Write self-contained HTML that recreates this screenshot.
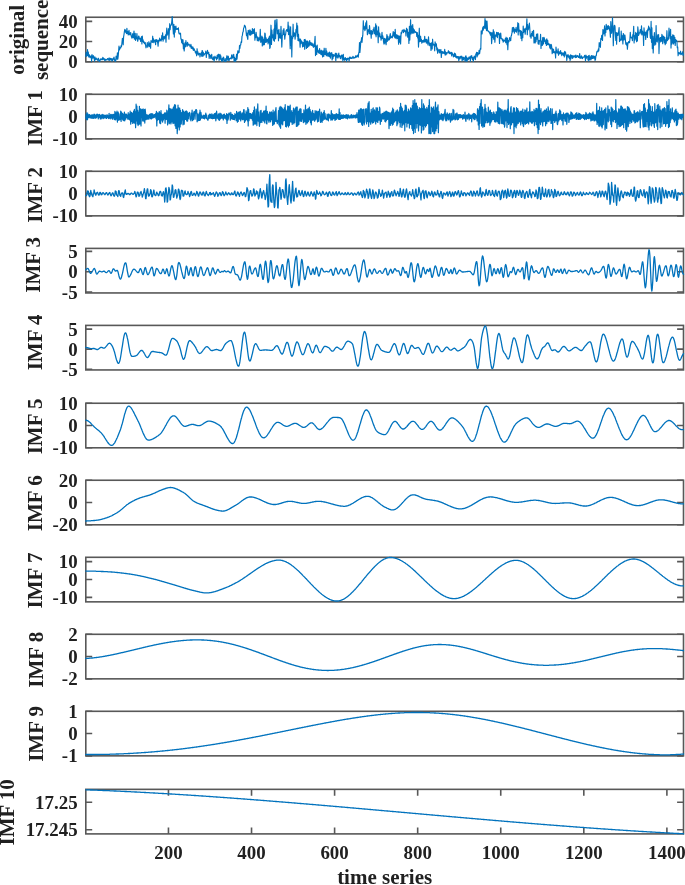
<!DOCTYPE html>
<html><head><meta charset="utf-8"><style>
html,body{margin:0;padding:0;background:#fff;width:685px;height:885px;overflow:hidden;position:relative}
text{font-family:"Liberation Serif",serif;}
</style></head><body>
<svg width="685" height="885" viewBox="0 0 685 885" style="position:absolute;left:0;top:0;will-change:transform;filter:blur(0.3px)">
<g fill="none" stroke="#585858" stroke-width="1.6">
<rect x="85.8" y="17.25" width="597.7" height="44.55"/>
<rect x="85.8" y="94.30" width="597.7" height="44.55"/>
<rect x="85.8" y="171.30" width="597.7" height="44.55"/>
<rect x="85.8" y="248.40" width="597.7" height="44.55"/>
<rect x="85.8" y="325.40" width="597.7" height="44.55"/>
<rect x="85.8" y="403.25" width="597.7" height="44.55"/>
<rect x="85.8" y="480.25" width="597.7" height="44.55"/>
<rect x="85.8" y="557.30" width="597.7" height="44.55"/>
<rect x="85.8" y="634.30" width="597.7" height="44.55"/>
<rect x="85.8" y="711.30" width="597.7" height="44.55"/>
<rect x="85.8" y="789.35" width="597.7" height="44.55"/>
</g>
<g fill="none" stroke="#585858" stroke-width="1.6">
<path d="M85.8,21.34h6.4M683.5,21.34h-6.4"/>
<path d="M85.8,41.48h6.4M683.5,41.48h-6.4"/>
<path d="M85.8,61.80h6.4M683.5,61.80h-6.4"/>
<path d="M85.8,94.30h6.4M683.5,94.30h-6.4"/>
<path d="M85.8,116.57h6.4M683.5,116.57h-6.4"/>
<path d="M85.8,138.85h6.4M683.5,138.85h-6.4"/>
<path d="M85.8,171.30h6.4M683.5,171.30h-6.4"/>
<path d="M85.8,193.58h6.4M683.5,193.58h-6.4"/>
<path d="M85.8,215.85h6.4M683.5,215.85h-6.4"/>
<path d="M85.8,251.35h6.4M683.5,251.35h-6.4"/>
<path d="M85.8,271.70h6.4M683.5,271.70h-6.4"/>
<path d="M85.8,292.00h6.4M683.5,292.00h-6.4"/>
<path d="M85.8,329.15h6.4M683.5,329.15h-6.4"/>
<path d="M85.8,349.15h6.4M683.5,349.15h-6.4"/>
<path d="M85.8,369.20h6.4M683.5,369.20h-6.4"/>
<path d="M85.8,403.25h6.4M683.5,403.25h-6.4"/>
<path d="M85.8,425.52h6.4M683.5,425.52h-6.4"/>
<path d="M85.8,447.80h6.4M683.5,447.80h-6.4"/>
<path d="M85.8,480.25h6.4M683.5,480.25h-6.4"/>
<path d="M85.8,502.52h6.4M683.5,502.52h-6.4"/>
<path d="M85.8,524.80h6.4M683.5,524.80h-6.4"/>
<path d="M85.8,561.60h6.4M683.5,561.60h-6.4"/>
<path d="M85.8,579.50h6.4M683.5,579.50h-6.4"/>
<path d="M85.8,597.40h6.4M683.5,597.40h-6.4"/>
<path d="M85.8,634.30h6.4M683.5,634.30h-6.4"/>
<path d="M85.8,656.57h6.4M683.5,656.57h-6.4"/>
<path d="M85.8,678.85h6.4M683.5,678.85h-6.4"/>
<path d="M85.8,711.30h6.4M683.5,711.30h-6.4"/>
<path d="M85.8,733.57h6.4M683.5,733.57h-6.4"/>
<path d="M85.8,755.85h6.4M683.5,755.85h-6.4"/>
<path d="M85.8,802.30h6.4M683.5,802.30h-6.4"/>
<path d="M85.8,829.80h6.4M683.5,829.80h-6.4"/>
<path d="M168.46,833.90v-6.4M168.46,789.35v6.4"/>
<path d="M251.53,833.90v-6.4M251.53,789.35v6.4"/>
<path d="M334.60,833.90v-6.4M334.60,789.35v6.4"/>
<path d="M417.67,833.90v-6.4M417.67,789.35v6.4"/>
<path d="M500.74,833.90v-6.4M500.74,789.35v6.4"/>
<path d="M583.81,833.90v-6.4M583.81,789.35v6.4"/>
<path d="M666.89,833.90v-6.4M666.89,789.35v6.4"/>
</g>
<g fill="none" stroke="#0072BD" stroke-width="1.3" stroke-linejoin="round" stroke-linecap="round">
<path stroke-width="1.15" d="M85.8,56.5 L86.2,52.3 L86.6,56.1 L87.0,55.9 L87.5,49.6 L87.9,55.3 L88.3,52.1 L88.7,56.9 L89.1,56.8 L89.5,54.8 L90.0,57.7 L90.4,56.9 L90.8,56.3 L91.2,55.8 L91.6,61.3 L92.0,54.6 L92.4,57.5 L92.9,58.2 L93.3,55.6 L93.7,57.7 L94.1,57.4 L94.5,61.2 L94.9,56.9 L95.4,58.8 L95.8,59.8 L96.2,58.0 L96.6,59.2 L97.0,59.1 L97.4,59.8 L97.8,60.3 L98.3,58.2 L98.7,59.0 L99.1,61.3 L99.5,61.3 L99.9,61.3 L100.3,59.3 L100.8,58.9 L101.2,59.3 L101.6,59.7 L102.0,58.7 L102.4,59.7 L102.8,57.4 L103.2,59.1 L103.7,58.2 L104.1,59.8 L104.5,59.1 L104.9,60.9 L105.3,59.2 L105.7,60.2 L106.2,59.7 L106.6,60.0 L107.0,60.0 L107.4,58.6 L107.8,58.6 L108.2,59.1 L108.6,60.1 L109.1,57.8 L109.5,60.4 L109.9,60.1 L110.3,58.3 L110.7,59.1 L111.1,60.0 L111.6,58.6 L112.0,61.1 L112.4,59.2 L112.8,60.4 L113.2,58.4 L113.6,59.2 L114.0,57.0 L114.5,59.8 L114.9,61.2 L115.3,59.9 L115.7,61.3 L116.1,56.1 L116.5,58.6 L117.0,59.2 L117.4,52.8 L117.8,59.1 L118.2,56.2 L118.6,51.2 L119.0,46.1 L119.4,50.0 L119.9,48.6 L120.3,47.5 L120.7,47.8 L121.1,45.5 L121.5,46.7 L121.9,43.2 L122.4,38.3 L122.8,40.4 L123.2,44.8 L123.6,36.9 L124.0,34.5 L124.4,31.6 L124.8,29.3 L125.3,30.0 L125.7,32.4 L126.1,31.3 L126.5,33.7 L126.9,28.3 L127.3,33.4 L127.8,31.6 L128.2,34.9 L128.6,34.2 L129.0,30.3 L129.4,33.7 L129.8,34.8 L130.2,33.6 L130.7,32.6 L131.1,35.6 L131.5,36.7 L131.9,38.2 L132.3,36.1 L132.7,33.7 L133.2,37.7 L133.6,34.9 L134.0,31.1 L134.4,39.1 L134.8,37.0 L135.2,33.4 L135.6,40.5 L136.1,37.0 L136.5,38.7 L136.9,33.6 L137.3,38.2 L137.7,41.3 L138.1,39.4 L138.6,36.0 L139.0,36.4 L139.4,39.1 L139.8,38.2 L140.2,38.4 L140.6,41.4 L141.0,38.4 L141.5,36.7 L141.9,43.9 L142.3,36.0 L142.7,41.5 L143.1,39.9 L143.5,42.5 L144.0,41.7 L144.4,43.7 L144.8,43.2 L145.2,42.5 L145.6,45.4 L146.0,47.8 L146.4,46.1 L146.9,45.5 L147.3,42.5 L147.7,47.1 L148.1,45.0 L148.5,45.1 L148.9,41.7 L149.3,46.7 L149.8,43.2 L150.2,43.2 L150.6,48.1 L151.0,40.5 L151.4,41.0 L151.8,41.6 L152.3,42.4 L152.7,36.2 L153.1,42.0 L153.5,38.9 L153.9,42.6 L154.3,40.6 L154.7,40.7 L155.2,39.8 L155.6,44.6 L156.0,39.9 L156.4,39.6 L156.8,41.4 L157.2,40.1 L157.7,42.9 L158.1,46.3 L158.5,40.3 L158.9,41.8 L159.3,39.9 L159.7,38.0 L160.1,40.4 L160.6,39.7 L161.0,41.1 L161.4,40.0 L161.8,35.6 L162.2,39.3 L162.6,32.8 L163.1,41.1 L163.5,38.2 L163.9,36.6 L164.3,38.9 L164.7,36.7 L165.1,37.8 L165.5,34.8 L166.0,42.2 L166.4,33.2 L166.8,28.0 L167.2,35.1 L167.6,32.7 L168.0,34.0 L168.5,28.7 L168.9,39.1 L169.3,32.2 L169.7,23.7 L170.1,29.8 L170.5,26.0 L170.9,25.4 L171.4,24.6 L171.8,21.4 L172.2,16.6 L172.6,22.9 L173.0,27.9 L173.4,34.0 L173.9,24.4 L174.3,37.1 L174.7,26.5 L175.1,32.2 L175.5,27.6 L175.9,26.1 L176.3,29.2 L176.8,29.5 L177.2,28.5 L177.6,28.8 L178.0,29.4 L178.4,27.8 L178.8,32.7 L179.3,34.1 L179.7,33.2 L180.1,33.3 L180.5,33.2 L180.9,39.0 L181.3,38.9 L181.7,42.8 L182.2,39.7 L182.6,43.8 L183.0,39.7 L183.4,48.8 L183.8,43.9 L184.2,51.0 L184.7,45.0 L185.1,42.6 L185.5,46.8 L185.9,40.5 L186.3,44.6 L186.7,43.3 L187.1,46.4 L187.6,42.3 L188.0,45.1 L188.4,45.1 L188.8,44.1 L189.2,45.0 L189.6,44.9 L190.1,46.9 L190.5,46.6 L190.9,44.3 L191.3,48.5 L191.7,46.3 L192.1,47.4 L192.5,48.9 L193.0,47.0 L193.4,50.5 L193.8,48.7 L194.2,48.8 L194.6,50.4 L195.0,50.8 L195.5,53.0 L195.9,51.6 L196.3,53.7 L196.7,55.8 L197.1,48.7 L197.5,53.9 L197.9,51.7 L198.4,55.0 L198.8,53.5 L199.2,53.9 L199.6,53.3 L200.0,56.9 L200.4,54.2 L200.9,53.7 L201.3,52.7 L201.7,56.2 L202.1,50.6 L202.5,50.7 L202.9,56.5 L203.3,52.3 L203.8,55.2 L204.2,54.9 L204.6,54.0 L205.0,53.3 L205.4,53.5 L205.8,51.1 L206.3,57.4 L206.7,52.3 L207.1,53.6 L207.5,50.3 L207.9,53.0 L208.3,54.0 L208.7,52.4 L209.2,58.5 L209.6,54.6 L210.0,55.5 L210.4,55.4 L210.8,58.3 L211.2,58.1 L211.7,54.4 L212.1,58.6 L212.5,59.0 L212.9,59.7 L213.3,57.5 L213.7,56.9 L214.1,61.3 L214.6,57.5 L215.0,56.2 L215.4,57.9 L215.8,57.5 L216.2,58.4 L216.6,59.9 L217.1,55.6 L217.5,58.5 L217.9,54.7 L218.3,55.9 L218.7,54.2 L219.1,60.4 L219.5,57.4 L220.0,54.4 L220.4,59.1 L220.8,55.9 L221.2,59.6 L221.6,61.1 L222.0,59.4 L222.5,58.3 L222.9,61.3 L223.3,57.0 L223.7,57.6 L224.1,58.6 L224.5,61.3 L224.9,60.3 L225.4,61.3 L225.8,58.5 L226.2,61.3 L226.6,57.1 L227.0,55.7 L227.4,58.8 L227.9,60.3 L228.3,56.2 L228.7,59.9 L229.1,60.6 L229.5,58.6 L229.9,58.6 L230.3,58.0 L230.8,58.1 L231.2,58.9 L231.6,55.4 L232.0,54.7 L232.4,58.1 L232.8,56.2 L233.3,57.4 L233.7,54.4 L234.1,61.3 L234.5,57.2 L234.9,61.1 L235.3,58.7 L235.7,61.3 L236.2,57.6 L236.6,54.2 L237.0,59.3 L237.4,55.0 L237.8,50.8 L238.2,53.2 L238.7,50.9 L239.1,52.5 L239.5,45.5 L239.9,48.5 L240.3,44.8 L240.7,45.0 L241.1,41.9 L241.6,42.3 L242.0,36.4 L242.4,35.4 L242.8,32.2 L243.2,31.8 L243.6,28.2 L244.1,27.5 L244.5,25.2 L244.9,25.9 L245.3,26.0 L245.7,28.4 L246.1,31.6 L246.5,35.7 L247.0,33.1 L247.4,37.7 L247.8,39.5 L248.2,30.4 L248.6,30.8 L249.0,30.8 L249.5,34.9 L249.9,29.9 L250.3,30.3 L250.7,35.3 L251.1,31.9 L251.5,31.5 L251.9,34.1 L252.4,28.6 L252.8,33.5 L253.2,29.6 L253.6,33.3 L254.0,33.1 L254.4,28.7 L254.9,40.2 L255.3,34.6 L255.7,37.7 L256.1,32.3 L256.5,35.7 L256.9,37.1 L257.3,40.6 L257.8,37.0 L258.2,40.8 L258.6,38.1 L259.0,41.0 L259.4,37.5 L259.8,39.5 L260.3,29.4 L260.7,42.3 L261.1,37.3 L261.5,41.9 L261.9,36.1 L262.3,45.9 L262.7,37.4 L263.2,45.0 L263.6,39.2 L264.0,39.9 L264.4,44.6 L264.8,33.0 L265.2,33.7 L265.6,42.4 L266.1,37.8 L266.5,42.2 L266.9,40.5 L267.3,39.4 L267.7,39.9 L268.1,43.9 L268.6,38.0 L269.0,42.5 L269.4,36.1 L269.8,48.4 L270.2,47.4 L270.6,37.0 L271.0,25.2 L271.5,44.5 L271.9,30.1 L272.3,38.0 L272.7,34.9 L273.1,35.5 L273.5,40.2 L274.0,29.0 L274.4,41.2 L274.8,21.0 L275.2,20.0 L275.6,38.8 L276.0,29.0 L276.4,26.6 L276.9,19.4 L277.3,33.8 L277.7,33.4 L278.1,30.7 L278.5,40.8 L278.9,29.3 L279.4,37.4 L279.8,33.5 L280.2,38.5 L280.6,35.1 L281.0,26.4 L281.4,36.4 L281.8,47.1 L282.3,35.4 L282.7,35.3 L283.1,30.0 L283.5,34.5 L283.9,28.5 L284.3,33.3 L284.8,39.2 L285.2,34.4 L285.6,34.8 L286.0,31.1 L286.4,30.4 L286.8,29.6 L287.2,30.6 L287.7,31.5 L288.1,22.0 L288.5,34.6 L288.9,26.0 L289.3,29.2 L289.7,35.2 L290.2,48.7 L290.6,26.8 L291.0,45.3 L291.4,36.1 L291.8,57.0 L292.2,37.4 L292.6,38.7 L293.1,24.2 L293.5,36.6 L293.9,33.9 L294.3,32.8 L294.7,34.1 L295.1,39.1 L295.6,34.0 L296.0,29.4 L296.4,32.1 L296.8,23.0 L297.2,36.3 L297.6,25.8 L298.0,40.5 L298.5,34.2 L298.9,40.9 L299.3,40.2 L299.7,39.1 L300.1,47.2 L300.5,39.1 L301.0,43.7 L301.4,40.8 L301.8,42.1 L302.2,41.9 L302.6,47.0 L303.0,43.6 L303.4,42.5 L303.9,46.5 L304.3,39.6 L304.7,49.3 L305.1,39.3 L305.5,44.8 L305.9,40.9 L306.4,48.4 L306.8,41.7 L307.2,40.9 L307.6,47.5 L308.0,41.5 L308.4,43.1 L308.8,46.3 L309.3,45.0 L309.7,40.6 L310.1,44.9 L310.5,42.5 L310.9,43.8 L311.3,45.4 L311.8,42.8 L312.2,44.3 L312.6,46.0 L313.0,43.8 L313.4,47.3 L313.8,45.2 L314.2,46.7 L314.7,41.9 L315.1,36.4 L315.5,55.6 L315.9,45.7 L316.3,49.0 L316.7,54.5 L317.2,45.0 L317.6,51.8 L318.0,50.0 L318.4,52.6 L318.8,51.0 L319.2,53.5 L319.6,48.5 L320.1,53.2 L320.5,51.0 L320.9,54.5 L321.3,50.2 L321.7,54.6 L322.1,51.1 L322.6,56.9 L323.0,50.8 L323.4,54.0 L323.8,56.5 L324.2,48.2 L324.6,54.1 L325.0,54.5 L325.5,54.5 L325.9,48.4 L326.3,55.8 L326.7,51.1 L327.1,55.2 L327.5,53.2 L328.0,56.3 L328.4,52.9 L328.8,55.8 L329.2,56.6 L329.6,52.1 L330.0,56.0 L330.4,58.2 L330.9,53.0 L331.3,55.0 L331.7,52.5 L332.1,60.0 L332.5,54.2 L332.9,58.6 L333.4,54.5 L333.8,56.4 L334.2,55.0 L334.6,55.4 L335.0,56.0 L335.4,53.2 L335.8,60.8 L336.3,54.3 L336.7,53.4 L337.1,57.2 L337.5,55.4 L337.9,58.1 L338.3,56.1 L338.8,53.1 L339.2,56.9 L339.6,55.7 L340.0,55.6 L340.4,58.6 L340.8,56.7 L341.2,56.5 L341.7,55.0 L342.1,59.0 L342.5,55.3 L342.9,61.3 L343.3,54.3 L343.7,59.5 L344.2,58.2 L344.6,60.3 L345.0,58.2 L345.4,57.7 L345.8,59.7 L346.2,58.5 L346.6,61.3 L347.1,58.7 L347.5,59.4 L347.9,58.0 L348.3,58.7 L348.7,58.4 L349.1,61.1 L349.6,57.1 L350.0,58.5 L350.4,57.7 L350.8,57.2 L351.2,58.5 L351.6,58.5 L352.0,57.9 L352.5,58.1 L352.9,56.3 L353.3,57.1 L353.7,58.2 L354.1,57.3 L354.5,58.0 L355.0,57.4 L355.4,57.6 L355.8,55.7 L356.2,57.2 L356.6,56.1 L357.0,56.8 L357.4,55.1 L357.9,56.0 L358.3,57.1 L358.7,53.1 L359.1,51.7 L359.5,42.6 L359.9,52.5 L360.4,46.9 L360.8,41.3 L361.2,41.2 L361.6,37.7 L362.0,42.5 L362.4,38.2 L362.8,35.2 L363.3,20.7 L363.7,29.1 L364.1,26.1 L364.5,27.3 L364.9,30.6 L365.3,29.1 L365.8,22.8 L366.2,28.7 L366.6,20.8 L367.0,27.5 L367.4,34.6 L367.8,30.1 L368.2,31.1 L368.7,29.5 L369.1,33.6 L369.5,25.5 L369.9,29.8 L370.3,34.0 L370.7,30.8 L371.2,38.1 L371.6,30.6 L372.0,34.1 L372.4,31.7 L372.8,34.0 L373.2,29.3 L373.6,30.8 L374.1,27.2 L374.5,33.5 L374.9,30.7 L375.3,34.8 L375.7,23.8 L376.1,36.8 L376.6,25.9 L377.0,34.7 L377.4,30.9 L377.8,32.3 L378.2,42.7 L378.6,26.8 L379.0,36.6 L379.5,33.0 L379.9,34.0 L380.3,37.5 L380.7,36.6 L381.1,40.1 L381.5,37.6 L382.0,32.3 L382.4,38.4 L382.8,35.9 L383.2,38.4 L383.6,42.1 L384.0,44.2 L384.4,38.4 L384.9,43.1 L385.3,40.4 L385.7,38.9 L386.1,44.6 L386.5,39.6 L386.9,34.6 L387.3,41.4 L387.8,36.2 L388.2,38.2 L388.6,40.2 L389.0,40.0 L389.4,39.4 L389.8,36.1 L390.3,33.5 L390.7,38.1 L391.1,37.1 L391.5,37.4 L391.9,36.2 L392.3,37.8 L392.7,35.5 L393.2,31.5 L393.6,34.9 L394.0,36.4 L394.4,32.7 L394.8,37.7 L395.2,29.4 L395.7,38.1 L396.1,36.9 L396.5,34.7 L396.9,38.8 L397.3,35.1 L397.7,38.5 L398.1,35.8 L398.6,44.2 L399.0,35.8 L399.4,42.3 L399.8,37.8 L400.2,36.2 L400.6,43.9 L401.1,32.6 L401.5,33.6 L401.9,32.0 L402.3,30.1 L402.7,30.6 L403.1,30.4 L403.5,32.6 L404.0,29.3 L404.4,31.3 L404.8,30.5 L405.2,31.7 L405.6,30.9 L406.0,36.0 L406.5,28.2 L406.9,31.5 L407.3,29.2 L407.7,37.1 L408.1,34.0 L408.5,32.4 L408.9,43.5 L409.4,26.3 L409.8,40.1 L410.2,29.8 L410.6,19.7 L411.0,33.9 L411.4,25.8 L411.9,29.4 L412.3,33.1 L412.7,24.5 L413.1,32.8 L413.5,28.9 L413.9,33.2 L414.3,29.9 L414.8,32.2 L415.2,31.5 L415.6,32.4 L416.0,32.4 L416.4,32.2 L416.8,36.5 L417.3,32.6 L417.7,37.9 L418.1,35.3 L418.5,47.1 L418.9,37.8 L419.3,28.2 L419.7,41.7 L420.2,40.6 L420.6,36.2 L421.0,41.4 L421.4,39.4 L421.8,43.2 L422.2,40.6 L422.7,40.7 L423.1,42.3 L423.5,40.0 L423.9,40.8 L424.3,42.0 L424.7,36.4 L425.1,42.0 L425.6,39.5 L426.0,39.4 L426.4,43.1 L426.8,39.4 L427.2,41.0 L427.6,43.2 L428.1,45.1 L428.5,36.8 L428.9,42.7 L429.3,42.6 L429.7,45.6 L430.1,44.3 L430.5,43.3 L431.0,50.4 L431.4,44.8 L431.8,42.5 L432.2,49.0 L432.6,39.2 L433.0,44.9 L433.5,44.0 L433.9,45.3 L434.3,44.9 L434.7,50.8 L435.1,41.9 L435.5,43.8 L435.9,46.2 L436.4,43.8 L436.8,50.0 L437.2,47.8 L437.6,53.3 L438.0,49.1 L438.4,50.7 L438.9,50.2 L439.3,52.8 L439.7,49.6 L440.1,52.8 L440.5,51.5 L440.9,49.5 L441.3,57.5 L441.8,51.5 L442.2,53.5 L442.6,51.6 L443.0,51.9 L443.4,53.3 L443.8,52.0 L444.3,53.4 L444.7,49.3 L445.1,54.9 L445.5,51.9 L445.9,54.9 L446.3,52.5 L446.7,54.0 L447.2,52.8 L447.6,52.7 L448.0,52.3 L448.4,50.7 L448.8,52.2 L449.2,53.6 L449.7,51.8 L450.1,53.6 L450.5,52.9 L450.9,53.6 L451.3,52.4 L451.7,56.0 L452.1,52.7 L452.6,54.3 L453.0,54.0 L453.4,56.9 L453.8,54.8 L454.2,56.4 L454.6,53.1 L455.1,56.5 L455.5,53.8 L455.9,57.5 L456.3,56.5 L456.7,56.3 L457.1,58.5 L457.5,56.6 L458.0,57.0 L458.4,56.6 L458.8,60.7 L459.2,57.7 L459.6,56.8 L460.0,59.0 L460.5,56.4 L460.9,56.4 L461.3,58.0 L461.7,56.1 L462.1,60.8 L462.5,58.9 L462.9,57.0 L463.4,59.9 L463.8,57.3 L464.2,58.4 L464.6,58.2 L465.0,61.3 L465.4,56.7 L465.9,55.8 L466.3,61.2 L466.7,57.3 L467.1,61.3 L467.5,58.2 L467.9,59.6 L468.3,59.6 L468.8,57.3 L469.2,56.9 L469.6,58.7 L470.0,57.1 L470.4,61.3 L470.8,56.1 L471.3,57.7 L471.7,55.6 L472.1,57.8 L472.5,59.6 L472.9,57.6 L473.3,61.3 L473.7,58.6 L474.2,56.1 L474.6,56.2 L475.0,58.1 L475.4,59.7 L475.8,54.1 L476.2,53.7 L476.7,52.3 L477.1,57.0 L477.5,52.6 L477.9,55.1 L478.3,53.8 L478.7,54.0 L479.1,50.3 L479.6,53.6 L480.0,50.5 L480.4,48.4 L480.8,49.2 L481.2,30.9 L481.6,31.1 L482.1,34.0 L482.5,29.1 L482.9,27.0 L483.3,30.1 L483.7,26.3 L484.1,27.4 L484.5,28.2 L485.0,18.6 L485.4,28.1 L485.8,20.9 L486.2,28.6 L486.6,30.7 L487.0,21.0 L487.5,29.9 L487.9,31.1 L488.3,30.9 L488.7,31.7 L489.1,31.7 L489.5,33.1 L489.9,32.0 L490.4,35.2 L490.8,32.8 L491.2,32.6 L491.6,43.6 L492.0,38.8 L492.4,32.8 L492.9,37.3 L493.3,29.7 L493.7,39.2 L494.1,31.7 L494.5,36.9 L494.9,42.3 L495.3,35.1 L495.8,35.1 L496.2,36.3 L496.6,32.4 L497.0,34.3 L497.4,37.6 L497.8,32.5 L498.3,32.6 L498.7,34.6 L499.1,34.1 L499.5,43.4 L499.9,33.7 L500.3,38.3 L500.7,33.1 L501.2,38.7 L501.6,38.4 L502.0,38.8 L502.4,40.4 L502.8,39.0 L503.2,42.2 L503.7,40.1 L504.1,41.3 L504.5,40.5 L504.9,40.7 L505.3,38.7 L505.7,42.7 L506.1,37.2 L506.6,41.0 L507.0,44.6 L507.4,38.0 L507.8,49.7 L508.2,41.9 L508.6,40.3 L509.0,41.8 L509.5,37.7 L509.9,38.2 L510.3,39.5 L510.7,40.7 L511.1,36.0 L511.5,35.4 L512.0,32.4 L512.4,27.5 L512.8,31.9 L513.2,30.8 L513.6,27.4 L514.0,28.4 L514.4,33.1 L514.9,29.4 L515.3,30.3 L515.7,31.3 L516.1,27.4 L516.5,32.2 L516.9,30.0 L517.4,29.7 L517.8,22.7 L518.2,35.0 L518.6,23.6 L519.0,31.2 L519.4,30.1 L519.8,30.8 L520.3,35.2 L520.7,30.6 L521.1,38.5 L521.5,31.3 L521.9,40.7 L522.3,32.9 L522.8,37.7 L523.2,26.0 L523.6,32.5 L524.0,30.9 L524.4,28.9 L524.8,30.0 L525.2,34.3 L525.7,28.3 L526.1,29.5 L526.5,26.7 L526.9,18.8 L527.3,34.7 L527.7,24.6 L528.2,29.8 L528.6,27.8 L529.0,27.5 L529.4,23.1 L529.8,28.9 L530.2,36.7 L530.6,35.4 L531.1,38.3 L531.5,33.6 L531.9,35.5 L532.3,31.4 L532.7,35.8 L533.1,36.5 L533.6,30.4 L534.0,43.0 L534.4,37.2 L534.8,38.1 L535.2,43.0 L535.6,37.4 L536.0,41.6 L536.5,34.2 L536.9,39.1 L537.3,34.2 L537.7,33.9 L538.1,43.8 L538.5,40.3 L539.0,44.4 L539.4,40.6 L539.8,40.6 L540.2,40.9 L540.6,34.4 L541.0,48.4 L541.4,41.4 L541.9,41.1 L542.3,45.4 L542.7,37.6 L543.1,44.2 L543.5,43.8 L543.9,37.3 L544.4,38.5 L544.8,41.3 L545.2,40.9 L545.6,43.6 L546.0,39.9 L546.4,45.5 L546.8,38.9 L547.3,44.8 L547.7,40.4 L548.1,44.5 L548.5,43.5 L548.9,45.0 L549.3,44.0 L549.8,47.9 L550.2,44.8 L550.6,49.0 L551.0,44.4 L551.4,44.9 L551.8,47.5 L552.2,53.6 L552.7,48.9 L553.1,52.4 L553.5,49.3 L553.9,52.6 L554.3,51.6 L554.7,52.9 L555.2,51.9 L555.6,57.9 L556.0,47.1 L556.4,51.0 L556.8,52.4 L557.2,53.1 L557.6,52.4 L558.1,48.9 L558.5,55.3 L558.9,51.5 L559.3,54.0 L559.7,52.0 L560.1,53.6 L560.6,50.6 L561.0,53.7 L561.4,52.6 L561.8,55.7 L562.2,54.4 L562.6,52.9 L563.0,53.1 L563.5,55.4 L563.9,52.9 L564.3,56.9 L564.7,51.3 L565.1,54.0 L565.5,52.0 L566.0,55.7 L566.4,55.1 L566.8,60.5 L567.2,56.4 L567.6,55.2 L568.0,54.6 L568.4,57.1 L568.9,55.9 L569.3,58.4 L569.7,56.1 L570.1,60.4 L570.5,54.9 L570.9,58.9 L571.4,55.4 L571.8,55.5 L572.2,56.8 L572.6,58.4 L573.0,55.5 L573.4,57.2 L573.8,56.9 L574.3,56.2 L574.7,57.0 L575.1,55.4 L575.5,57.7 L575.9,55.1 L576.3,57.5 L576.8,56.0 L577.2,56.5 L577.6,55.5 L578.0,56.9 L578.4,57.3 L578.8,56.2 L579.2,57.6 L579.7,53.5 L580.1,58.3 L580.5,58.0 L580.9,58.1 L581.3,55.9 L581.7,56.6 L582.2,58.6 L582.6,58.4 L583.0,57.0 L583.4,57.2 L583.8,57.1 L584.2,57.2 L584.6,55.4 L585.1,56.5 L585.5,60.9 L585.9,55.0 L586.3,58.5 L586.7,56.2 L587.1,57.0 L587.6,56.7 L588.0,59.9 L588.4,55.8 L588.8,60.9 L589.2,55.3 L589.6,59.7 L590.0,57.9 L590.5,56.8 L590.9,60.0 L591.3,55.6 L591.7,58.7 L592.1,55.6 L592.5,58.5 L593.0,56.7 L593.4,55.9 L593.8,58.3 L594.2,57.0 L594.6,56.3 L595.0,60.3 L595.4,60.1 L595.9,55.6 L596.3,55.7 L596.7,52.4 L597.1,51.2 L597.5,51.0 L597.9,51.8 L598.4,48.9 L598.8,50.9 L599.2,42.6 L599.6,46.4 L600.0,43.4 L600.4,47.3 L600.8,38.5 L601.3,39.4 L601.7,35.2 L602.1,35.2 L602.5,40.5 L602.9,29.6 L603.3,30.5 L603.8,34.0 L604.2,31.0 L604.6,25.8 L605.0,35.9 L605.4,29.1 L605.8,32.5 L606.2,24.3 L606.7,27.9 L607.1,29.6 L607.5,26.1 L607.9,29.2 L608.3,25.5 L608.7,28.7 L609.2,26.6 L609.6,30.3 L610.0,31.5 L610.4,37.3 L610.8,21.5 L611.2,31.1 L611.6,33.3 L612.1,27.5 L612.5,17.8 L612.9,29.6 L613.3,45.7 L613.7,35.1 L614.1,25.9 L614.6,25.3 L615.0,26.5 L615.4,35.1 L615.8,40.4 L616.2,32.6 L616.6,44.2 L617.0,32.9 L617.5,34.8 L617.9,35.4 L618.3,32.9 L618.7,31.3 L619.1,27.5 L619.5,41.6 L620.0,40.3 L620.4,39.2 L620.8,40.1 L621.2,31.0 L621.6,39.9 L622.0,35.5 L622.4,36.8 L622.9,44.0 L623.3,33.5 L623.7,34.4 L624.1,40.0 L624.5,37.1 L624.9,35.0 L625.3,38.9 L625.8,44.2 L626.2,43.0 L626.6,45.2 L627.0,42.5 L627.4,49.1 L627.8,44.4 L628.3,42.6 L628.7,41.5 L629.1,42.2 L629.5,42.7 L629.9,39.6 L630.3,32.3 L630.7,37.8 L631.2,37.1 L631.6,38.1 L632.0,37.2 L632.4,40.7 L632.8,34.6 L633.2,36.1 L633.7,26.3 L634.1,43.0 L634.5,35.5 L634.9,40.2 L635.3,37.6 L635.7,32.4 L636.1,34.8 L636.6,41.7 L637.0,33.4 L637.4,41.0 L637.8,26.9 L638.2,30.7 L638.6,35.4 L639.1,33.8 L639.5,32.8 L639.9,32.1 L640.3,29.6 L640.7,31.7 L641.1,34.0 L641.5,25.8 L642.0,35.0 L642.4,31.0 L642.8,33.0 L643.2,32.3 L643.6,45.5 L644.0,27.8 L644.5,34.2 L644.9,35.2 L645.3,32.0 L645.7,39.5 L646.1,32.7 L646.5,33.1 L646.9,30.5 L647.4,37.5 L647.8,29.0 L648.2,30.8 L648.6,26.1 L649.0,29.5 L649.4,27.8 L649.9,30.3 L650.3,37.5 L650.7,38.4 L651.1,21.4 L651.5,42.3 L651.9,27.9 L652.3,48.6 L652.8,36.2 L653.2,52.9 L653.6,42.7 L654.0,38.7 L654.4,32.6 L654.8,45.2 L655.3,38.8 L655.7,44.2 L656.1,25.5 L656.5,41.3 L656.9,36.9 L657.3,42.0 L657.7,34.9 L658.2,39.9 L658.6,34.5 L659.0,53.6 L659.4,40.7 L659.8,38.4 L660.2,37.5 L660.7,42.0 L661.1,37.3 L661.5,41.2 L661.9,34.3 L662.3,35.9 L662.7,43.7 L663.1,36.2 L663.6,36.3 L664.0,39.6 L664.4,42.8 L664.8,37.2 L665.2,44.6 L665.6,39.9 L666.1,43.5 L666.5,40.2 L666.9,30.7 L667.3,40.6 L667.7,39.9 L668.1,37.9 L668.5,39.2 L669.0,28.0 L669.4,32.5 L669.8,35.1 L670.2,38.6 L670.6,29.4 L671.0,48.1 L671.5,36.6 L671.9,44.1 L672.3,42.4 L672.7,34.9 L673.1,37.8 L673.5,44.0 L673.9,35.2 L674.4,42.6 L674.8,37.4 L675.2,45.5 L675.6,39.5 L676.0,41.4 L676.4,40.3 L676.9,41.4 L677.3,47.6 L677.7,46.9 L678.1,55.8 L678.5,52.7 L678.9,52.6 L679.3,53.9 L679.8,52.9 L680.2,53.8 L680.6,51.2 L681.0,54.7 L681.4,53.2 L681.8,54.1 L682.3,54.0 L682.7,51.7 L683.1,55.4 L683.5,53.8"/>
<path stroke-width="1.2" d="M85.8,118.5 L86.2,114.0 L86.6,119.7 L87.0,112.5 L87.5,119.6 L87.9,113.9 L88.3,114.7 L88.7,117.6 L89.1,115.4 L89.5,114.5 L90.0,118.0 L90.4,115.3 L90.8,118.0 L91.2,115.2 L91.6,118.1 L92.0,114.9 L92.4,118.2 L92.9,114.8 L93.3,118.5 L93.7,118.0 L94.1,114.1 L94.5,114.5 L94.9,118.1 L95.4,115.1 L95.8,118.2 L96.2,114.8 L96.6,117.6 L97.0,114.0 L97.4,114.4 L97.8,115.3 L98.3,119.0 L98.7,114.6 L99.1,117.5 L99.5,114.3 L99.9,114.9 L100.3,119.0 L100.8,115.6 L101.2,118.9 L101.6,114.9 L102.0,115.1 L102.4,118.0 L102.8,114.4 L103.2,118.7 L103.7,115.1 L104.1,117.8 L104.5,117.8 L104.9,115.1 L105.3,117.7 L105.7,115.3 L106.2,118.5 L106.6,118.5 L107.0,114.7 L107.4,117.5 L107.8,115.5 L108.2,117.7 L108.6,118.5 L109.1,113.3 L109.5,118.2 L109.9,115.5 L110.3,118.8 L110.7,114.4 L111.1,117.5 L111.6,118.2 L112.0,114.4 L112.4,119.2 L112.8,114.9 L113.2,117.7 L113.6,114.3 L114.0,119.2 L114.5,119.7 L114.9,111.4 L115.3,112.7 L115.7,119.9 L116.1,112.8 L116.5,118.8 L117.0,111.0 L117.4,122.1 L117.8,114.2 L118.2,112.1 L118.6,120.2 L119.0,113.8 L119.4,119.9 L119.9,118.6 L120.3,119.6 L120.7,111.1 L121.1,121.5 L121.5,112.0 L121.9,118.9 L122.4,113.4 L122.8,119.9 L123.2,114.1 L123.6,120.4 L124.0,120.7 L124.4,112.1 L124.8,120.8 L125.3,114.0 L125.7,119.2 L126.1,114.1 L126.5,114.4 L126.9,117.7 L127.3,115.4 L127.8,119.1 L128.2,112.7 L128.6,118.5 L129.0,119.3 L129.4,114.0 L129.8,119.9 L130.2,111.2 L130.7,124.2 L131.1,121.1 L131.5,112.4 L131.9,121.4 L132.3,113.2 L132.7,123.4 L133.2,120.0 L133.6,111.0 L134.0,122.9 L134.4,109.4 L134.8,123.2 L135.2,111.9 L135.6,127.7 L136.1,104.2 L136.5,120.9 L136.9,106.1 L137.3,123.9 L137.7,110.3 L138.1,125.6 L138.6,112.4 L139.0,124.4 L139.4,106.3 L139.8,120.4 L140.2,124.0 L140.6,108.8 L141.0,125.9 L141.5,111.7 L141.9,109.3 L142.3,113.3 L142.7,120.9 L143.1,108.9 L143.5,112.9 L144.0,121.3 L144.4,109.5 L144.8,123.1 L145.2,109.2 L145.6,113.3 L146.0,119.7 L146.4,118.7 L146.9,114.5 L147.3,119.2 L147.7,115.3 L148.1,118.8 L148.5,115.3 L148.9,119.1 L149.3,114.7 L149.8,117.8 L150.2,113.9 L150.6,118.7 L151.0,113.8 L151.4,118.9 L151.8,113.6 L152.3,118.1 L152.7,113.9 L153.1,117.6 L153.5,115.0 L153.9,117.7 L154.3,114.7 L154.7,117.2 L155.2,114.8 L155.6,113.6 L156.0,118.8 L156.4,111.4 L156.8,125.9 L157.2,112.7 L157.7,120.2 L158.1,113.7 L158.5,119.4 L158.9,112.7 L159.3,111.5 L159.7,123.1 L160.1,112.9 L160.6,123.7 L161.0,110.6 L161.4,119.9 L161.8,114.0 L162.2,120.8 L162.6,122.1 L163.1,114.3 L163.5,119.9 L163.9,114.0 L164.3,118.3 L164.7,112.9 L165.1,123.2 L165.5,112.8 L166.0,119.4 L166.4,119.3 L166.8,110.2 L167.2,111.3 L167.6,124.9 L168.0,121.7 L168.5,112.0 L168.9,104.8 L169.3,123.7 L169.7,108.7 L170.1,122.7 L170.5,108.8 L170.9,124.0 L171.4,120.4 L171.8,109.2 L172.2,121.9 L172.6,109.1 L173.0,123.6 L173.4,107.2 L173.9,123.2 L174.3,106.2 L174.7,104.6 L175.1,125.8 L175.5,105.2 L175.9,128.5 L176.3,110.5 L176.8,108.8 L177.2,133.6 L177.6,126.8 L178.0,105.0 L178.4,127.0 L178.8,107.8 L179.3,129.9 L179.7,108.0 L180.1,127.0 L180.5,110.3 L180.9,124.1 L181.3,124.0 L181.7,112.5 L182.2,119.9 L182.6,109.6 L183.0,124.8 L183.4,120.7 L183.8,111.0 L184.2,124.2 L184.7,112.6 L185.1,119.3 L185.5,111.3 L185.9,119.4 L186.3,110.9 L186.7,121.0 L187.1,111.7 L187.6,121.1 L188.0,113.2 L188.4,118.8 L188.8,113.3 L189.2,113.8 L189.6,112.4 L190.1,119.2 L190.5,118.9 L190.9,121.0 L191.3,113.3 L191.7,118.9 L192.1,110.0 L192.5,120.6 L193.0,113.8 L193.4,119.6 L193.8,112.0 L194.2,111.7 L194.6,111.8 L195.0,119.1 L195.5,109.9 L195.9,113.2 L196.3,109.7 L196.7,110.3 L197.1,121.8 L197.5,113.9 L197.9,120.8 L198.4,114.8 L198.8,120.5 L199.2,113.2 L199.6,120.4 L200.0,110.2 L200.4,120.0 L200.9,112.4 L201.3,115.1 L201.7,118.1 L202.1,116.0 L202.5,117.6 L202.9,118.2 L203.3,115.0 L203.8,118.4 L204.2,115.5 L204.6,118.9 L205.0,115.2 L205.4,117.8 L205.8,113.1 L206.3,118.3 L206.7,115.1 L207.1,119.0 L207.5,119.5 L207.9,120.3 L208.3,118.6 L208.7,115.2 L209.2,118.4 L209.6,114.2 L210.0,118.0 L210.4,114.5 L210.8,118.1 L211.2,113.8 L211.7,118.4 L212.1,115.4 L212.5,118.7 L212.9,114.1 L213.3,118.5 L213.7,115.0 L214.1,118.4 L214.6,113.6 L215.0,118.3 L215.4,113.0 L215.8,120.8 L216.2,118.2 L216.6,111.1 L217.1,118.0 L217.5,115.5 L217.9,118.7 L218.3,113.8 L218.7,119.8 L219.1,114.1 L219.5,120.3 L220.0,113.0 L220.4,118.9 L220.8,113.9 L221.2,113.9 L221.6,118.2 L222.0,115.0 L222.5,118.2 L222.9,115.1 L223.3,120.0 L223.7,114.3 L224.1,118.2 L224.5,114.2 L224.9,118.2 L225.4,115.5 L225.8,118.4 L226.2,119.6 L226.6,113.7 L227.0,123.4 L227.4,114.3 L227.9,120.1 L228.3,118.9 L228.7,113.8 L229.1,112.9 L229.5,113.8 L229.9,114.7 L230.3,120.1 L230.8,112.4 L231.2,119.0 L231.6,114.3 L232.0,118.3 L232.4,114.4 L232.8,119.5 L233.3,115.3 L233.7,119.4 L234.1,115.5 L234.5,119.6 L234.9,113.7 L235.3,117.8 L235.7,114.5 L236.2,120.6 L236.6,111.3 L237.0,112.9 L237.4,122.2 L237.8,113.0 L238.2,121.5 L238.7,112.2 L239.1,112.0 L239.5,119.2 L239.9,118.7 L240.3,111.4 L240.7,121.0 L241.1,114.1 L241.6,118.9 L242.0,112.8 L242.4,119.7 L242.8,113.2 L243.2,119.6 L243.6,109.8 L244.1,109.6 L244.5,122.5 L244.9,114.1 L245.3,121.2 L245.7,119.8 L246.1,110.9 L246.5,119.4 L247.0,112.7 L247.4,120.8 L247.8,107.6 L248.2,125.9 L248.6,109.3 L249.0,120.6 L249.5,115.2 L249.9,113.4 L250.3,118.1 L250.7,113.7 L251.1,118.6 L251.5,118.3 L251.9,114.1 L252.4,120.1 L252.8,112.5 L253.2,125.2 L253.6,110.6 L254.0,124.3 L254.4,106.9 L254.9,122.7 L255.3,124.1 L255.7,122.8 L256.1,109.1 L256.5,121.9 L256.9,125.6 L257.3,113.1 L257.8,103.9 L258.2,121.1 L258.6,112.0 L259.0,120.9 L259.4,126.3 L259.8,123.1 L260.3,110.8 L260.7,122.4 L261.1,110.4 L261.5,120.4 L261.9,122.4 L262.3,113.7 L262.7,112.9 L263.2,120.5 L263.6,111.1 L264.0,121.6 L264.4,111.2 L264.8,122.9 L265.2,110.7 L265.6,120.0 L266.1,106.0 L266.5,123.3 L266.9,123.9 L267.3,111.3 L267.7,119.9 L268.1,114.0 L268.6,120.7 L269.0,122.3 L269.4,113.0 L269.8,111.9 L270.2,120.3 L270.6,121.9 L271.0,112.6 L271.5,112.0 L271.9,119.8 L272.3,113.0 L272.7,125.4 L273.1,110.0 L273.5,124.3 L274.0,112.9 L274.4,123.9 L274.8,111.4 L275.2,121.5 L275.6,110.6 L276.0,107.5 L276.4,121.6 L276.9,120.6 L277.3,123.6 L277.7,121.3 L278.1,119.2 L278.5,110.5 L278.9,125.0 L279.4,107.8 L279.8,126.8 L280.2,106.4 L280.6,128.3 L281.0,111.8 L281.4,107.2 L281.8,124.0 L282.3,108.0 L282.7,124.8 L283.1,110.0 L283.5,109.6 L283.9,120.8 L284.3,107.8 L284.8,120.5 L285.2,104.7 L285.6,126.5 L286.0,110.1 L286.4,127.0 L286.8,111.4 L287.2,125.7 L287.7,106.1 L288.1,107.0 L288.5,127.0 L288.9,106.4 L289.3,125.5 L289.7,121.0 L290.2,105.1 L290.6,121.0 L291.0,122.1 L291.4,112.8 L291.8,110.5 L292.2,124.4 L292.6,112.7 L293.1,123.0 L293.5,108.2 L293.9,123.8 L294.3,110.0 L294.7,122.5 L295.1,108.7 L295.6,109.5 L296.0,107.2 L296.4,126.5 L296.8,107.1 L297.2,107.0 L297.6,126.1 L298.0,125.3 L298.5,111.3 L298.9,124.5 L299.3,109.9 L299.7,120.9 L300.1,108.7 L300.5,121.1 L301.0,109.1 L301.4,121.4 L301.8,118.7 L302.2,113.8 L302.6,113.6 L303.0,119.2 L303.4,122.6 L303.9,109.8 L304.3,113.8 L304.7,121.9 L305.1,120.6 L305.5,105.0 L305.9,124.3 L306.4,122.5 L306.8,109.6 L307.2,121.8 L307.6,123.0 L308.0,108.6 L308.4,121.5 L308.8,113.2 L309.3,107.1 L309.7,119.9 L310.1,109.7 L310.5,122.7 L310.9,111.5 L311.3,124.8 L311.8,113.2 L312.2,120.4 L312.6,110.3 L313.0,114.4 L313.4,119.8 L313.8,113.7 L314.2,120.3 L314.7,121.3 L315.1,110.7 L315.5,119.8 L315.9,118.7 L316.3,111.8 L316.7,111.1 L317.2,118.8 L317.6,121.8 L318.0,111.5 L318.4,121.3 L318.8,111.4 L319.2,112.6 L319.6,109.2 L320.1,120.1 L320.5,122.3 L320.9,121.5 L321.3,112.1 L321.7,119.9 L322.1,122.3 L322.6,113.8 L323.0,120.4 L323.4,112.7 L323.8,119.2 L324.2,110.5 L324.6,119.1 L325.0,113.4 L325.5,118.4 L325.9,118.6 L326.3,119.7 L326.7,119.6 L327.1,114.2 L327.5,119.8 L328.0,114.9 L328.4,120.8 L328.8,113.8 L329.2,117.7 L329.6,114.9 L330.0,118.1 L330.4,115.3 L330.9,120.2 L331.3,110.6 L331.7,119.7 L332.1,113.5 L332.5,119.9 L332.9,114.4 L333.4,118.6 L333.8,114.9 L334.2,118.6 L334.6,114.5 L335.0,120.5 L335.4,119.0 L335.8,114.2 L336.3,119.5 L336.7,113.7 L337.1,117.6 L337.5,114.7 L337.9,118.6 L338.3,114.7 L338.8,119.5 L339.2,108.9 L339.6,119.5 L340.0,112.7 L340.4,119.3 L340.8,115.8 L341.2,118.5 L341.7,114.9 L342.1,118.4 L342.5,118.0 L342.9,115.2 L343.3,118.3 L343.7,114.8 L344.2,117.7 L344.6,115.7 L345.0,117.7 L345.4,115.3 L345.8,118.1 L346.2,114.6 L346.6,118.1 L347.1,114.8 L347.5,118.9 L347.9,117.9 L348.3,114.8 L348.7,117.6 L349.1,115.5 L349.6,118.2 L350.0,117.6 L350.4,117.7 L350.8,115.1 L351.2,118.2 L351.6,114.6 L352.0,117.5 L352.5,115.9 L352.9,118.1 L353.3,115.0 L353.7,117.3 L354.1,115.7 L354.5,115.3 L355.0,117.8 L355.4,115.2 L355.8,117.9 L356.2,114.9 L356.6,117.6 L357.0,112.7 L357.4,115.1 L357.9,118.6 L358.3,122.3 L358.7,110.0 L359.1,122.4 L359.5,110.0 L359.9,121.4 L360.4,108.9 L360.8,122.3 L361.2,108.7 L361.6,124.2 L362.0,109.9 L362.4,125.5 L362.8,109.5 L363.3,122.9 L363.7,109.1 L364.1,124.9 L364.5,122.5 L364.9,122.3 L365.3,109.2 L365.8,112.4 L366.2,108.5 L366.6,124.0 L367.0,110.1 L367.4,121.6 L367.8,106.8 L368.2,103.0 L368.7,126.5 L369.1,101.5 L369.5,122.0 L369.9,113.0 L370.3,113.2 L370.7,124.2 L371.2,109.3 L371.6,121.6 L372.0,111.9 L372.4,123.1 L372.8,108.8 L373.2,107.9 L373.6,122.6 L374.1,120.7 L374.5,109.9 L374.9,120.9 L375.3,111.3 L375.7,124.0 L376.1,107.7 L376.6,120.8 L377.0,121.5 L377.4,107.9 L377.8,122.4 L378.2,111.5 L378.6,111.9 L379.0,120.2 L379.5,107.2 L379.9,108.6 L380.3,124.3 L380.7,114.4 L381.1,120.9 L381.5,121.3 L382.0,113.7 L382.4,118.7 L382.8,113.3 L383.2,119.2 L383.6,118.6 L384.0,112.2 L384.4,112.5 L384.9,121.3 L385.3,111.9 L385.7,121.9 L386.1,111.2 L386.5,120.3 L386.9,111.3 L387.3,119.4 L387.8,112.3 L388.2,119.1 L388.6,112.3 L389.0,128.6 L389.4,120.5 L389.8,112.9 L390.3,125.3 L390.7,122.5 L391.1,112.7 L391.5,123.4 L391.9,111.1 L392.3,125.2 L392.7,108.1 L393.2,124.3 L393.6,109.7 L394.0,122.3 L394.4,114.0 L394.8,121.6 L395.2,112.6 L395.7,120.5 L396.1,110.8 L396.5,112.3 L396.9,125.7 L397.3,109.8 L397.7,123.9 L398.1,112.3 L398.6,120.9 L399.0,111.1 L399.4,122.5 L399.8,107.3 L400.2,127.0 L400.6,103.3 L401.1,122.6 L401.5,106.8 L401.9,127.4 L402.3,108.4 L402.7,125.2 L403.1,111.4 L403.5,121.1 L404.0,124.1 L404.4,110.3 L404.8,130.8 L405.2,105.2 L405.6,122.6 L406.0,105.4 L406.5,107.8 L406.9,127.0 L407.3,111.8 L407.7,122.2 L408.1,123.3 L408.5,109.0 L408.9,111.3 L409.4,128.1 L409.8,111.0 L410.2,124.5 L410.6,107.9 L411.0,124.6 L411.4,108.9 L411.9,128.6 L412.3,105.7 L412.7,130.4 L413.1,100.6 L413.5,133.6 L413.9,103.5 L414.3,128.6 L414.8,99.6 L415.2,132.5 L415.6,103.4 L416.0,123.2 L416.4,103.0 L416.8,128.1 L417.3,106.1 L417.7,123.3 L418.1,109.5 L418.5,130.9 L418.9,124.3 L419.3,107.6 L419.7,124.8 L420.2,108.8 L420.6,125.3 L421.0,108.4 L421.4,132.9 L421.8,99.6 L422.2,126.1 L422.7,108.6 L423.1,130.2 L423.5,103.8 L423.9,129.3 L424.3,105.9 L424.7,125.4 L425.1,108.5 L425.6,127.0 L426.0,109.6 L426.4,125.4 L426.8,107.4 L427.2,123.3 L427.6,109.2 L428.1,124.0 L428.5,105.5 L428.9,133.6 L429.3,99.7 L429.7,110.7 L430.1,133.6 L430.5,113.4 L431.0,133.6 L431.4,107.1 L431.8,126.8 L432.2,108.3 L432.6,131.6 L433.0,111.9 L433.5,106.9 L433.9,133.6 L434.3,110.3 L434.7,133.6 L435.1,109.2 L435.5,102.1 L435.9,130.9 L436.4,108.1 L436.8,128.5 L437.2,107.2 L437.6,123.8 L438.0,104.8 L438.4,132.7 L438.9,111.6 L439.3,119.9 L439.7,115.2 L440.1,119.4 L440.5,115.0 L440.9,118.6 L441.3,113.5 L441.8,119.7 L442.2,114.4 L442.6,119.5 L443.0,120.7 L443.4,114.2 L443.8,119.1 L444.3,114.6 L444.7,112.5 L445.1,109.3 L445.5,118.8 L445.9,120.8 L446.3,114.3 L446.7,120.7 L447.2,112.8 L447.6,118.8 L448.0,114.2 L448.4,119.0 L448.8,120.0 L449.2,114.7 L449.7,113.4 L450.1,118.6 L450.5,122.1 L450.9,120.1 L451.3,113.3 L451.7,120.0 L452.1,120.1 L452.6,119.6 L453.0,109.4 L453.4,119.1 L453.8,110.1 L454.2,118.0 L454.6,118.8 L455.1,119.9 L455.5,113.9 L455.9,119.5 L456.3,117.9 L456.7,113.1 L457.1,113.2 L457.5,119.8 L458.0,114.8 L458.4,119.3 L458.8,114.6 L459.2,117.8 L459.6,114.6 L460.0,117.8 L460.5,114.5 L460.9,117.7 L461.3,115.4 L461.7,117.4 L462.1,115.0 L462.5,118.9 L462.9,119.1 L463.4,114.6 L463.8,118.1 L464.2,115.5 L464.6,118.2 L465.0,112.1 L465.4,118.9 L465.9,121.5 L466.3,115.6 L466.7,117.9 L467.1,114.7 L467.5,119.0 L467.9,115.3 L468.3,118.0 L468.8,113.4 L469.2,119.9 L469.6,114.9 L470.0,118.4 L470.4,115.1 L470.8,118.4 L471.3,115.0 L471.7,121.8 L472.1,115.4 L472.5,115.0 L472.9,114.1 L473.3,118.3 L473.7,113.4 L474.2,119.7 L474.6,113.7 L475.0,119.5 L475.4,114.4 L475.8,117.8 L476.2,118.0 L476.7,115.7 L477.1,121.0 L477.5,109.1 L477.9,108.8 L478.3,124.9 L478.7,110.6 L479.1,129.5 L479.6,106.5 L480.0,123.3 L480.4,103.7 L480.8,106.7 L481.2,99.6 L481.6,125.9 L482.1,112.2 L482.5,107.2 L482.9,127.3 L483.3,126.0 L483.7,121.9 L484.1,109.3 L484.5,126.6 L485.0,104.3 L485.4,122.8 L485.8,108.4 L486.2,120.4 L486.6,112.2 L487.0,122.7 L487.5,112.9 L487.9,122.6 L488.3,107.1 L488.7,110.7 L489.1,122.0 L489.5,111.3 L489.9,125.3 L490.4,110.2 L490.8,122.8 L491.2,112.7 L491.6,121.1 L492.0,112.7 L492.4,119.7 L492.9,114.7 L493.3,119.5 L493.7,111.8 L494.1,113.2 L494.5,121.7 L494.9,114.3 L495.3,121.7 L495.8,122.2 L496.2,111.5 L496.6,120.9 L497.0,112.7 L497.4,121.6 L497.8,102.2 L498.3,123.3 L498.7,120.0 L499.1,107.7 L499.5,123.8 L499.9,108.7 L500.3,109.0 L500.7,108.9 L501.2,123.6 L501.6,120.9 L502.0,109.5 L502.4,123.3 L502.8,111.4 L503.2,124.1 L503.7,119.3 L504.1,110.1 L504.5,127.1 L504.9,124.6 L505.3,110.0 L505.7,121.0 L506.1,111.5 L506.6,110.8 L507.0,127.6 L507.4,109.1 L507.8,122.5 L508.2,99.6 L508.6,124.4 L509.0,111.8 L509.5,123.1 L509.9,113.3 L510.3,128.7 L510.7,108.1 L511.1,106.7 L511.5,124.8 L512.0,113.5 L512.4,113.1 L512.8,122.6 L513.2,111.5 L513.6,107.9 L514.0,133.6 L514.4,108.0 L514.9,126.3 L515.3,112.2 L515.7,120.7 L516.1,127.8 L516.5,107.7 L516.9,125.1 L517.4,109.2 L517.8,108.7 L518.2,123.4 L518.6,110.9 L519.0,121.6 L519.4,121.9 L519.8,113.2 L520.3,111.4 L520.7,125.0 L521.1,111.2 L521.5,121.1 L521.9,111.0 L522.3,123.6 L522.8,109.0 L523.2,125.8 L523.6,126.6 L524.0,112.3 L524.4,123.0 L524.8,109.9 L525.2,124.3 L525.7,120.8 L526.1,110.1 L526.5,123.5 L526.9,108.0 L527.3,122.8 L527.7,122.1 L528.2,112.1 L528.6,123.9 L529.0,111.5 L529.4,121.2 L529.8,101.9 L530.2,121.9 L530.6,112.0 L531.1,113.0 L531.5,123.1 L531.9,111.3 L532.3,123.2 L532.7,111.9 L533.1,121.9 L533.6,120.1 L534.0,109.4 L534.4,125.7 L534.8,124.4 L535.2,110.7 L535.6,121.4 L536.0,108.3 L536.5,124.6 L536.9,108.3 L537.3,127.7 L537.7,110.2 L538.1,133.6 L538.5,100.1 L539.0,129.4 L539.4,104.5 L539.8,123.0 L540.2,110.6 L540.6,124.6 L541.0,108.7 L541.4,119.9 L541.9,122.2 L542.3,112.9 L542.7,126.0 L543.1,111.3 L543.5,121.6 L543.9,121.0 L544.4,110.2 L544.8,121.4 L545.2,110.6 L545.6,125.7 L546.0,110.8 L546.4,108.9 L546.8,123.7 L547.3,111.5 L547.7,121.2 L548.1,106.8 L548.5,109.7 L548.9,121.7 L549.3,113.3 L549.8,110.8 L550.2,120.1 L550.6,108.5 L551.0,123.5 L551.4,123.1 L551.8,122.9 L552.2,108.9 L552.7,129.6 L553.1,114.4 L553.5,120.5 L553.9,114.6 L554.3,114.7 L554.7,122.4 L555.2,113.2 L555.6,120.9 L556.0,111.1 L556.4,120.7 L556.8,113.9 L557.2,124.1 L557.6,124.5 L558.1,120.4 L558.5,113.6 L558.9,120.8 L559.3,113.7 L559.7,109.8 L560.1,119.5 L560.6,111.0 L561.0,118.9 L561.4,114.7 L561.8,120.7 L562.2,118.3 L562.6,114.5 L563.0,125.0 L563.5,112.8 L563.9,118.4 L564.3,114.7 L564.7,119.0 L565.1,121.2 L565.5,113.9 L566.0,121.1 L566.4,113.0 L566.8,124.3 L567.2,118.6 L567.6,113.0 L568.0,113.2 L568.4,114.7 L568.9,122.4 L569.3,119.1 L569.7,114.9 L570.1,119.3 L570.5,119.0 L570.9,111.9 L571.4,119.0 L571.8,112.5 L572.2,118.6 L572.6,113.9 L573.0,118.3 L573.4,115.1 L573.8,117.6 L574.3,118.3 L574.7,114.9 L575.1,118.0 L575.5,113.9 L575.9,113.5 L576.3,119.5 L576.8,112.7 L577.2,119.0 L577.6,118.5 L578.0,114.3 L578.4,119.4 L578.8,113.2 L579.2,119.5 L579.7,113.5 L580.1,114.3 L580.5,119.1 L580.9,114.6 L581.3,118.3 L581.7,115.2 L582.2,115.7 L582.6,117.7 L583.0,114.9 L583.4,118.4 L583.8,114.6 L584.2,118.6 L584.6,119.6 L585.1,114.8 L585.5,118.7 L585.9,112.4 L586.3,119.5 L586.7,113.9 L587.1,114.4 L587.6,118.5 L588.0,114.9 L588.4,118.6 L588.8,113.9 L589.2,117.8 L589.6,112.9 L590.0,118.6 L590.5,113.5 L590.9,121.0 L591.3,114.6 L591.7,120.2 L592.1,113.0 L592.5,120.2 L593.0,111.9 L593.4,119.9 L593.8,114.2 L594.2,121.0 L594.6,120.8 L595.0,114.9 L595.4,119.9 L595.9,114.8 L596.3,121.0 L596.7,103.4 L597.1,124.5 L597.5,111.2 L597.9,122.6 L598.4,110.3 L598.8,125.9 L599.2,126.5 L599.6,106.9 L600.0,125.3 L600.4,121.4 L600.8,111.4 L601.3,126.5 L601.7,107.8 L602.1,128.0 L602.5,124.6 L602.9,111.0 L603.3,124.6 L603.8,110.6 L604.2,111.8 L604.6,109.3 L605.0,129.8 L605.4,126.8 L605.8,107.9 L606.2,125.5 L606.7,128.5 L607.1,113.7 L607.5,120.7 L607.9,105.9 L608.3,121.8 L608.7,112.3 L609.2,109.3 L609.6,112.0 L610.0,120.6 L610.4,112.8 L610.8,124.3 L611.2,107.1 L611.6,126.7 L612.1,108.2 L612.5,120.6 L612.9,109.4 L613.3,121.7 L613.7,111.5 L614.1,119.5 L614.6,110.5 L615.0,112.7 L615.4,122.6 L615.8,99.6 L616.2,121.6 L616.6,111.0 L617.0,128.4 L617.5,112.8 L617.9,124.1 L618.3,124.3 L618.7,108.8 L619.1,126.7 L619.5,123.9 L620.0,109.0 L620.4,126.3 L620.8,106.0 L621.2,125.6 L621.6,106.1 L622.0,124.8 L622.4,107.6 L622.9,124.5 L623.3,109.3 L623.7,127.7 L624.1,109.0 L624.5,122.6 L624.9,109.6 L625.3,108.9 L625.8,129.4 L626.2,110.9 L626.6,131.1 L627.0,126.9 L627.4,106.5 L627.8,110.2 L628.3,126.6 L628.7,107.1 L629.1,120.8 L629.5,108.8 L629.9,123.6 L630.3,111.1 L630.7,121.1 L631.2,112.9 L631.6,122.6 L632.0,121.0 L632.4,114.2 L632.8,119.5 L633.2,114.6 L633.7,121.1 L634.1,110.9 L634.5,110.7 L634.9,122.9 L635.3,113.6 L635.7,122.3 L636.1,112.9 L636.6,121.1 L637.0,112.3 L637.4,121.8 L637.8,111.7 L638.2,121.0 L638.6,112.8 L639.1,119.5 L639.5,119.8 L639.9,110.0 L640.3,127.7 L640.7,113.4 L641.1,118.9 L641.5,111.6 L642.0,114.6 L642.4,111.4 L642.8,122.8 L643.2,127.0 L643.6,104.5 L644.0,126.8 L644.5,103.7 L644.9,126.5 L645.3,108.1 L645.7,121.1 L646.1,126.7 L646.5,112.5 L646.9,121.4 L647.4,109.8 L647.8,124.2 L648.2,127.1 L648.6,99.6 L649.0,130.0 L649.4,103.8 L649.9,125.1 L650.3,106.0 L650.7,121.4 L651.1,111.4 L651.5,125.9 L651.9,124.2 L652.3,106.6 L652.8,121.1 L653.2,123.5 L653.6,112.2 L654.0,125.3 L654.4,127.4 L654.8,103.7 L655.3,122.8 L655.7,122.3 L656.1,112.4 L656.5,109.6 L656.9,126.2 L657.3,105.3 L657.7,129.6 L658.2,104.4 L658.6,112.0 L659.0,110.4 L659.4,122.1 L659.8,106.0 L660.2,127.8 L660.7,110.0 L661.1,122.0 L661.5,111.3 L661.9,126.6 L662.3,109.2 L662.7,110.0 L663.1,108.6 L663.6,123.8 L664.0,123.3 L664.4,107.6 L664.8,123.5 L665.2,108.7 L665.6,126.3 L666.1,112.4 L666.5,123.7 L666.9,101.5 L667.3,123.3 L667.7,107.6 L668.1,105.7 L668.5,127.6 L669.0,99.6 L669.4,126.6 L669.8,112.1 L670.2,122.6 L670.6,108.8 L671.0,119.8 L671.5,112.5 L671.9,118.2 L672.3,107.8 L672.7,118.7 L673.1,113.1 L673.5,119.6 L673.9,112.8 L674.4,122.0 L674.8,111.5 L675.2,110.1 L675.6,120.2 L676.0,109.2 L676.4,125.6 L676.9,111.6 L677.3,124.9 L677.7,122.1 L678.1,113.0 L678.5,114.5 L678.9,119.2 L679.3,114.6 L679.8,117.7 L680.2,114.3 L680.6,118.8 L681.0,118.1 L681.4,114.4 L681.8,119.7 L682.3,114.2 L682.7,117.6 L683.1,114.7 L683.5,115.1"/>
<path d="M85.8,195.7 L86.2,195.7 L86.6,195.4 L87.0,192.9 L87.5,191.0 L87.9,191.3 L88.3,191.2 L88.7,195.0 L89.1,195.8 L89.5,196.7 L90.0,196.0 L90.4,192.8 L90.8,190.5 L91.2,193.1 L91.6,192.9 L92.0,195.3 L92.4,196.0 L92.9,196.7 L93.3,194.3 L93.7,193.7 L94.1,190.0 L94.5,191.7 L94.9,192.7 L95.4,194.6 L95.8,195.2 L96.2,194.2 L96.6,193.0 L97.0,192.9 L97.4,192.3 L97.8,192.9 L98.3,194.7 L98.7,195.0 L99.1,195.1 L99.5,193.7 L99.9,192.3 L100.3,192.3 L100.8,193.5 L101.2,194.8 L101.6,194.7 L102.0,194.6 L102.4,192.8 L102.8,192.8 L103.2,192.7 L103.7,193.2 L104.1,194.0 L104.5,194.1 L104.9,194.8 L105.3,194.1 L105.7,193.3 L106.2,192.6 L106.6,192.6 L107.0,193.6 L107.4,194.2 L107.8,195.0 L108.2,194.9 L108.6,193.8 L109.1,193.3 L109.5,192.5 L109.9,192.7 L110.3,194.3 L110.7,195.2 L111.1,195.8 L111.6,195.0 L112.0,193.8 L112.4,192.9 L112.8,192.8 L113.2,193.6 L113.6,195.2 L114.0,196.1 L114.5,196.2 L114.9,194.4 L115.3,190.9 L115.7,191.8 L116.1,191.5 L116.5,194.9 L117.0,195.2 L117.4,195.5 L117.8,196.6 L118.2,193.9 L118.6,190.8 L119.0,190.6 L119.4,191.9 L119.9,195.5 L120.3,195.7 L120.7,196.3 L121.1,194.2 L121.5,193.7 L121.9,192.9 L122.4,193.6 L122.8,193.0 L123.2,196.9 L123.6,197.5 L124.0,195.7 L124.4,193.8 L124.8,191.8 L125.3,189.9 L125.7,193.3 L126.1,194.3 L126.5,194.4 L126.9,193.8 L127.3,194.1 L127.8,193.4 L128.2,193.5 L128.6,193.8 L129.0,193.7 L129.4,194.7 L129.8,194.7 L130.2,194.4 L130.7,193.6 L131.1,193.1 L131.5,193.2 L131.9,193.2 L132.3,193.9 L132.7,194.1 L133.2,194.3 L133.6,193.8 L134.0,193.5 L134.4,192.7 L134.8,191.4 L135.2,192.8 L135.6,194.8 L136.1,196.9 L136.5,196.1 L136.9,194.3 L137.3,192.1 L137.7,192.2 L138.1,192.4 L138.6,194.4 L139.0,196.3 L139.4,195.9 L139.8,195.4 L140.2,192.7 L140.6,192.6 L141.0,191.4 L141.5,193.7 L141.9,194.6 L142.3,197.1 L142.7,195.7 L143.1,194.4 L143.5,193.1 L144.0,191.1 L144.4,188.7 L144.8,191.7 L145.2,193.7 L145.6,198.4 L146.0,198.7 L146.4,195.1 L146.9,190.8 L147.3,189.0 L147.7,188.9 L148.1,193.3 L148.5,196.2 L148.9,194.2 L149.3,195.9 L149.8,194.4 L150.2,193.6 L150.6,189.6 L151.0,190.1 L151.4,192.0 L151.8,196.7 L152.3,196.8 L152.7,195.5 L153.1,194.1 L153.5,191.4 L153.9,190.0 L154.3,193.2 L154.7,194.9 L155.2,195.4 L155.6,195.6 L156.0,195.2 L156.4,192.9 L156.8,192.1 L157.2,193.0 L157.7,193.9 L158.1,195.1 L158.5,195.8 L158.9,195.5 L159.3,194.0 L159.7,191.9 L160.1,191.5 L160.6,191.4 L161.0,192.7 L161.4,195.3 L161.8,195.8 L162.2,196.1 L162.6,194.5 L163.1,192.3 L163.5,191.7 L163.9,193.3 L164.3,196.7 L164.7,202.0 L165.1,197.6 L165.5,188.8 L166.0,187.9 L166.4,190.7 L166.8,194.3 L167.2,202.2 L167.6,201.7 L168.0,196.0 L168.5,192.1 L168.9,187.3 L169.3,188.8 L169.7,190.6 L170.1,200.0 L170.5,199.4 L170.9,195.5 L171.4,194.3 L171.8,191.0 L172.2,185.0 L172.6,185.9 L173.0,192.5 L173.4,197.3 L173.9,197.2 L174.3,194.2 L174.7,194.0 L175.1,190.1 L175.5,189.7 L175.9,190.0 L176.3,194.4 L176.8,198.2 L177.2,196.4 L177.6,195.6 L178.0,193.0 L178.4,189.1 L178.8,189.3 L179.3,191.4 L179.7,197.4 L180.1,199.5 L180.5,198.6 L180.9,194.4 L181.3,190.9 L181.7,190.3 L182.2,190.6 L182.6,190.8 L183.0,195.9 L183.4,196.0 L183.8,196.0 L184.2,193.9 L184.7,192.0 L185.1,190.9 L185.5,193.3 L185.9,194.4 L186.3,194.5 L186.7,194.7 L187.1,194.5 L187.6,193.0 L188.0,191.5 L188.4,193.0 L188.8,193.5 L189.2,194.7 L189.6,196.6 L190.1,195.3 L190.5,193.2 L190.9,191.9 L191.3,191.4 L191.7,192.8 L192.1,195.2 L192.5,195.4 L193.0,195.1 L193.4,194.5 L193.8,193.4 L194.2,193.2 L194.6,193.7 L195.0,194.9 L195.5,195.7 L195.9,194.3 L196.3,193.9 L196.7,191.5 L197.1,192.0 L197.5,192.7 L197.9,194.6 L198.4,196.1 L198.8,196.0 L199.2,193.9 L199.6,192.7 L200.0,191.9 L200.4,192.4 L200.9,193.4 L201.3,194.8 L201.7,194.5 L202.1,195.1 L202.5,194.0 L202.9,192.3 L203.3,192.0 L203.8,192.4 L204.2,195.1 L204.6,195.0 L205.0,196.0 L205.4,194.7 L205.8,193.1 L206.3,191.4 L206.7,192.7 L207.1,194.2 L207.5,194.3 L207.9,195.1 L208.3,195.5 L208.7,194.7 L209.2,194.4 L209.6,192.7 L210.0,192.8 L210.4,192.5 L210.8,194.9 L211.2,194.2 L211.7,193.7 L212.1,194.3 L212.5,193.6 L212.9,193.6 L213.3,192.6 L213.7,193.6 L214.1,195.0 L214.6,196.4 L215.0,195.5 L215.4,194.6 L215.8,193.1 L216.2,191.9 L216.6,192.3 L217.1,193.1 L217.5,194.4 L217.9,196.4 L218.3,195.0 L218.7,195.0 L219.1,193.6 L219.5,192.8 L220.0,192.6 L220.4,193.3 L220.8,194.9 L221.2,195.6 L221.6,195.0 L222.0,193.7 L222.5,191.7 L222.9,192.1 L223.3,192.6 L223.7,194.8 L224.1,195.7 L224.5,195.3 L224.9,194.5 L225.4,193.5 L225.8,192.0 L226.2,193.5 L226.6,193.9 L227.0,194.8 L227.4,194.9 L227.9,193.8 L228.3,193.2 L228.7,192.8 L229.1,193.2 L229.5,193.9 L229.9,194.6 L230.3,194.6 L230.8,194.8 L231.2,193.4 L231.6,192.8 L232.0,193.0 L232.4,194.2 L232.8,194.6 L233.3,194.7 L233.7,194.1 L234.1,192.7 L234.5,191.8 L234.9,191.0 L235.3,193.9 L235.7,195.4 L236.2,196.0 L236.6,195.2 L237.0,194.3 L237.4,192.3 L237.8,192.0 L238.2,192.6 L238.7,194.6 L239.1,194.6 L239.5,196.3 L239.9,193.9 L240.3,193.1 L240.7,192.2 L241.1,191.9 L241.6,193.2 L242.0,194.3 L242.4,195.6 L242.8,194.3 L243.2,194.9 L243.6,193.1 L244.1,192.5 L244.5,192.8 L244.9,194.4 L245.3,196.6 L245.7,196.5 L246.1,194.9 L246.5,191.5 L247.0,187.6 L247.4,189.1 L247.8,190.1 L248.2,194.6 L248.6,200.7 L249.0,199.8 L249.5,195.4 L249.9,192.0 L250.3,190.8 L250.7,190.6 L251.1,193.3 L251.5,194.1 L251.9,196.1 L252.4,195.7 L252.8,194.5 L253.2,193.0 L253.6,188.9 L254.0,189.3 L254.4,192.3 L254.9,196.0 L255.3,195.0 L255.7,194.5 L256.1,192.9 L256.5,190.9 L256.9,191.7 L257.3,193.9 L257.8,192.0 L258.2,197.1 L258.6,198.9 L259.0,197.4 L259.4,195.5 L259.8,191.0 L260.3,188.7 L260.7,191.9 L261.1,191.9 L261.5,197.0 L261.9,198.1 L262.3,195.7 L262.7,193.3 L263.2,191.6 L263.6,190.5 L264.0,192.3 L264.4,195.2 L264.8,195.9 L265.2,199.5 L265.6,197.8 L266.1,193.9 L266.5,191.4 L266.9,184.2 L267.3,192.0 L267.7,200.2 L268.1,207.0 L268.6,205.9 L269.0,187.2 L269.4,179.3 L269.8,174.6 L270.2,190.2 L270.6,200.1 L271.0,201.8 L271.5,200.9 L271.9,202.4 L272.3,187.9 L272.7,184.8 L273.1,185.6 L273.5,194.3 L274.0,203.6 L274.4,207.5 L274.8,206.4 L275.2,199.9 L275.6,193.3 L276.0,182.3 L276.4,188.6 L276.9,194.2 L277.3,198.3 L277.7,207.8 L278.1,208.0 L278.5,199.9 L278.9,189.9 L279.4,189.7 L279.8,187.4 L280.2,190.0 L280.6,195.3 L281.0,199.3 L281.4,197.4 L281.8,193.5 L282.3,189.7 L282.7,189.6 L283.1,190.6 L283.5,192.3 L283.9,197.1 L284.3,197.8 L284.8,197.9 L285.2,194.1 L285.6,180.7 L286.0,178.8 L286.4,185.6 L286.8,194.7 L287.2,199.7 L287.7,204.4 L288.1,197.9 L288.5,195.1 L288.9,187.7 L289.3,184.7 L289.7,190.0 L290.2,194.9 L290.6,200.5 L291.0,203.0 L291.4,199.4 L291.8,192.8 L292.2,188.5 L292.6,181.4 L293.1,191.6 L293.5,200.8 L293.9,201.1 L294.3,197.9 L294.7,194.5 L295.1,192.2 L295.6,188.8 L296.0,188.1 L296.4,194.2 L296.8,197.0 L297.2,196.2 L297.6,196.6 L298.0,193.1 L298.5,192.2 L298.9,190.5 L299.3,191.0 L299.7,194.0 L300.1,195.1 L300.5,195.5 L301.0,194.2 L301.4,192.8 L301.8,191.6 L302.2,190.5 L302.6,193.8 L303.0,194.7 L303.4,196.5 L303.9,196.2 L304.3,193.5 L304.7,191.7 L305.1,191.2 L305.5,192.6 L305.9,194.7 L306.4,196.1 L306.8,195.1 L307.2,194.5 L307.6,192.4 L308.0,192.0 L308.4,192.7 L308.8,194.8 L309.3,195.8 L309.7,196.1 L310.1,195.3 L310.5,193.6 L310.9,192.1 L311.3,191.8 L311.8,193.5 L312.2,193.9 L312.6,195.2 L313.0,196.2 L313.4,195.0 L313.8,193.5 L314.2,191.9 L314.7,194.6 L315.1,194.7 L315.5,199.2 L315.9,198.2 L316.3,192.8 L316.7,190.5 L317.2,191.8 L317.6,193.3 L318.0,194.2 L318.4,194.3 L318.8,193.9 L319.2,193.4 L319.6,191.9 L320.1,193.0 L320.5,193.8 L320.9,195.8 L321.3,195.5 L321.7,194.6 L322.1,193.5 L322.6,191.3 L323.0,191.7 L323.4,192.3 L323.8,193.9 L324.2,194.5 L324.6,194.8 L325.0,194.4 L325.5,194.0 L325.9,193.5 L326.3,192.1 L326.7,192.7 L327.1,193.1 L327.5,196.1 L328.0,196.3 L328.4,194.5 L328.8,192.4 L329.2,192.0 L329.6,191.7 L330.0,192.7 L330.4,194.0 L330.9,195.4 L331.3,195.4 L331.7,195.5 L332.1,194.1 L332.5,192.5 L332.9,192.0 L333.4,192.9 L333.8,194.5 L334.2,194.8 L334.6,195.1 L335.0,194.3 L335.4,193.0 L335.8,192.4 L336.3,191.6 L336.7,194.0 L337.1,195.6 L337.5,195.0 L337.9,194.2 L338.3,193.2 L338.8,192.0 L339.2,191.7 L339.6,193.2 L340.0,193.8 L340.4,194.8 L340.8,194.4 L341.2,194.2 L341.7,193.1 L342.1,193.0 L342.5,193.3 L342.9,193.7 L343.3,194.4 L343.7,194.5 L344.2,194.5 L344.6,193.7 L345.0,192.9 L345.4,192.7 L345.8,193.5 L346.2,194.8 L346.6,194.4 L347.1,194.3 L347.5,193.7 L347.9,192.4 L348.3,192.9 L348.7,193.3 L349.1,194.6 L349.6,194.7 L350.0,194.5 L350.4,194.1 L350.8,193.4 L351.2,192.8 L351.6,193.0 L352.0,193.1 L352.5,194.1 L352.9,194.9 L353.3,195.2 L353.7,194.4 L354.1,193.6 L354.5,193.2 L355.0,193.4 L355.4,194.0 L355.8,194.6 L356.2,194.8 L356.6,194.7 L357.0,193.9 L357.4,193.0 L357.9,192.4 L358.3,191.9 L358.7,193.0 L359.1,195.2 L359.5,194.5 L359.9,194.0 L360.4,192.7 L360.8,191.6 L361.2,193.8 L361.6,195.6 L362.0,196.2 L362.4,197.5 L362.8,196.1 L363.3,190.4 L363.7,191.1 L364.1,191.6 L364.5,195.1 L364.9,197.9 L365.3,196.3 L365.8,194.5 L366.2,191.7 L366.6,189.2 L367.0,190.4 L367.4,191.5 L367.8,194.5 L368.2,198.4 L368.7,196.7 L369.1,193.8 L369.5,189.2 L369.9,189.0 L370.3,191.8 L370.7,195.2 L371.2,197.2 L371.6,198.5 L372.0,195.9 L372.4,192.3 L372.8,189.9 L373.2,191.6 L373.6,194.3 L374.1,198.6 L374.5,197.7 L374.9,195.6 L375.3,193.0 L375.7,192.0 L376.1,192.4 L376.6,193.7 L377.0,195.5 L377.4,198.1 L377.8,197.8 L378.2,196.9 L378.6,192.6 L379.0,189.4 L379.5,192.4 L379.9,193.6 L380.3,194.5 L380.7,196.4 L381.1,195.0 L381.5,195.5 L382.0,192.7 L382.4,190.2 L382.8,192.9 L383.2,194.3 L383.6,198.2 L384.0,196.1 L384.4,193.7 L384.9,193.1 L385.3,192.4 L385.7,192.3 L386.1,192.2 L386.5,195.7 L386.9,197.4 L387.3,194.6 L387.8,194.9 L388.2,191.2 L388.6,192.4 L389.0,193.2 L389.4,195.1 L389.8,197.1 L390.3,196.3 L390.7,193.3 L391.1,192.9 L391.5,191.9 L391.9,191.7 L392.3,195.4 L392.7,196.0 L393.2,195.8 L393.6,195.2 L394.0,192.1 L394.4,190.2 L394.8,190.8 L395.2,192.8 L395.7,194.4 L396.1,195.8 L396.5,194.6 L396.9,193.9 L397.3,192.7 L397.7,191.4 L398.1,192.9 L398.6,193.9 L399.0,196.3 L399.4,195.7 L399.8,192.8 L400.2,188.4 L400.6,190.7 L401.1,192.8 L401.5,196.9 L401.9,196.8 L402.3,194.7 L402.7,192.6 L403.1,190.1 L403.5,189.3 L404.0,194.7 L404.4,196.2 L404.8,197.3 L405.2,196.7 L405.6,193.5 L406.0,190.9 L406.5,188.8 L406.9,191.3 L407.3,195.1 L407.7,197.2 L408.1,199.6 L408.5,195.2 L408.9,193.8 L409.4,192.1 L409.8,191.6 L410.2,193.9 L410.6,194.8 L411.0,194.8 L411.4,196.1 L411.9,193.9 L412.3,192.6 L412.7,189.7 L413.1,193.0 L413.5,195.0 L413.9,196.4 L414.3,198.6 L414.8,197.6 L415.2,192.0 L415.6,189.8 L416.0,189.0 L416.4,192.9 L416.8,196.6 L417.3,196.8 L417.7,194.6 L418.1,195.2 L418.5,190.2 L418.9,187.4 L419.3,189.6 L419.7,191.8 L420.2,193.9 L420.6,196.6 L421.0,199.9 L421.4,193.8 L421.8,193.0 L422.2,191.6 L422.7,191.0 L423.1,190.3 L423.5,194.2 L423.9,197.6 L424.3,198.7 L424.7,195.3 L425.1,191.4 L425.6,190.8 L426.0,190.9 L426.4,193.6 L426.8,196.8 L427.2,197.9 L427.6,195.3 L428.1,194.2 L428.5,192.0 L428.9,192.1 L429.3,192.9 L429.7,194.0 L430.1,195.6 L430.5,195.4 L431.0,194.0 L431.4,192.8 L431.8,191.1 L432.2,192.5 L432.6,194.9 L433.0,196.3 L433.5,196.9 L433.9,194.3 L434.3,192.4 L434.7,191.9 L435.1,192.5 L435.5,194.7 L435.9,195.0 L436.4,194.5 L436.8,194.9 L437.2,193.1 L437.6,190.3 L438.0,192.8 L438.4,193.5 L438.9,195.4 L439.3,196.7 L439.7,196.9 L440.1,193.7 L440.5,193.5 L440.9,191.4 L441.3,191.7 L441.8,195.0 L442.2,197.6 L442.6,198.5 L443.0,196.3 L443.4,193.6 L443.8,192.9 L444.3,193.3 L444.7,193.6 L445.1,194.7 L445.5,195.0 L445.9,194.6 L446.3,193.2 L446.7,192.2 L447.2,191.9 L447.6,194.5 L448.0,196.2 L448.4,194.6 L448.8,194.0 L449.2,192.3 L449.7,191.5 L450.1,192.8 L450.5,194.2 L450.9,196.6 L451.3,196.0 L451.7,195.0 L452.1,193.4 L452.6,192.1 L453.0,193.2 L453.4,196.0 L453.8,196.2 L454.2,195.5 L454.6,193.2 L455.1,191.7 L455.5,191.6 L455.9,192.8 L456.3,194.0 L456.7,195.0 L457.1,194.6 L457.5,193.1 L458.0,191.3 L458.4,190.6 L458.8,192.3 L459.2,194.5 L459.6,196.8 L460.0,196.8 L460.5,195.0 L460.9,193.8 L461.3,191.0 L461.7,192.4 L462.1,193.6 L462.5,194.5 L462.9,195.6 L463.4,195.5 L463.8,192.8 L464.2,192.6 L464.6,193.1 L465.0,193.0 L465.4,193.8 L465.9,195.9 L466.3,194.9 L466.7,194.7 L467.1,193.4 L467.5,192.9 L467.9,193.1 L468.3,193.3 L468.8,194.6 L469.2,194.7 L469.6,195.5 L470.0,192.6 L470.4,192.3 L470.8,191.0 L471.3,191.7 L471.7,193.9 L472.1,196.0 L472.5,195.3 L472.9,195.9 L473.3,192.9 L473.7,191.1 L474.2,191.8 L474.6,193.5 L475.0,193.4 L475.4,196.0 L475.8,194.9 L476.2,193.3 L476.7,191.6 L477.1,190.9 L477.5,191.5 L477.9,194.4 L478.3,195.8 L478.7,195.8 L479.1,194.7 L479.6,193.6 L480.0,188.7 L480.4,187.8 L480.8,193.2 L481.2,195.3 L481.6,197.0 L482.1,195.8 L482.5,192.2 L482.9,192.0 L483.3,192.7 L483.7,193.0 L484.1,194.3 L484.5,195.4 L485.0,195.8 L485.4,194.5 L485.8,191.2 L486.2,189.5 L486.6,192.0 L487.0,193.9 L487.5,195.1 L487.9,195.3 L488.3,193.6 L488.7,190.9 L489.1,190.4 L489.5,190.8 L489.9,192.2 L490.4,195.1 L490.8,195.5 L491.2,194.9 L491.6,194.6 L492.0,193.4 L492.4,190.4 L492.9,192.0 L493.3,194.1 L493.7,195.6 L494.1,195.2 L494.5,196.7 L494.9,194.1 L495.3,191.3 L495.8,190.2 L496.2,192.8 L496.6,194.9 L497.0,195.6 L497.4,196.1 L497.8,193.5 L498.3,191.4 L498.7,191.4 L499.1,191.2 L499.5,192.5 L499.9,194.8 L500.3,199.6 L500.7,199.2 L501.2,198.0 L501.6,191.7 L502.0,191.1 L502.4,190.1 L502.8,190.8 L503.2,194.2 L503.7,197.7 L504.1,195.2 L504.5,191.8 L504.9,190.9 L505.3,190.2 L505.7,192.6 L506.1,195.5 L506.6,198.1 L507.0,197.2 L507.4,191.3 L507.8,189.0 L508.2,190.9 L508.6,194.4 L509.0,196.1 L509.5,196.3 L509.9,195.8 L510.3,192.2 L510.7,190.2 L511.1,190.2 L511.5,191.3 L512.0,193.7 L512.4,197.8 L512.8,197.1 L513.2,196.1 L513.6,192.1 L514.0,193.2 L514.4,190.3 L514.9,191.1 L515.3,195.1 L515.7,197.3 L516.1,195.1 L516.5,192.6 L516.9,190.3 L517.4,190.9 L517.8,192.3 L518.2,195.0 L518.6,195.4 L519.0,194.1 L519.4,192.9 L519.8,190.2 L520.3,192.0 L520.7,192.2 L521.1,196.4 L521.5,197.4 L521.9,196.6 L522.3,192.1 L522.8,190.4 L523.2,191.1 L523.6,192.4 L524.0,193.6 L524.4,197.9 L524.8,198.5 L525.2,196.5 L525.7,192.9 L526.1,192.8 L526.5,191.3 L526.9,191.5 L527.3,193.3 L527.7,196.7 L528.2,197.4 L528.6,195.3 L529.0,194.7 L529.4,190.5 L529.8,189.4 L530.2,192.6 L530.6,194.8 L531.1,196.4 L531.5,197.8 L531.9,194.2 L532.3,193.4 L532.7,191.8 L533.1,193.0 L533.6,192.4 L534.0,194.2 L534.4,194.5 L534.8,196.5 L535.2,196.3 L535.6,193.7 L536.0,190.0 L536.5,191.4 L536.9,193.9 L537.3,198.5 L537.7,198.6 L538.1,197.5 L538.5,191.7 L539.0,187.4 L539.4,187.4 L539.8,189.7 L540.2,195.4 L540.6,199.4 L541.0,198.4 L541.4,193.7 L541.9,192.4 L542.3,187.1 L542.7,189.4 L543.1,194.8 L543.5,193.8 L543.9,196.4 L544.4,196.6 L544.8,192.9 L545.2,193.3 L545.6,189.0 L546.0,193.6 L546.4,196.0 L546.8,197.1 L547.3,195.7 L547.7,194.1 L548.1,190.1 L548.5,190.2 L548.9,189.4 L549.3,193.8 L549.8,196.9 L550.2,195.3 L550.6,195.3 L551.0,194.2 L551.4,189.7 L551.8,191.7 L552.2,191.9 L552.7,192.0 L553.1,196.6 L553.5,197.7 L553.9,196.5 L554.3,194.1 L554.7,189.3 L555.2,190.4 L555.6,191.4 L556.0,196.3 L556.4,196.5 L556.8,195.5 L557.2,193.9 L557.6,192.1 L558.1,191.2 L558.5,192.5 L558.9,194.2 L559.3,195.7 L559.7,195.8 L560.1,195.1 L560.6,193.7 L561.0,192.4 L561.4,192.1 L561.8,193.5 L562.2,194.4 L562.6,194.5 L563.0,194.4 L563.5,194.5 L563.9,192.7 L564.3,191.7 L564.7,192.4 L565.1,193.3 L565.5,194.4 L566.0,194.7 L566.4,193.9 L566.8,194.5 L567.2,192.6 L567.6,192.2 L568.0,192.1 L568.4,193.4 L568.9,194.7 L569.3,195.9 L569.7,194.9 L570.1,193.9 L570.5,192.0 L570.9,191.8 L571.4,192.2 L571.8,194.0 L572.2,196.1 L572.6,196.0 L573.0,195.3 L573.4,193.8 L573.8,192.1 L574.3,192.3 L574.7,193.3 L575.1,193.7 L575.5,195.5 L575.9,195.1 L576.3,194.2 L576.8,193.3 L577.2,192.4 L577.6,192.6 L578.0,194.3 L578.4,195.0 L578.8,194.8 L579.2,195.0 L579.7,193.8 L580.1,192.3 L580.5,192.0 L580.9,192.6 L581.3,194.3 L581.7,195.7 L582.2,195.7 L582.6,194.6 L583.0,193.8 L583.4,192.2 L583.8,193.1 L584.2,193.9 L584.6,194.5 L585.1,194.8 L585.5,194.4 L585.9,193.6 L586.3,192.7 L586.7,192.7 L587.1,194.1 L587.6,193.8 L588.0,193.9 L588.4,194.5 L588.8,194.1 L589.2,193.2 L589.6,192.2 L590.0,192.9 L590.5,192.9 L590.9,193.5 L591.3,194.2 L591.7,194.6 L592.1,194.3 L592.5,193.5 L593.0,192.2 L593.4,192.8 L593.8,193.1 L594.2,195.6 L594.6,195.6 L595.0,195.5 L595.4,195.0 L595.9,192.3 L596.3,191.8 L596.7,191.7 L597.1,192.7 L597.5,195.4 L597.9,197.5 L598.4,194.5 L598.8,193.4 L599.2,192.7 L599.6,190.9 L600.0,192.0 L600.4,194.3 L600.8,196.8 L601.3,194.8 L601.7,194.1 L602.1,191.2 L602.5,191.2 L602.9,192.1 L603.3,194.5 L603.8,195.9 L604.2,196.7 L604.6,194.1 L605.0,192.3 L605.4,191.1 L605.8,191.7 L606.2,193.6 L606.7,196.9 L607.1,199.5 L607.5,194.0 L607.9,192.2 L608.3,183.1 L608.7,184.5 L609.2,187.1 L609.6,196.4 L610.0,204.3 L610.4,202.4 L610.8,199.1 L611.2,193.6 L611.6,182.4 L612.1,188.6 L612.5,194.7 L612.9,195.4 L613.3,196.2 L613.7,202.2 L614.1,194.1 L614.6,191.7 L615.0,184.8 L615.4,185.6 L615.8,193.8 L616.2,201.6 L616.6,205.3 L617.0,199.9 L617.5,191.9 L617.9,187.9 L618.3,191.3 L618.7,195.3 L619.1,197.1 L619.5,200.9 L620.0,199.5 L620.4,193.8 L620.8,192.4 L621.2,190.9 L621.6,191.7 L622.0,193.8 L622.4,196.5 L622.9,197.1 L623.3,197.8 L623.7,194.5 L624.1,194.7 L624.5,192.2 L624.9,191.9 L625.3,192.3 L625.8,192.7 L626.2,195.5 L626.6,195.7 L627.0,195.6 L627.4,192.2 L627.8,193.5 L628.3,192.7 L628.7,194.4 L629.1,193.8 L629.5,196.3 L629.9,195.2 L630.3,194.2 L630.7,190.7 L631.2,189.5 L631.6,192.5 L632.0,194.7 L632.4,196.0 L632.8,196.4 L633.2,196.3 L633.7,191.7 L634.1,187.2 L634.5,187.2 L634.9,195.2 L635.3,199.5 L635.7,201.1 L636.1,199.4 L636.6,196.4 L637.0,192.0 L637.4,190.7 L637.8,191.0 L638.2,196.5 L638.6,197.5 L639.1,197.5 L639.5,194.6 L639.9,191.5 L640.3,189.7 L640.7,190.2 L641.1,191.0 L641.5,194.2 L642.0,195.2 L642.4,195.0 L642.8,196.0 L643.2,193.1 L643.6,192.2 L644.0,189.6 L644.5,192.9 L644.9,197.3 L645.3,197.6 L645.7,194.4 L646.1,192.3 L646.5,192.0 L646.9,191.9 L647.4,193.2 L647.8,198.1 L648.2,203.8 L648.6,200.9 L649.0,192.8 L649.4,186.6 L649.9,187.1 L650.3,193.3 L650.7,199.0 L651.1,203.3 L651.5,199.8 L651.9,193.2 L652.3,188.0 L652.8,188.9 L653.2,190.1 L653.6,196.8 L654.0,199.1 L654.4,202.2 L654.8,200.7 L655.3,195.5 L655.7,187.4 L656.1,187.9 L656.5,191.2 L656.9,192.9 L657.3,199.7 L657.7,202.1 L658.2,198.0 L658.6,198.8 L659.0,190.5 L659.4,187.9 L659.8,189.5 L660.2,192.4 L660.7,200.4 L661.1,203.6 L661.5,203.3 L661.9,191.2 L662.3,187.6 L662.7,189.1 L663.1,190.2 L663.6,195.3 L664.0,196.2 L664.4,197.8 L664.8,195.0 L665.2,192.8 L665.6,190.1 L666.1,191.0 L666.5,194.2 L666.9,197.4 L667.3,198.0 L667.7,195.6 L668.1,191.8 L668.5,191.4 L669.0,193.1 L669.4,191.7 L669.8,193.7 L670.2,196.1 L670.6,195.8 L671.0,197.1 L671.5,193.8 L671.9,190.7 L672.3,190.5 L672.7,192.3 L673.1,192.5 L673.5,197.5 L673.9,198.3 L674.4,196.4 L674.8,192.5 L675.2,189.4 L675.6,191.5 L676.0,193.5 L676.4,196.8 L676.9,200.4 L677.3,200.1 L677.7,197.3 L678.1,192.7 L678.5,193.0 L678.9,193.2 L679.3,193.8 L679.8,194.4 L680.2,195.0 L680.6,194.4 L681.0,193.9 L681.4,193.4 L681.8,192.5 L682.3,193.3 L682.7,194.0 L683.1,194.8 L683.5,194.8"/>
<path d="M85.8,269.9 L86.2,269.5 L86.6,269.0 L87.0,268.6 L87.5,268.5 L87.9,268.4 L88.3,268.8 L88.7,269.5 L89.1,270.6 L89.5,271.7 L90.0,272.7 L90.4,273.3 L90.8,273.3 L91.2,273.0 L91.6,272.5 L92.0,271.8 L92.4,271.1 L92.9,270.3 L93.3,269.5 L93.7,268.9 L94.1,268.6 L94.5,268.5 L94.9,269.2 L95.4,270.4 L95.8,272.0 L96.2,273.3 L96.6,274.0 L97.0,274.0 L97.4,273.6 L97.8,273.0 L98.3,272.4 L98.7,271.8 L99.1,271.3 L99.5,271.1 L99.9,271.1 L100.3,271.3 L100.8,271.5 L101.2,271.8 L101.6,271.9 L102.0,271.9 L102.4,271.8 L102.8,271.5 L103.2,271.3 L103.7,271.1 L104.1,271.1 L104.5,271.3 L104.9,271.7 L105.3,272.1 L105.7,272.5 L106.2,272.7 L106.6,272.6 L107.0,272.3 L107.4,271.9 L107.8,271.4 L108.2,271.0 L108.6,270.7 L109.1,270.7 L109.5,271.0 L109.9,271.7 L110.3,272.6 L110.7,273.2 L111.1,273.3 L111.6,272.7 L112.0,271.8 L112.4,270.6 L112.8,269.6 L113.2,268.9 L113.6,268.8 L114.0,269.2 L114.5,269.8 L114.9,270.5 L115.3,271.0 L115.7,271.2 L116.1,270.9 L116.5,270.5 L117.0,270.3 L117.4,270.4 L117.8,271.3 L118.2,272.6 L118.6,274.3 L119.0,276.0 L119.4,277.5 L119.9,278.6 L120.3,279.1 L120.7,278.9 L121.1,278.2 L121.5,277.0 L121.9,275.5 L122.4,273.7 L122.8,271.8 L123.2,269.8 L123.6,267.9 L124.0,266.2 L124.4,264.7 L124.8,263.5 L125.3,262.8 L125.7,262.8 L126.1,263.7 L126.5,265.6 L126.9,268.1 L127.3,270.8 L127.8,273.4 L128.2,275.4 L128.6,276.7 L129.0,277.0 L129.4,276.7 L129.8,276.2 L130.2,275.5 L130.7,274.7 L131.1,273.7 L131.5,272.8 L131.9,271.8 L132.3,271.0 L132.7,270.2 L133.2,269.6 L133.6,269.3 L134.0,269.1 L134.4,269.3 L134.8,269.5 L135.2,269.9 L135.6,270.4 L136.1,270.9 L136.5,271.4 L136.9,271.8 L137.3,272.2 L137.7,272.5 L138.1,272.6 L138.6,272.4 L139.0,271.6 L139.4,270.5 L139.8,269.4 L140.2,268.7 L140.6,268.6 L141.0,269.3 L141.5,270.5 L141.9,271.9 L142.3,273.3 L142.7,274.3 L143.1,274.6 L143.5,273.8 L144.0,272.0 L144.4,269.8 L144.8,268.1 L145.2,267.5 L145.6,268.0 L146.0,269.3 L146.4,271.0 L146.9,272.7 L147.3,274.0 L147.7,274.7 L148.1,274.7 L148.5,274.2 L148.9,273.5 L149.3,272.5 L149.8,271.4 L150.2,270.3 L150.6,269.3 L151.0,268.3 L151.4,267.6 L151.8,267.1 L152.3,267.4 L152.7,268.9 L153.1,271.5 L153.5,274.2 L153.9,275.8 L154.3,275.8 L154.7,274.7 L155.2,273.0 L155.6,271.1 L156.0,269.5 L156.4,268.6 L156.8,268.5 L157.2,268.8 L157.7,269.3 L158.1,270.0 L158.5,270.7 L158.9,271.5 L159.3,272.2 L159.7,272.9 L160.1,273.4 L160.6,273.7 L161.0,273.7 L161.4,273.1 L161.8,272.0 L162.2,270.6 L162.6,269.5 L163.1,269.1 L163.5,269.6 L163.9,270.9 L164.3,272.4 L164.7,273.6 L165.1,273.7 L165.5,272.7 L166.0,270.9 L166.4,269.3 L166.8,268.7 L167.2,269.5 L167.6,271.3 L168.0,273.4 L168.5,275.1 L168.9,276.0 L169.3,275.7 L169.7,274.4 L170.1,272.4 L170.5,270.2 L170.9,268.1 L171.4,266.5 L171.8,265.7 L172.2,265.9 L172.6,267.0 L173.0,268.6 L173.4,270.6 L173.9,272.9 L174.3,275.1 L174.7,277.1 L175.1,278.7 L175.5,279.6 L175.9,279.5 L176.3,278.1 L176.8,275.3 L177.2,271.9 L177.6,268.3 L178.0,265.2 L178.4,263.1 L178.8,262.5 L179.3,262.8 L179.7,263.6 L180.1,264.8 L180.5,266.3 L180.9,268.0 L181.3,269.8 L181.7,271.7 L182.2,273.5 L182.6,275.1 L183.0,276.6 L183.4,277.7 L183.8,278.4 L184.2,278.5 L184.7,277.3 L185.1,274.6 L185.5,271.1 L185.9,268.0 L186.3,266.1 L186.7,266.3 L187.1,268.0 L187.6,270.6 L188.0,273.2 L188.4,274.9 L188.8,275.2 L189.2,274.0 L189.6,272.0 L190.1,269.8 L190.5,268.1 L190.9,267.6 L191.3,268.5 L191.7,270.5 L192.1,272.9 L192.5,275.0 L193.0,275.9 L193.4,275.3 L193.8,273.4 L194.2,270.7 L194.6,268.3 L195.0,266.8 L195.5,266.7 L195.9,268.0 L196.3,270.1 L196.7,272.5 L197.1,274.6 L197.5,276.1 L197.9,276.5 L198.4,275.8 L198.8,274.3 L199.2,272.3 L199.6,270.2 L200.0,268.4 L200.4,267.2 L200.9,266.9 L201.3,267.5 L201.7,268.8 L202.1,270.6 L202.5,272.4 L202.9,274.0 L203.3,275.1 L203.8,275.5 L204.2,275.2 L204.6,274.5 L205.0,273.5 L205.4,272.3 L205.8,271.1 L206.3,269.9 L206.7,268.9 L207.1,268.1 L207.5,267.8 L207.9,268.2 L208.3,269.4 L208.7,271.2 L209.2,273.2 L209.6,274.8 L210.0,275.6 L210.4,275.4 L210.8,274.3 L211.2,272.6 L211.7,270.8 L212.1,269.1 L212.5,268.1 L212.9,267.9 L213.3,268.6 L213.7,269.8 L214.1,271.2 L214.6,272.6 L215.0,273.6 L215.4,274.0 L215.8,273.6 L216.2,272.7 L216.6,271.5 L217.1,270.4 L217.5,269.6 L217.9,269.3 L218.3,269.6 L218.7,270.3 L219.1,271.2 L219.5,271.9 L220.0,272.3 L220.4,272.3 L220.8,272.1 L221.2,271.8 L221.6,271.5 L222.0,271.4 L222.5,271.4 L222.9,271.7 L223.3,271.8 L223.7,271.5 L224.1,270.9 L224.5,270.7 L224.9,270.9 L225.4,271.4 L225.8,271.8 L226.2,271.9 L226.6,271.8 L227.0,271.6 L227.4,271.3 L227.9,271.1 L228.3,271.1 L228.7,271.3 L229.1,271.8 L229.5,272.2 L229.9,272.7 L230.3,272.9 L230.8,272.7 L231.2,271.9 L231.6,270.6 L232.0,269.1 L232.4,267.6 L232.8,266.7 L233.3,266.5 L233.7,267.4 L234.1,269.1 L234.5,271.2 L234.9,272.9 L235.3,274.0 L235.7,274.4 L236.2,274.5 L236.6,274.6 L237.0,274.7 L237.4,274.9 L237.8,275.3 L238.2,276.1 L238.7,277.2 L239.1,278.4 L239.5,279.4 L239.9,280.0 L240.3,280.1 L240.7,279.4 L241.1,278.1 L241.6,276.3 L242.0,274.0 L242.4,271.6 L242.8,269.1 L243.2,266.8 L243.6,264.7 L244.1,263.0 L244.5,261.9 L244.9,261.8 L245.3,263.2 L245.7,266.3 L246.1,270.3 L246.5,274.4 L247.0,277.7 L247.4,279.3 L247.8,278.5 L248.2,275.6 L248.6,271.6 L249.0,268.0 L249.5,266.1 L249.9,266.2 L250.3,267.7 L250.7,269.8 L251.1,271.9 L251.5,273.4 L251.9,274.0 L252.4,273.8 L252.8,273.1 L253.2,272.2 L253.6,271.1 L254.0,270.0 L254.4,269.1 L254.9,268.3 L255.3,267.8 L255.7,268.0 L256.1,269.2 L256.5,271.1 L256.9,273.3 L257.3,275.3 L257.8,276.5 L258.2,276.3 L258.6,274.4 L259.0,271.1 L259.4,267.7 L259.8,265.1 L260.3,264.2 L260.7,265.2 L261.1,267.6 L261.5,270.7 L261.9,274.0 L262.3,277.0 L262.7,279.0 L263.2,279.4 L263.6,277.7 L264.0,274.1 L264.4,269.5 L264.8,265.1 L265.2,262.0 L265.6,261.1 L266.1,262.9 L266.5,266.8 L266.9,271.8 L267.3,276.8 L267.7,280.7 L268.1,282.5 L268.6,281.5 L269.0,278.1 L269.4,273.2 L269.8,267.9 L270.2,263.4 L270.6,260.7 L271.0,260.7 L271.5,263.1 L271.9,267.2 L272.3,271.9 L272.7,275.9 L273.1,278.4 L273.5,278.9 L274.0,278.0 L274.4,276.4 L274.8,274.3 L275.2,272.1 L275.6,269.8 L276.0,267.8 L276.4,266.4 L276.9,265.7 L277.3,266.2 L277.7,267.7 L278.1,269.9 L278.5,272.3 L278.9,274.5 L279.4,275.8 L279.8,275.9 L280.2,274.9 L280.6,272.9 L281.0,270.4 L281.4,267.9 L281.8,265.8 L282.3,264.6 L282.7,264.7 L283.1,266.5 L283.5,269.8 L283.9,273.5 L284.3,276.9 L284.8,279.1 L285.2,279.4 L285.6,277.8 L286.0,274.8 L286.4,271.1 L286.8,267.0 L287.2,263.3 L287.7,260.5 L288.1,259.0 L288.5,259.6 L288.9,262.1 L289.3,266.3 L289.7,271.3 L290.2,276.6 L290.6,281.5 L291.0,285.3 L291.4,287.3 L291.8,287.5 L292.2,286.1 L292.6,283.7 L293.1,280.5 L293.5,276.7 L293.9,272.6 L294.3,268.5 L294.7,264.6 L295.1,261.1 L295.6,258.3 L296.0,256.5 L296.4,256.2 L296.8,258.7 L297.2,264.0 L297.6,271.1 L298.0,278.2 L298.5,283.5 L298.9,285.7 L299.3,284.4 L299.7,280.7 L300.1,275.5 L300.5,269.9 L301.0,264.7 L301.4,261.0 L301.8,259.5 L302.2,260.5 L302.6,263.3 L303.0,267.2 L303.4,271.5 L303.9,275.5 L304.3,278.4 L304.7,279.6 L305.1,279.2 L305.5,277.8 L305.9,275.7 L306.4,273.3 L306.8,270.8 L307.2,268.7 L307.6,267.1 L308.0,266.4 L308.4,266.7 L308.8,267.8 L309.3,269.4 L309.7,271.2 L310.1,272.9 L310.5,274.1 L310.9,274.6 L311.3,274.2 L311.8,272.7 L312.2,270.9 L312.6,269.4 L313.0,268.8 L313.4,269.8 L313.8,272.1 L314.2,274.0 L314.7,274.3 L315.1,272.8 L315.5,270.4 L315.9,268.2 L316.3,267.1 L316.7,267.4 L317.2,269.0 L317.6,271.2 L318.0,273.4 L318.4,275.2 L318.8,276.1 L319.2,275.7 L319.6,274.5 L320.1,272.8 L320.5,270.9 L320.9,269.3 L321.3,268.4 L321.7,268.3 L322.1,268.7 L322.6,269.5 L323.0,270.4 L323.4,271.2 L323.8,271.7 L324.2,271.9 L324.6,271.9 L325.0,271.8 L325.5,271.6 L325.9,271.4 L326.3,271.3 L326.7,271.3 L327.1,271.4 L327.5,271.6 L328.0,271.8 L328.4,271.9 L328.8,271.9 L329.2,271.7 L329.6,271.0 L330.0,270.3 L330.4,269.6 L330.9,269.3 L331.3,269.6 L331.7,270.8 L332.1,272.5 L332.5,274.1 L332.9,275.2 L333.4,275.3 L333.8,274.5 L334.2,272.9 L334.6,271.2 L335.0,269.5 L335.4,268.3 L335.8,267.9 L336.3,268.4 L336.7,269.6 L337.1,271.1 L337.5,272.6 L337.9,273.6 L338.3,274.0 L338.8,273.7 L339.2,273.0 L339.6,272.0 L340.0,271.0 L340.4,270.1 L340.8,269.4 L341.2,269.2 L341.7,269.5 L342.1,270.2 L342.5,271.2 L342.9,272.2 L343.3,273.2 L343.7,273.8 L344.2,274.0 L344.6,273.7 L345.0,272.9 L345.4,271.8 L345.8,270.6 L346.2,269.5 L346.6,268.8 L347.1,268.6 L347.5,269.4 L347.9,271.0 L348.3,273.0 L348.7,274.7 L349.1,275.7 L349.6,275.7 L350.0,275.3 L350.4,274.6 L350.8,273.7 L351.2,272.6 L351.6,271.5 L352.0,270.2 L352.5,269.0 L352.9,267.8 L353.3,266.7 L353.7,265.9 L354.1,265.2 L354.5,264.9 L355.0,265.0 L355.4,266.0 L355.8,267.7 L356.2,270.0 L356.6,272.6 L357.0,275.3 L357.4,277.8 L357.9,279.9 L358.3,281.4 L358.7,282.0 L359.1,281.7 L359.5,280.6 L359.9,278.9 L360.4,276.7 L360.8,274.2 L361.2,271.5 L361.6,268.8 L362.0,266.2 L362.4,263.9 L362.8,261.9 L363.3,260.6 L363.7,259.9 L364.1,260.3 L364.5,261.9 L364.9,264.5 L365.3,267.7 L365.8,271.0 L366.2,274.0 L366.6,276.1 L367.0,277.1 L367.4,276.7 L367.8,275.5 L368.2,273.8 L368.7,271.9 L369.1,270.3 L369.5,269.4 L369.9,269.5 L370.3,270.3 L370.7,271.5 L371.2,272.8 L371.6,273.8 L372.0,274.0 L372.4,273.4 L372.8,272.3 L373.2,271.0 L373.6,269.8 L374.1,269.0 L374.5,268.8 L374.9,269.3 L375.3,270.2 L375.7,271.2 L376.1,272.3 L376.6,273.0 L377.0,273.4 L377.4,273.2 L377.8,272.9 L378.2,272.3 L378.6,271.7 L379.0,271.2 L379.5,270.8 L379.9,270.7 L380.3,270.9 L380.7,271.5 L381.1,272.3 L381.5,272.9 L382.0,273.3 L382.4,273.3 L382.8,272.9 L383.2,272.2 L383.6,271.4 L384.0,270.5 L384.4,269.6 L384.9,268.9 L385.3,268.4 L385.7,268.3 L386.1,269.1 L386.5,270.9 L386.9,273.0 L387.3,274.6 L387.8,275.1 L388.2,274.8 L388.6,273.9 L389.0,272.9 L389.4,271.7 L389.8,270.6 L390.3,269.7 L390.7,269.3 L391.1,269.7 L391.5,271.0 L391.9,272.5 L392.3,273.2 L392.7,272.9 L393.2,272.1 L393.6,271.0 L394.0,269.9 L394.4,269.0 L394.8,268.6 L395.2,268.8 L395.7,269.5 L396.1,270.4 L396.5,271.0 L396.9,271.2 L397.3,271.0 L397.7,270.8 L398.1,270.7 L398.6,270.8 L399.0,271.4 L399.4,272.6 L399.8,273.9 L400.2,275.1 L400.6,275.6 L401.1,275.1 L401.5,273.3 L401.9,270.8 L402.3,268.6 L402.7,267.3 L403.1,267.5 L403.5,268.6 L404.0,270.1 L404.4,271.7 L404.8,272.8 L405.2,273.1 L405.6,272.3 L406.0,271.5 L406.5,271.7 L406.9,273.2 L407.3,275.2 L407.7,276.9 L408.1,277.5 L408.5,276.7 L408.9,274.8 L409.4,272.2 L409.8,269.3 L410.2,266.5 L410.6,264.2 L411.0,262.8 L411.4,262.9 L411.9,264.6 L412.3,267.8 L412.7,271.7 L413.1,275.7 L413.5,279.2 L413.9,281.3 L414.3,281.8 L414.8,280.7 L415.2,278.7 L415.6,275.9 L416.0,272.8 L416.4,269.7 L416.8,266.9 L417.3,264.8 L417.7,263.7 L418.1,263.9 L418.5,265.4 L418.9,267.8 L419.3,270.7 L419.7,273.6 L420.2,276.0 L420.6,277.3 L421.0,277.2 L421.4,275.8 L421.8,273.5 L422.2,270.9 L422.7,268.7 L423.1,267.4 L423.5,267.4 L423.9,268.4 L424.3,270.1 L424.7,271.9 L425.1,273.3 L425.6,273.9 L426.0,273.3 L426.4,271.9 L426.8,270.4 L427.2,269.5 L427.6,269.6 L428.1,270.5 L428.5,271.4 L428.9,271.5 L429.3,270.2 L429.7,268.6 L430.1,268.3 L430.5,269.9 L431.0,272.6 L431.4,275.3 L431.8,277.1 L432.2,277.4 L432.6,276.6 L433.0,275.0 L433.5,273.0 L433.9,270.8 L434.3,268.8 L434.7,267.1 L435.1,266.1 L435.5,266.0 L435.9,266.7 L436.4,268.1 L436.8,269.8 L437.2,271.7 L437.6,273.6 L438.0,275.1 L438.4,276.0 L438.9,276.1 L439.3,275.3 L439.7,273.9 L440.1,272.0 L440.5,270.1 L440.9,268.5 L441.3,267.4 L441.8,267.4 L442.2,268.6 L442.6,270.9 L443.0,273.2 L443.4,274.9 L443.8,275.3 L444.3,274.6 L444.7,273.3 L445.1,271.7 L445.5,270.1 L445.9,269.0 L446.3,268.5 L446.7,268.8 L447.2,269.5 L447.6,270.4 L448.0,271.5 L448.4,272.4 L448.8,273.1 L449.2,273.3 L449.7,272.7 L450.1,271.4 L450.5,270.1 L450.9,269.5 L451.3,270.5 L451.7,272.4 L452.1,273.7 L452.6,273.4 L453.0,272.0 L453.4,270.3 L453.8,268.8 L454.2,268.0 L454.6,268.2 L455.1,269.4 L455.5,271.0 L455.9,272.7 L456.3,273.7 L456.7,274.0 L457.1,273.7 L457.5,273.0 L458.0,272.2 L458.4,271.4 L458.8,270.7 L459.2,270.3 L459.6,270.2 L460.0,270.3 L460.5,270.6 L460.9,271.0 L461.3,271.4 L461.7,271.7 L462.1,271.9 L462.5,272.0 L462.9,272.0 L463.4,272.0 L463.8,271.9 L464.2,271.9 L464.6,271.9 L465.0,271.8 L465.4,271.8 L465.9,271.7 L466.3,271.7 L466.7,271.6 L467.1,271.6 L467.5,271.5 L467.9,271.4 L468.3,271.4 L468.8,271.3 L469.2,271.3 L469.6,271.3 L470.0,271.4 L470.4,271.7 L470.8,272.2 L471.3,272.7 L471.7,273.4 L472.1,273.9 L472.5,274.4 L472.9,274.7 L473.3,274.8 L473.7,274.1 L474.2,272.6 L474.6,270.5 L475.0,268.1 L475.4,265.6 L475.8,263.5 L476.2,262.0 L476.7,261.6 L477.1,263.4 L477.5,267.7 L477.9,273.5 L478.3,279.4 L478.7,283.9 L479.1,285.8 L479.6,284.9 L480.0,281.6 L480.4,277.0 L480.8,271.5 L481.2,266.0 L481.6,261.2 L482.1,257.6 L482.5,256.0 L482.9,256.4 L483.3,258.1 L483.7,260.9 L484.1,264.3 L484.5,268.0 L485.0,271.9 L485.4,275.4 L485.8,278.5 L486.2,280.7 L486.6,281.8 L487.0,281.5 L487.5,279.9 L487.9,277.3 L488.3,274.1 L488.7,270.8 L489.1,267.8 L489.5,265.4 L489.9,264.3 L490.4,264.9 L490.8,267.5 L491.2,271.2 L491.6,274.4 L492.0,275.8 L492.4,275.1 L492.9,273.2 L493.3,270.9 L493.7,269.1 L494.1,268.5 L494.5,269.2 L494.9,270.8 L495.3,272.6 L495.8,273.7 L496.2,273.7 L496.6,272.5 L497.0,270.8 L497.4,269.3 L497.8,268.7 L498.3,269.4 L498.7,271.0 L499.1,272.8 L499.5,273.7 L499.9,273.2 L500.3,271.4 L500.7,269.1 L501.2,267.6 L501.6,267.9 L502.0,270.0 L502.4,273.2 L502.8,276.0 L503.2,277.3 L503.7,276.5 L504.1,274.1 L504.5,271.0 L504.9,267.8 L505.3,265.4 L505.7,264.5 L506.1,265.5 L506.6,267.9 L507.0,271.1 L507.4,274.2 L507.8,276.2 L508.2,276.8 L508.6,276.2 L509.0,275.0 L509.5,273.7 L509.9,272.4 L510.3,271.6 L510.7,271.6 L511.1,272.1 L511.5,272.5 L512.0,271.9 L512.4,270.4 L512.8,268.7 L513.2,267.5 L513.6,267.3 L514.0,268.4 L514.4,270.3 L514.9,272.4 L515.3,274.0 L515.7,274.6 L516.1,274.1 L516.5,272.8 L516.9,271.3 L517.4,270.0 L517.8,269.3 L518.2,269.4 L518.6,269.9 L519.0,270.7 L519.4,271.4 L519.8,271.8 L520.3,271.8 L520.7,271.2 L521.1,270.3 L521.5,269.2 L521.9,268.2 L522.3,267.6 L522.8,268.1 L523.2,271.2 L523.6,275.7 L524.0,278.8 L524.4,278.7 L524.8,275.9 L525.2,271.8 L525.7,267.4 L526.1,263.7 L526.5,261.9 L526.9,262.8 L527.3,266.4 L527.7,271.4 L528.2,276.3 L528.6,279.4 L529.0,280.0 L529.4,278.4 L529.8,275.5 L530.2,272.1 L530.6,268.9 L531.1,266.6 L531.5,265.8 L531.9,266.3 L532.3,267.7 L532.7,269.3 L533.1,271.0 L533.6,272.1 L534.0,272.6 L534.4,272.4 L534.8,271.9 L535.2,271.3 L535.6,270.9 L536.0,270.6 L536.5,270.8 L536.9,271.2 L537.3,271.8 L537.7,272.5 L538.1,273.0 L538.5,273.3 L539.0,273.3 L539.4,273.0 L539.8,272.4 L540.2,271.6 L540.6,270.7 L541.0,269.8 L541.4,269.0 L541.9,268.3 L542.3,267.9 L542.7,267.9 L543.1,269.0 L543.5,271.2 L543.9,273.9 L544.4,276.2 L544.8,277.4 L545.2,277.2 L545.6,275.8 L546.0,273.7 L546.4,271.3 L546.8,269.1 L547.3,267.3 L547.7,266.5 L548.1,266.5 L548.5,267.1 L548.9,268.1 L549.3,269.3 L549.8,270.7 L550.2,272.1 L550.6,273.4 L551.0,274.5 L551.4,275.2 L551.8,275.4 L552.2,274.4 L552.7,272.4 L553.1,270.2 L553.5,268.8 L553.9,268.8 L554.3,269.5 L554.7,270.6 L555.2,271.7 L555.6,272.4 L556.0,272.4 L556.4,271.8 L556.8,270.8 L557.2,270.0 L557.6,269.8 L558.1,270.4 L558.5,271.4 L558.9,272.3 L559.3,272.4 L559.7,271.6 L560.1,270.4 L560.6,269.3 L561.0,269.1 L561.4,270.2 L561.8,272.0 L562.2,273.3 L562.6,273.5 L563.0,272.6 L563.5,271.3 L563.9,270.0 L564.3,269.1 L564.7,269.0 L565.1,269.9 L565.5,271.4 L566.0,272.8 L566.4,273.6 L566.8,273.6 L567.2,273.0 L567.6,272.2 L568.0,271.3 L568.4,270.6 L568.9,270.2 L569.3,270.3 L569.7,270.5 L570.1,270.9 L570.5,271.3 L570.9,271.5 L571.4,271.6 L571.8,271.5 L572.2,271.5 L572.6,271.5 L573.0,271.4 L573.4,271.4 L573.8,271.3 L574.3,271.2 L574.7,271.1 L575.1,271.0 L575.5,270.9 L575.9,270.7 L576.3,270.6 L576.8,270.6 L577.2,270.8 L577.6,271.3 L578.0,272.0 L578.4,272.3 L578.8,272.1 L579.2,271.6 L579.7,270.9 L580.1,270.3 L580.5,270.0 L580.9,270.1 L581.3,270.7 L581.7,271.5 L582.2,272.3 L582.6,272.8 L583.0,272.9 L583.4,272.4 L583.8,271.7 L584.2,271.0 L584.6,270.4 L585.1,270.2 L585.5,270.4 L585.9,270.9 L586.3,271.5 L586.7,272.3 L587.1,273.1 L587.6,273.8 L588.0,274.4 L588.4,274.8 L588.8,274.7 L589.2,274.1 L589.6,272.9 L590.0,271.5 L590.5,270.0 L590.9,268.8 L591.3,268.0 L591.7,267.9 L592.1,268.6 L592.5,269.9 L593.0,271.4 L593.4,272.9 L593.8,273.8 L594.2,274.0 L594.6,273.5 L595.0,272.7 L595.4,271.9 L595.9,271.4 L596.3,271.5 L596.7,271.8 L597.1,272.2 L597.5,272.6 L597.9,272.7 L598.4,272.6 L598.8,272.4 L599.2,272.2 L599.6,271.9 L600.0,271.5 L600.4,271.1 L600.8,270.6 L601.3,269.9 L601.7,269.1 L602.1,268.2 L602.5,267.4 L602.9,266.8 L603.3,266.4 L603.8,266.5 L604.2,267.7 L604.6,270.0 L605.0,272.9 L605.4,275.6 L605.8,277.6 L606.2,278.0 L606.7,276.3 L607.1,273.0 L607.5,269.2 L607.9,266.0 L608.3,264.5 L608.7,265.0 L609.2,267.0 L609.6,269.7 L610.0,272.5 L610.4,274.9 L610.8,276.3 L611.2,276.3 L611.6,275.1 L612.1,273.1 L612.5,270.9 L612.9,269.1 L613.3,268.0 L613.7,268.0 L614.1,268.9 L614.6,270.3 L615.0,271.9 L615.4,273.2 L615.8,273.9 L616.2,274.0 L616.6,273.7 L617.0,273.1 L617.5,272.4 L617.9,271.6 L618.3,270.8 L618.7,270.1 L619.1,269.5 L619.5,269.3 L620.0,269.6 L620.4,271.0 L620.8,273.2 L621.2,275.3 L621.6,276.5 L622.0,276.3 L622.4,274.3 L622.9,271.2 L623.3,267.9 L623.7,265.3 L624.1,264.2 L624.5,265.2 L624.9,267.8 L625.3,271.4 L625.8,274.9 L626.2,277.7 L626.6,278.9 L627.0,278.4 L627.4,276.8 L627.8,274.5 L628.3,271.9 L628.7,269.6 L629.1,267.9 L629.5,267.2 L629.9,267.5 L630.3,268.5 L630.7,269.9 L631.2,271.1 L631.6,271.8 L632.0,271.9 L632.4,271.7 L632.8,271.5 L633.2,271.2 L633.7,271.1 L634.1,271.0 L634.5,271.2 L634.9,271.4 L635.3,271.7 L635.7,271.9 L636.1,271.9 L636.6,271.8 L637.0,271.5 L637.4,271.1 L637.8,270.8 L638.2,270.7 L638.6,271.1 L639.1,272.2 L639.5,273.5 L639.9,274.4 L640.3,274.4 L640.7,272.9 L641.1,270.2 L641.5,267.0 L642.0,264.0 L642.4,262.0 L642.8,262.0 L643.2,264.7 L643.6,269.7 L644.0,275.7 L644.5,281.6 L644.9,285.9 L645.3,287.8 L645.7,286.8 L646.1,283.6 L646.5,278.9 L646.9,273.2 L647.4,267.1 L647.8,261.1 L648.2,255.8 L648.6,251.8 L649.0,249.7 L649.4,250.6 L649.9,255.7 L650.3,264.1 L650.7,273.8 L651.1,282.9 L651.5,289.2 L651.9,291.0 L652.3,287.8 L652.8,280.8 L653.2,272.2 L653.6,263.9 L654.0,258.2 L654.4,256.6 L654.8,259.5 L655.3,265.6 L655.7,272.7 L656.1,278.5 L656.5,281.3 L656.9,281.0 L657.3,278.8 L657.7,275.6 L658.2,272.0 L658.6,268.7 L659.0,266.2 L659.4,265.2 L659.8,266.0 L660.2,268.3 L660.7,271.3 L661.1,274.1 L661.5,275.8 L661.9,276.1 L662.3,275.6 L662.7,274.6 L663.1,273.4 L663.6,271.9 L664.0,270.4 L664.4,268.9 L664.8,267.6 L665.2,266.5 L665.6,265.8 L666.1,265.8 L666.5,267.0 L666.9,269.3 L667.3,272.2 L667.7,274.6 L668.1,275.9 L668.5,275.7 L669.0,274.3 L669.4,272.2 L669.8,269.8 L670.2,267.6 L670.6,265.9 L671.0,265.1 L671.5,265.6 L671.9,267.3 L672.3,269.8 L672.7,272.6 L673.1,275.0 L673.5,276.5 L673.9,276.5 L674.4,274.9 L674.8,272.2 L675.2,269.1 L675.6,266.4 L676.0,264.7 L676.4,264.8 L676.9,267.0 L677.3,270.3 L677.7,273.9 L678.1,276.5 L678.5,277.2 L678.9,275.8 L679.3,273.0 L679.8,269.8 L680.2,267.1 L680.6,265.9 L681.0,266.3 L681.4,267.7 L681.8,269.7 L682.3,271.7 L682.7,273.3 L683.1,274.0 L683.5,274.2"/>
<path d="M85.8,347.5 L86.2,347.5 L86.6,347.6 L87.0,347.6 L87.5,347.7 L87.9,347.8 L88.3,347.9 L88.7,348.0 L89.1,348.2 L89.5,348.4 L90.0,348.5 L90.4,348.6 L90.8,348.7 L91.2,348.7 L91.6,348.7 L92.0,348.6 L92.4,348.6 L92.9,348.5 L93.3,348.5 L93.7,348.5 L94.1,348.5 L94.5,348.6 L94.9,348.8 L95.4,348.9 L95.8,349.1 L96.2,349.3 L96.6,349.5 L97.0,349.5 L97.4,349.5 L97.8,349.5 L98.3,349.2 L98.7,348.9 L99.1,348.6 L99.5,348.2 L99.9,347.9 L100.3,347.6 L100.8,347.4 L101.2,347.4 L101.6,347.4 L102.0,347.5 L102.4,347.7 L102.8,347.9 L103.2,348.0 L103.7,348.1 L104.1,348.1 L104.5,348.0 L104.9,347.7 L105.3,347.4 L105.7,346.9 L106.2,346.4 L106.6,345.9 L107.0,345.3 L107.4,344.8 L107.8,344.3 L108.2,343.8 L108.6,343.5 L109.1,343.3 L109.5,343.2 L109.9,343.3 L110.3,343.5 L110.7,343.9 L111.1,344.4 L111.6,345.1 L112.0,345.7 L112.4,346.4 L112.8,347.2 L113.2,348.2 L113.6,349.3 L114.0,350.6 L114.5,352.0 L114.9,353.6 L115.3,355.2 L115.7,356.8 L116.1,358.3 L116.5,359.7 L117.0,361.0 L117.4,362.1 L117.8,362.9 L118.2,363.4 L118.6,363.4 L119.0,363.0 L119.4,362.0 L119.9,360.6 L120.3,358.7 L120.7,356.5 L121.1,354.0 L121.5,351.3 L121.9,348.6 L122.4,345.8 L122.8,343.1 L123.2,340.5 L123.6,338.2 L124.0,336.2 L124.4,334.6 L124.8,333.5 L125.3,332.9 L125.7,332.9 L126.1,333.5 L126.5,334.6 L126.9,336.0 L127.3,337.9 L127.8,339.9 L128.2,342.2 L128.6,344.5 L129.0,346.8 L129.4,349.0 L129.8,351.1 L130.2,352.9 L130.7,354.4 L131.1,355.4 L131.5,356.1 L131.9,356.4 L132.3,356.4 L132.7,356.4 L133.2,356.4 L133.6,356.3 L134.0,356.3 L134.4,356.2 L134.8,356.1 L135.2,356.0 L135.6,355.9 L136.1,355.7 L136.5,355.5 L136.9,355.2 L137.3,354.8 L137.7,354.3 L138.1,353.8 L138.6,353.2 L139.0,352.7 L139.4,352.1 L139.8,351.6 L140.2,351.1 L140.6,350.7 L141.0,350.5 L141.5,350.4 L141.9,350.4 L142.3,350.6 L142.7,351.0 L143.1,351.5 L143.5,352.1 L144.0,352.8 L144.4,353.6 L144.8,354.3 L145.2,355.1 L145.6,355.8 L146.0,356.4 L146.4,356.9 L146.9,357.3 L147.3,357.5 L147.7,357.5 L148.1,357.2 L148.5,356.8 L148.9,356.1 L149.3,355.4 L149.8,354.6 L150.2,353.8 L150.6,353.1 L151.0,352.4 L151.4,351.9 L151.8,351.6 L152.3,351.5 L152.7,351.4 L153.1,351.5 L153.5,351.5 L153.9,351.6 L154.3,351.7 L154.7,351.8 L155.2,351.8 L155.6,351.9 L156.0,352.0 L156.4,352.1 L156.8,352.2 L157.2,352.2 L157.7,352.3 L158.1,352.3 L158.5,352.4 L158.9,352.4 L159.3,352.5 L159.7,352.5 L160.1,352.6 L160.6,352.6 L161.0,352.7 L161.4,352.8 L161.8,352.9 L162.2,353.1 L162.6,353.3 L163.1,353.6 L163.5,353.9 L163.9,354.2 L164.3,354.6 L164.7,354.8 L165.1,355.0 L165.5,355.2 L166.0,355.2 L166.4,354.9 L166.8,354.4 L167.2,353.5 L167.6,352.4 L168.0,351.0 L168.5,349.5 L168.9,347.9 L169.3,346.3 L169.7,344.7 L170.1,343.1 L170.5,341.7 L170.9,340.5 L171.4,339.5 L171.8,338.8 L172.2,338.5 L172.6,338.3 L173.0,338.4 L173.4,338.5 L173.9,338.7 L174.3,338.9 L174.7,339.2 L175.1,339.5 L175.5,339.8 L175.9,340.2 L176.3,340.6 L176.8,341.0 L177.2,341.5 L177.6,342.2 L178.0,343.0 L178.4,343.9 L178.8,344.9 L179.3,346.0 L179.7,347.2 L180.1,348.5 L180.5,349.9 L180.9,351.5 L181.3,353.3 L181.7,355.0 L182.2,356.6 L182.6,357.9 L183.0,358.8 L183.4,359.3 L183.8,359.2 L184.2,358.6 L184.7,357.6 L185.1,356.2 L185.5,354.6 L185.9,352.7 L186.3,350.8 L186.7,348.8 L187.1,346.8 L187.6,345.0 L188.0,343.5 L188.4,342.2 L188.8,341.3 L189.2,340.8 L189.6,340.6 L190.1,340.7 L190.5,340.9 L190.9,341.2 L191.3,341.6 L191.7,342.0 L192.1,342.5 L192.5,343.0 L193.0,343.5 L193.4,344.1 L193.8,344.6 L194.2,345.2 L194.6,345.8 L195.0,346.4 L195.5,347.1 L195.9,347.9 L196.3,348.8 L196.7,349.6 L197.1,350.5 L197.5,351.2 L197.9,352.0 L198.4,352.6 L198.8,353.0 L199.2,353.3 L199.6,353.5 L200.0,353.4 L200.4,353.2 L200.9,353.0 L201.3,352.6 L201.7,352.1 L202.1,351.6 L202.5,351.1 L202.9,350.5 L203.3,349.9 L203.8,349.4 L204.2,348.8 L204.6,348.3 L205.0,347.8 L205.4,347.4 L205.8,347.0 L206.3,346.8 L206.7,346.7 L207.1,346.7 L207.5,346.8 L207.9,347.1 L208.3,347.5 L208.7,347.9 L209.2,348.4 L209.6,348.9 L210.0,349.4 L210.4,349.9 L210.8,350.2 L211.2,350.4 L211.7,350.6 L212.1,350.6 L212.5,350.5 L212.9,350.5 L213.3,350.3 L213.7,350.2 L214.1,350.0 L214.6,349.9 L215.0,349.8 L215.4,349.6 L215.8,349.6 L216.2,349.5 L216.6,349.5 L217.1,349.6 L217.5,349.7 L217.9,349.8 L218.3,350.0 L218.7,350.1 L219.1,350.3 L219.5,350.4 L220.0,350.5 L220.4,350.6 L220.8,350.6 L221.2,350.4 L221.6,350.1 L222.0,349.6 L222.5,349.0 L222.9,348.3 L223.3,347.6 L223.7,346.8 L224.1,346.0 L224.5,345.3 L224.9,344.6 L225.4,344.0 L225.8,343.5 L226.2,343.1 L226.6,342.8 L227.0,342.4 L227.4,342.1 L227.9,341.8 L228.3,341.5 L228.7,341.2 L229.1,341.0 L229.5,340.8 L229.9,340.7 L230.3,340.6 L230.8,340.6 L231.2,340.7 L231.6,341.2 L232.0,342.0 L232.4,343.1 L232.8,344.5 L233.3,346.2 L233.7,348.1 L234.1,350.1 L234.5,352.1 L234.9,354.3 L235.3,356.4 L235.7,358.4 L236.2,360.3 L236.6,362.0 L237.0,363.6 L237.4,364.8 L237.8,365.7 L238.2,366.2 L238.7,366.2 L239.1,365.4 L239.5,363.9 L239.9,361.7 L240.3,358.9 L240.7,355.7 L241.1,352.1 L241.6,348.5 L242.0,344.9 L242.4,341.4 L242.8,338.3 L243.2,335.7 L243.6,333.7 L244.1,332.4 L244.5,332.1 L244.9,332.7 L245.3,334.2 L245.7,336.4 L246.1,339.2 L246.5,342.4 L247.0,345.8 L247.4,349.2 L247.8,352.5 L248.2,355.5 L248.6,358.0 L249.0,359.8 L249.5,360.8 L249.9,361.1 L250.3,360.7 L250.7,359.9 L251.1,358.6 L251.5,357.1 L251.9,355.4 L252.4,353.5 L252.8,351.7 L253.2,349.8 L253.6,348.1 L254.0,346.5 L254.4,345.2 L254.9,344.3 L255.3,343.8 L255.7,343.6 L256.1,343.8 L256.5,344.3 L256.9,345.0 L257.3,345.8 L257.8,346.7 L258.2,347.6 L258.6,348.4 L259.0,349.1 L259.4,349.7 L259.8,350.1 L260.3,350.3 L260.7,350.3 L261.1,350.3 L261.5,350.3 L261.9,350.2 L262.3,350.2 L262.7,350.1 L263.2,350.1 L263.6,350.0 L264.0,350.0 L264.4,350.0 L264.8,349.9 L265.2,349.9 L265.6,349.9 L266.1,349.9 L266.5,350.0 L266.9,350.0 L267.3,350.0 L267.7,350.1 L268.1,350.1 L268.6,350.1 L269.0,350.2 L269.4,350.2 L269.8,350.3 L270.2,350.3 L270.6,350.3 L271.0,350.3 L271.5,350.3 L271.9,350.3 L272.3,350.2 L272.7,349.9 L273.1,349.6 L273.5,349.1 L274.0,348.6 L274.4,348.0 L274.8,347.5 L275.2,346.9 L275.6,346.4 L276.0,346.1 L276.4,345.8 L276.9,345.7 L277.3,345.8 L277.7,346.2 L278.1,346.8 L278.5,347.6 L278.9,348.5 L279.4,349.5 L279.8,350.5 L280.2,351.5 L280.6,352.4 L281.0,353.2 L281.4,353.7 L281.8,354.0 L282.3,354.0 L282.7,353.6 L283.1,352.8 L283.5,351.8 L283.9,350.5 L284.3,349.1 L284.8,347.7 L285.2,346.3 L285.6,344.9 L286.0,343.8 L286.4,342.9 L286.8,342.4 L287.2,342.3 L287.7,342.7 L288.1,343.5 L288.5,344.7 L288.9,346.3 L289.3,348.0 L289.7,349.8 L290.2,351.6 L290.6,353.2 L291.0,354.5 L291.4,355.5 L291.8,356.0 L292.2,356.0 L292.6,355.5 L293.1,354.5 L293.5,353.2 L293.9,351.6 L294.3,349.8 L294.7,348.0 L295.1,346.3 L295.6,344.7 L296.0,343.4 L296.4,342.5 L296.8,342.0 L297.2,342.0 L297.6,342.3 L298.0,343.0 L298.5,343.9 L298.9,345.1 L299.3,346.4 L299.7,347.7 L300.1,349.1 L300.5,350.5 L301.0,351.7 L301.4,352.8 L301.8,353.8 L302.2,354.4 L302.6,354.7 L303.0,354.7 L303.4,354.3 L303.9,353.6 L304.3,352.7 L304.7,351.5 L305.1,350.2 L305.5,348.9 L305.9,347.6 L306.4,346.4 L306.8,345.3 L307.2,344.4 L307.6,343.9 L308.0,343.7 L308.4,343.8 L308.8,344.3 L309.3,345.1 L309.7,346.2 L310.1,347.4 L310.5,348.6 L310.9,349.9 L311.3,351.0 L311.8,352.0 L312.2,352.6 L312.6,352.9 L313.0,352.7 L313.4,352.1 L313.8,351.0 L314.2,349.6 L314.7,348.2 L315.1,346.9 L315.5,345.9 L315.9,345.3 L316.3,345.2 L316.7,345.7 L317.2,346.4 L317.6,347.4 L318.0,348.6 L318.4,349.8 L318.8,350.9 L319.2,351.8 L319.6,352.3 L320.1,352.6 L320.5,352.5 L320.9,352.1 L321.3,351.5 L321.7,350.8 L322.1,350.0 L322.6,349.2 L323.0,348.4 L323.4,347.7 L323.8,347.1 L324.2,346.6 L324.6,346.4 L325.0,346.3 L325.5,346.4 L325.9,346.5 L326.3,346.6 L326.7,346.7 L327.1,346.9 L327.5,347.1 L328.0,347.3 L328.4,347.5 L328.8,347.8 L329.2,348.1 L329.6,348.5 L330.0,349.0 L330.4,349.6 L330.9,350.1 L331.3,350.6 L331.7,350.9 L332.1,351.2 L332.5,351.2 L332.9,351.1 L333.4,350.8 L333.8,350.4 L334.2,349.8 L334.6,349.2 L335.0,348.7 L335.4,348.1 L335.8,347.7 L336.3,347.3 L336.7,347.2 L337.1,347.1 L337.5,347.3 L337.9,347.5 L338.3,347.8 L338.8,348.1 L339.2,348.5 L339.6,348.8 L340.0,349.1 L340.4,349.3 L340.8,349.5 L341.2,349.5 L341.7,349.4 L342.1,349.1 L342.5,348.7 L342.9,348.2 L343.3,347.5 L343.7,346.8 L344.2,346.0 L344.6,345.3 L345.0,344.5 L345.4,343.7 L345.8,343.0 L346.2,342.4 L346.6,341.9 L347.1,341.6 L347.5,341.3 L347.9,341.2 L348.3,341.2 L348.7,341.3 L349.1,341.5 L349.6,341.6 L350.0,341.8 L350.4,342.1 L350.8,342.3 L351.2,342.6 L351.6,343.0 L352.0,343.4 L352.5,344.1 L352.9,345.1 L353.3,346.6 L353.7,348.3 L354.1,350.4 L354.5,352.6 L355.0,355.0 L355.4,357.3 L355.8,359.5 L356.2,361.6 L356.6,363.4 L357.0,364.8 L357.4,365.8 L357.9,366.2 L358.3,366.0 L358.7,365.1 L359.1,363.6 L359.5,361.5 L359.9,358.9 L360.4,356.0 L360.8,352.9 L361.2,349.6 L361.6,346.3 L362.0,343.1 L362.4,340.0 L362.8,337.3 L363.3,335.0 L363.7,333.2 L364.1,332.0 L364.5,331.5 L364.9,331.7 L365.3,332.5 L365.8,333.8 L366.2,335.6 L366.6,337.7 L367.0,340.1 L367.4,342.7 L367.8,345.4 L368.2,348.1 L368.7,350.7 L369.1,353.2 L369.5,355.3 L369.9,357.2 L370.3,358.5 L370.7,359.4 L371.2,359.8 L371.6,359.6 L372.0,359.0 L372.4,358.0 L372.8,356.8 L373.2,355.3 L373.6,353.7 L374.1,352.1 L374.5,350.4 L374.9,348.9 L375.3,347.4 L375.7,346.2 L376.1,345.2 L376.6,344.6 L377.0,344.3 L377.4,344.4 L377.8,344.7 L378.2,345.2 L378.6,345.8 L379.0,346.5 L379.5,347.2 L379.9,348.0 L380.3,348.7 L380.7,349.3 L381.1,349.8 L381.5,350.2 L382.0,350.5 L382.4,350.7 L382.8,350.9 L383.2,351.1 L383.6,351.2 L384.0,351.4 L384.4,351.5 L384.9,351.7 L385.3,351.8 L385.7,351.9 L386.1,352.0 L386.5,352.1 L386.9,352.2 L387.3,352.3 L387.8,352.3 L388.2,352.4 L388.6,352.4 L389.0,352.3 L389.4,352.1 L389.8,351.8 L390.3,351.2 L390.7,350.4 L391.1,349.5 L391.5,348.6 L391.9,347.6 L392.3,346.6 L392.7,345.7 L393.2,344.8 L393.6,344.2 L394.0,343.8 L394.4,343.6 L394.8,343.8 L395.2,344.4 L395.7,345.3 L396.1,346.5 L396.5,347.9 L396.9,349.4 L397.3,350.8 L397.7,352.2 L398.1,353.4 L398.6,354.3 L399.0,354.8 L399.4,354.9 L399.8,354.5 L400.2,353.7 L400.6,352.4 L401.1,350.9 L401.5,349.3 L401.9,347.7 L402.3,346.1 L402.7,344.9 L403.1,344.0 L403.5,343.5 L404.0,343.6 L404.4,344.3 L404.8,345.4 L405.2,346.8 L405.6,348.4 L406.0,350.0 L406.5,351.5 L406.9,352.6 L407.3,353.4 L407.7,353.6 L408.1,353.3 L408.5,352.6 L408.9,351.5 L409.4,350.3 L409.8,349.0 L410.2,347.7 L410.6,346.7 L411.0,345.9 L411.4,345.4 L411.9,345.4 L412.3,345.6 L412.7,346.1 L413.1,346.6 L413.5,347.2 L413.9,347.7 L414.3,348.1 L414.8,348.3 L415.2,348.4 L415.6,348.3 L416.0,348.2 L416.4,348.0 L416.8,347.9 L417.3,347.7 L417.7,347.6 L418.1,347.5 L418.5,347.6 L418.9,347.9 L419.3,348.4 L419.7,349.0 L420.2,349.8 L420.6,350.6 L421.0,351.5 L421.4,352.3 L421.8,353.1 L422.2,353.7 L422.7,354.1 L423.1,354.4 L423.5,354.3 L423.9,353.8 L424.3,353.1 L424.7,352.1 L425.1,350.9 L425.6,349.5 L426.0,348.2 L426.4,346.8 L426.8,345.6 L427.2,344.6 L427.6,343.8 L428.1,343.3 L428.5,343.3 L428.9,343.7 L429.3,344.6 L429.7,345.7 L430.1,347.1 L430.5,348.6 L431.0,350.1 L431.4,351.3 L431.8,352.3 L432.2,352.8 L432.6,353.0 L433.0,352.7 L433.5,352.1 L433.9,351.3 L434.3,350.4 L434.7,349.4 L435.1,348.4 L435.5,347.5 L435.9,346.8 L436.4,346.3 L436.8,346.1 L437.2,346.1 L437.6,346.3 L438.0,346.8 L438.4,347.3 L438.9,348.0 L439.3,348.6 L439.7,349.3 L440.1,350.0 L440.5,350.6 L440.9,351.1 L441.3,351.5 L441.8,351.7 L442.2,351.7 L442.6,351.5 L443.0,351.1 L443.4,350.7 L443.8,350.1 L444.3,349.5 L444.7,349.0 L445.1,348.4 L445.5,347.9 L445.9,347.5 L446.3,347.2 L446.7,347.1 L447.2,347.2 L447.6,347.5 L448.0,347.9 L448.4,348.3 L448.8,348.8 L449.2,349.3 L449.7,349.7 L450.1,350.0 L450.5,350.2 L450.9,350.2 L451.3,350.1 L451.7,349.9 L452.1,349.5 L452.6,349.2 L453.0,348.8 L453.4,348.5 L453.8,348.3 L454.2,348.2 L454.6,348.2 L455.1,348.5 L455.5,348.9 L455.9,349.3 L456.3,349.8 L456.7,350.3 L457.1,350.6 L457.5,350.8 L458.0,350.9 L458.4,350.8 L458.8,350.7 L459.2,350.5 L459.6,350.3 L460.0,350.0 L460.5,349.8 L460.9,349.5 L461.3,349.2 L461.7,348.9 L462.1,348.6 L462.5,348.4 L462.9,348.1 L463.4,347.9 L463.8,347.6 L464.2,347.3 L464.6,346.9 L465.0,346.5 L465.4,345.9 L465.9,345.3 L466.3,344.7 L466.7,343.9 L467.1,343.2 L467.5,342.5 L467.9,341.8 L468.3,341.1 L468.8,340.5 L469.2,340.1 L469.6,339.7 L470.0,339.5 L470.4,339.4 L470.8,339.5 L471.3,339.9 L471.7,340.3 L472.1,341.0 L472.5,341.7 L472.9,342.6 L473.3,343.7 L473.7,345.3 L474.2,347.5 L474.6,350.2 L475.0,353.3 L475.4,356.6 L475.8,359.9 L476.2,362.9 L476.7,365.5 L477.1,367.4 L477.5,368.4 L477.9,368.2 L478.3,367.0 L478.7,364.6 L479.1,361.3 L479.6,357.4 L480.0,353.1 L480.4,348.8 L480.8,344.6 L481.2,340.8 L481.6,337.6 L482.1,335.1 L482.5,333.2 L482.9,331.5 L483.3,330.0 L483.7,328.7 L484.1,327.6 L484.5,326.7 L485.0,326.1 L485.4,326.0 L485.8,326.4 L486.2,327.6 L486.6,329.5 L487.0,331.9 L487.5,334.9 L487.9,338.3 L488.3,342.0 L488.7,345.8 L489.1,349.7 L489.5,353.5 L489.9,357.2 L490.4,360.5 L490.8,363.4 L491.2,365.8 L491.6,367.5 L492.0,368.5 L492.4,368.7 L492.9,368.1 L493.3,366.8 L493.7,364.8 L494.1,362.4 L494.5,359.5 L494.9,356.4 L495.3,353.1 L495.8,349.7 L496.2,346.3 L496.6,343.2 L497.0,340.3 L497.4,337.7 L497.8,335.7 L498.3,334.3 L498.7,333.5 L499.1,333.5 L499.5,334.2 L499.9,335.5 L500.3,337.3 L500.7,339.4 L501.2,341.7 L501.6,344.0 L502.0,346.3 L502.4,348.2 L502.8,349.9 L503.2,351.1 L503.7,351.9 L504.1,352.6 L504.5,353.1 L504.9,353.6 L505.3,354.2 L505.7,354.9 L506.1,355.7 L506.6,356.6 L507.0,357.5 L507.4,358.3 L507.8,358.8 L508.2,359.1 L508.6,358.8 L509.0,358.1 L509.5,356.8 L509.9,355.1 L510.3,353.1 L510.7,350.9 L511.1,348.5 L511.5,346.1 L512.0,343.9 L512.4,341.8 L512.8,340.1 L513.2,338.9 L513.6,338.1 L514.0,337.9 L514.4,338.1 L514.9,338.7 L515.3,339.6 L515.7,340.7 L516.1,342.1 L516.5,343.6 L516.9,345.3 L517.4,347.1 L517.8,349.0 L518.2,350.8 L518.6,352.7 L519.0,354.5 L519.4,356.3 L519.8,357.9 L520.3,359.3 L520.7,360.6 L521.1,361.6 L521.5,362.3 L521.9,362.6 L522.3,362.5 L522.8,361.6 L523.2,360.0 L523.6,357.6 L524.0,354.8 L524.4,351.6 L524.8,348.3 L525.2,344.9 L525.7,341.8 L526.1,339.1 L526.5,336.9 L526.9,335.5 L527.3,334.9 L527.7,334.9 L528.2,335.6 L528.6,336.7 L529.0,338.0 L529.4,339.6 L529.8,341.3 L530.2,343.1 L530.6,344.8 L531.1,346.3 L531.5,347.7 L531.9,348.9 L532.3,350.0 L532.7,351.0 L533.1,352.1 L533.6,353.2 L534.0,354.2 L534.4,355.2 L534.8,356.1 L535.2,356.9 L535.6,357.6 L536.0,358.2 L536.5,358.6 L536.9,358.9 L537.3,358.9 L537.7,358.7 L538.1,358.3 L538.5,357.6 L539.0,356.7 L539.4,355.7 L539.8,354.5 L540.2,353.4 L540.6,352.2 L541.0,351.0 L541.4,350.0 L541.9,349.1 L542.3,348.4 L542.7,347.8 L543.1,347.4 L543.5,347.1 L543.9,346.9 L544.4,346.6 L544.8,346.3 L545.2,345.8 L545.6,345.3 L546.0,344.6 L546.4,344.0 L546.8,343.4 L547.3,343.0 L547.7,342.9 L548.1,343.0 L548.5,343.4 L548.9,344.1 L549.3,345.1 L549.8,346.1 L550.2,347.2 L550.6,348.2 L551.0,349.1 L551.4,349.8 L551.8,350.3 L552.2,350.5 L552.7,350.5 L553.1,350.3 L553.5,350.1 L553.9,349.9 L554.3,349.8 L554.7,349.8 L555.2,349.9 L555.6,350.1 L556.0,350.5 L556.4,350.9 L556.8,351.3 L557.2,351.7 L557.6,351.9 L558.1,352.0 L558.5,351.9 L558.9,351.7 L559.3,351.3 L559.7,350.8 L560.1,350.3 L560.6,349.7 L561.0,349.1 L561.4,348.5 L561.8,347.9 L562.2,347.4 L562.6,347.0 L563.0,346.7 L563.5,346.5 L563.9,346.4 L564.3,346.5 L564.7,346.7 L565.1,347.1 L565.5,347.5 L566.0,348.0 L566.4,348.6 L566.8,349.1 L567.2,349.6 L567.6,350.1 L568.0,350.5 L568.4,350.7 L568.9,350.9 L569.3,350.9 L569.7,350.8 L570.1,350.6 L570.5,350.4 L570.9,350.1 L571.4,349.8 L571.8,349.5 L572.2,349.2 L572.6,348.8 L573.0,348.5 L573.4,348.2 L573.8,347.9 L574.3,347.7 L574.7,347.5 L575.1,347.4 L575.5,347.4 L575.9,347.4 L576.3,347.5 L576.8,347.7 L577.2,348.0 L577.6,348.3 L578.0,348.6 L578.4,349.0 L578.8,349.3 L579.2,349.6 L579.7,349.9 L580.1,350.2 L580.5,350.4 L580.9,350.5 L581.3,350.6 L581.7,350.4 L582.2,350.1 L582.6,349.7 L583.0,349.2 L583.4,348.6 L583.8,347.9 L584.2,347.3 L584.6,346.8 L585.1,346.2 L585.5,345.7 L585.9,345.3 L586.3,344.8 L586.7,344.3 L587.1,343.8 L587.6,343.3 L588.0,342.9 L588.4,342.5 L588.8,342.2 L589.2,341.9 L589.6,341.8 L590.0,341.8 L590.5,342.1 L590.9,342.7 L591.3,343.8 L591.7,345.1 L592.1,346.8 L592.5,348.6 L593.0,350.5 L593.4,352.5 L593.8,354.5 L594.2,356.4 L594.6,358.1 L595.0,359.6 L595.4,360.8 L595.9,361.6 L596.3,361.9 L596.7,361.8 L597.1,361.1 L597.5,360.0 L597.9,358.4 L598.4,356.5 L598.8,354.3 L599.2,351.9 L599.6,349.4 L600.0,346.9 L600.4,344.4 L600.8,342.0 L601.3,339.8 L601.7,337.9 L602.1,336.3 L602.5,335.1 L602.9,334.4 L603.3,334.1 L603.8,334.3 L604.2,334.7 L604.6,335.3 L605.0,336.1 L605.4,337.2 L605.8,338.3 L606.2,339.6 L606.7,341.1 L607.1,342.6 L607.5,344.2 L607.9,345.8 L608.3,347.4 L608.7,349.1 L609.2,350.7 L609.6,352.3 L610.0,353.9 L610.4,355.3 L610.8,356.6 L611.2,357.8 L611.6,358.9 L612.1,359.8 L612.5,360.4 L612.9,360.9 L613.3,361.1 L613.7,361.1 L614.1,360.8 L614.6,360.2 L615.0,359.4 L615.4,358.4 L615.8,357.3 L616.2,356.0 L616.6,354.5 L617.0,353.0 L617.5,351.5 L617.9,349.9 L618.3,348.3 L618.7,346.8 L619.1,345.3 L619.5,343.9 L620.0,342.6 L620.4,341.4 L620.8,340.5 L621.2,339.7 L621.6,339.2 L622.0,339.0 L622.4,339.2 L622.9,340.0 L623.3,341.3 L623.7,343.1 L624.1,345.2 L624.5,347.5 L624.9,349.9 L625.3,352.1 L625.8,354.1 L626.2,355.7 L626.6,356.7 L627.0,357.2 L627.4,357.0 L627.8,356.2 L628.3,354.9 L628.7,353.3 L629.1,351.5 L629.5,349.5 L629.9,347.6 L630.3,345.7 L630.7,344.1 L631.2,342.8 L631.6,341.9 L632.0,341.4 L632.4,341.4 L632.8,341.5 L633.2,341.8 L633.7,342.2 L634.1,342.7 L634.5,343.2 L634.9,343.8 L635.3,344.5 L635.7,345.2 L636.1,346.0 L636.6,346.8 L637.0,347.5 L637.4,348.3 L637.8,349.1 L638.2,349.9 L638.6,350.7 L639.1,351.7 L639.5,352.8 L639.9,353.9 L640.3,355.1 L640.7,356.2 L641.1,357.2 L641.5,358.1 L642.0,358.7 L642.4,359.0 L642.8,358.9 L643.2,358.3 L643.6,357.0 L644.0,355.3 L644.5,353.1 L644.9,350.6 L645.3,348.0 L645.7,345.3 L646.1,342.7 L646.5,340.3 L646.9,338.2 L647.4,336.6 L647.8,335.6 L648.2,335.3 L648.6,336.0 L649.0,337.6 L649.4,340.1 L649.9,343.2 L650.3,346.7 L650.7,350.4 L651.1,354.1 L651.5,357.4 L651.9,360.1 L652.3,362.0 L652.8,362.9 L653.2,362.6 L653.6,361.2 L654.0,358.8 L654.4,355.7 L654.8,352.1 L655.3,348.3 L655.7,344.5 L656.1,340.9 L656.5,337.9 L656.9,335.7 L657.3,334.5 L657.7,334.2 L658.2,335.0 L658.6,336.5 L659.0,338.7 L659.4,341.4 L659.8,344.4 L660.2,347.6 L660.7,350.8 L661.1,353.9 L661.5,356.7 L661.9,359.1 L662.3,360.9 L662.7,362.1 L663.1,362.7 L663.6,362.7 L664.0,362.3 L664.4,361.6 L664.8,360.7 L665.2,359.6 L665.6,358.3 L666.1,356.9 L666.5,355.4 L666.9,353.8 L667.3,352.2 L667.7,350.5 L668.1,348.8 L668.5,347.1 L669.0,345.4 L669.4,343.9 L669.8,342.4 L670.2,341.0 L670.6,339.8 L671.0,338.8 L671.5,338.0 L671.9,337.4 L672.3,337.1 L672.7,337.1 L673.1,337.5 L673.5,338.2 L673.9,339.3 L674.4,340.8 L674.8,342.4 L675.2,344.3 L675.6,346.3 L676.0,348.3 L676.4,350.4 L676.9,352.4 L677.3,354.3 L677.7,356.1 L678.1,357.6 L678.5,358.8 L678.9,359.7 L679.3,360.2 L679.8,360.3 L680.2,359.9 L680.6,359.3 L681.0,358.5 L681.4,357.5 L681.8,356.6 L682.3,355.6 L682.7,354.8 L683.1,354.2 L683.5,353.7"/>
<path d="M85.8,420.2 L86.2,420.2 L86.6,420.4 L87.0,420.5 L87.5,420.7 L87.9,420.9 L88.3,421.1 L88.7,421.4 L89.1,421.7 L89.5,422.0 L90.0,422.4 L90.4,422.8 L90.8,423.2 L91.2,423.7 L91.6,424.1 L92.0,424.6 L92.4,425.0 L92.9,425.5 L93.3,425.9 L93.7,426.3 L94.1,426.7 L94.5,427.1 L94.9,427.5 L95.4,427.8 L95.8,428.2 L96.2,428.5 L96.6,428.9 L97.0,429.2 L97.4,429.6 L97.8,429.9 L98.3,430.2 L98.7,430.6 L99.1,430.9 L99.5,431.3 L99.9,431.7 L100.3,432.0 L100.8,432.4 L101.2,432.9 L101.6,433.3 L102.0,433.8 L102.4,434.3 L102.8,434.8 L103.2,435.4 L103.7,436.0 L104.1,436.7 L104.5,437.3 L104.9,438.0 L105.3,438.6 L105.7,439.3 L106.2,440.0 L106.6,440.6 L107.0,441.3 L107.4,441.9 L107.8,442.5 L108.2,443.0 L108.6,443.5 L109.1,444.0 L109.5,444.4 L109.9,444.7 L110.3,445.0 L110.7,445.2 L111.1,445.4 L111.6,445.4 L112.0,445.4 L112.4,445.2 L112.8,445.0 L113.2,444.7 L113.6,444.2 L114.0,443.7 L114.5,443.1 L114.9,442.4 L115.3,441.6 L115.7,440.8 L116.1,440.0 L116.5,439.1 L117.0,438.1 L117.4,437.2 L117.8,436.2 L118.2,435.2 L118.6,434.2 L119.0,433.2 L119.4,432.2 L119.9,431.1 L120.3,430.0 L120.7,428.8 L121.1,427.5 L121.5,426.2 L121.9,424.7 L122.4,423.2 L122.8,421.6 L123.2,420.0 L123.6,418.4 L124.0,416.8 L124.4,415.2 L124.8,413.7 L125.3,412.2 L125.7,410.9 L126.1,409.7 L126.5,408.7 L126.9,407.8 L127.3,407.1 L127.8,406.6 L128.2,406.3 L128.6,406.2 L129.0,406.2 L129.4,406.3 L129.8,406.6 L130.2,406.9 L130.7,407.4 L131.1,407.9 L131.5,408.5 L131.9,409.1 L132.3,409.8 L132.7,410.5 L133.2,411.3 L133.6,412.1 L134.0,412.9 L134.4,413.7 L134.8,414.5 L135.2,415.4 L135.6,416.2 L136.1,417.0 L136.5,417.9 L136.9,418.7 L137.3,419.5 L137.7,420.3 L138.1,421.1 L138.6,422.0 L139.0,422.9 L139.4,423.8 L139.8,424.8 L140.2,425.8 L140.6,426.8 L141.0,427.8 L141.5,428.9 L141.9,429.9 L142.3,431.0 L142.7,432.0 L143.1,433.0 L143.5,433.9 L144.0,434.9 L144.4,435.7 L144.8,436.5 L145.2,437.3 L145.6,437.9 L146.0,438.5 L146.4,439.0 L146.9,439.4 L147.3,439.7 L147.7,439.9 L148.1,440.0 L148.5,440.1 L148.9,440.1 L149.3,440.1 L149.8,440.0 L150.2,439.9 L150.6,439.8 L151.0,439.7 L151.4,439.6 L151.8,439.4 L152.3,439.2 L152.7,439.0 L153.1,438.8 L153.5,438.6 L153.9,438.4 L154.3,438.2 L154.7,437.9 L155.2,437.7 L155.6,437.4 L156.0,437.1 L156.4,436.9 L156.8,436.6 L157.2,436.3 L157.7,436.0 L158.1,435.7 L158.5,435.4 L158.9,435.1 L159.3,434.8 L159.7,434.5 L160.1,434.1 L160.6,433.6 L161.0,433.2 L161.4,432.7 L161.8,432.1 L162.2,431.5 L162.6,430.9 L163.1,430.2 L163.5,429.5 L163.9,428.8 L164.3,428.1 L164.7,427.3 L165.1,426.6 L165.5,425.8 L166.0,425.1 L166.4,424.3 L166.8,423.5 L167.2,422.8 L167.6,422.1 L168.0,421.3 L168.5,420.7 L168.9,420.0 L169.3,419.4 L169.7,418.8 L170.1,418.2 L170.5,417.7 L170.9,417.3 L171.4,416.8 L171.8,416.5 L172.2,416.2 L172.6,416.0 L173.0,415.9 L173.4,415.8 L173.9,415.8 L174.3,415.9 L174.7,416.0 L175.1,416.2 L175.5,416.5 L175.9,416.9 L176.3,417.3 L176.8,417.8 L177.2,418.3 L177.6,418.8 L178.0,419.4 L178.4,419.9 L178.8,420.5 L179.3,421.1 L179.7,421.7 L180.1,422.3 L180.5,422.9 L180.9,423.4 L181.3,424.0 L181.7,424.4 L182.2,424.9 L182.6,425.3 L183.0,425.6 L183.4,425.9 L183.8,426.1 L184.2,426.2 L184.7,426.3 L185.1,426.3 L185.5,426.3 L185.9,426.2 L186.3,426.1 L186.7,426.0 L187.1,425.9 L187.6,425.7 L188.0,425.6 L188.4,425.4 L188.8,425.2 L189.2,425.1 L189.6,424.9 L190.1,424.8 L190.5,424.7 L190.9,424.5 L191.3,424.5 L191.7,424.4 L192.1,424.4 L192.5,424.4 L193.0,424.4 L193.4,424.5 L193.8,424.5 L194.2,424.6 L194.6,424.8 L195.0,424.9 L195.5,425.0 L195.9,425.1 L196.3,425.3 L196.7,425.4 L197.1,425.5 L197.5,425.6 L197.9,425.6 L198.4,425.7 L198.8,425.7 L199.2,425.7 L199.6,425.6 L200.0,425.5 L200.4,425.4 L200.9,425.2 L201.3,425.0 L201.7,424.8 L202.1,424.5 L202.5,424.3 L202.9,424.0 L203.3,423.7 L203.8,423.4 L204.2,423.1 L204.6,422.8 L205.0,422.6 L205.4,422.3 L205.8,422.1 L206.3,421.8 L206.7,421.6 L207.1,421.5 L207.5,421.3 L207.9,421.2 L208.3,421.1 L208.7,421.1 L209.2,421.1 L209.6,421.1 L210.0,421.1 L210.4,421.2 L210.8,421.3 L211.2,421.4 L211.7,421.5 L212.1,421.6 L212.5,421.7 L212.9,421.9 L213.3,422.0 L213.7,422.2 L214.1,422.4 L214.6,422.5 L215.0,422.7 L215.4,422.9 L215.8,423.2 L216.2,423.4 L216.6,423.6 L217.1,423.8 L217.5,424.1 L217.9,424.3 L218.3,424.6 L218.7,424.8 L219.1,425.1 L219.5,425.4 L220.0,425.7 L220.4,426.1 L220.8,426.5 L221.2,427.0 L221.6,427.5 L222.0,428.1 L222.5,428.7 L222.9,429.4 L223.3,430.1 L223.7,430.8 L224.1,431.6 L224.5,432.4 L224.9,433.1 L225.4,434.0 L225.8,434.8 L226.2,435.6 L226.6,436.4 L227.0,437.1 L227.4,437.9 L227.9,438.7 L228.3,439.4 L228.7,440.0 L229.1,440.7 L229.5,441.3 L229.9,441.8 L230.3,442.3 L230.8,442.7 L231.2,443.1 L231.6,443.3 L232.0,443.5 L232.4,443.6 L232.8,443.5 L233.3,443.4 L233.7,443.0 L234.1,442.6 L234.5,441.9 L234.9,441.1 L235.3,440.2 L235.7,439.2 L236.2,438.0 L236.6,436.7 L237.0,435.3 L237.4,433.9 L237.8,432.3 L238.2,430.8 L238.7,429.2 L239.1,427.5 L239.5,425.8 L239.9,424.2 L240.3,422.5 L240.7,420.9 L241.1,419.3 L241.6,417.7 L242.0,416.2 L242.4,414.8 L242.8,413.5 L243.2,412.2 L243.6,411.1 L244.1,410.1 L244.5,409.2 L244.9,408.5 L245.3,408.0 L245.7,407.6 L246.1,407.3 L246.5,407.2 L247.0,407.2 L247.4,407.4 L247.8,407.7 L248.2,408.0 L248.6,408.5 L249.0,409.0 L249.5,409.6 L249.9,410.3 L250.3,411.1 L250.7,411.9 L251.1,412.8 L251.5,413.7 L251.9,414.7 L252.4,415.7 L252.8,416.7 L253.2,417.8 L253.6,418.9 L254.0,420.0 L254.4,421.1 L254.9,422.2 L255.3,423.3 L255.7,424.5 L256.1,425.6 L256.5,426.7 L256.9,427.7 L257.3,428.8 L257.8,429.8 L258.2,430.8 L258.6,431.7 L259.0,432.6 L259.4,433.4 L259.8,434.2 L260.3,434.9 L260.7,435.6 L261.1,436.2 L261.5,436.7 L261.9,437.1 L262.3,437.4 L262.7,437.6 L263.2,437.7 L263.6,437.8 L264.0,437.8 L264.4,437.6 L264.8,437.5 L265.2,437.2 L265.6,436.9 L266.1,436.5 L266.5,436.1 L266.9,435.6 L267.3,435.1 L267.7,434.5 L268.1,433.9 L268.6,433.3 L269.0,432.7 L269.4,432.0 L269.8,431.4 L270.2,430.7 L270.6,430.0 L271.0,429.3 L271.5,428.6 L271.9,428.0 L272.3,427.3 L272.7,426.7 L273.1,426.1 L273.5,425.5 L274.0,424.9 L274.4,424.4 L274.8,424.0 L275.2,423.6 L275.6,423.2 L276.0,422.9 L276.4,422.6 L276.9,422.5 L277.3,422.3 L277.7,422.3 L278.1,422.3 L278.5,422.4 L278.9,422.5 L279.4,422.6 L279.8,422.8 L280.2,423.0 L280.6,423.3 L281.0,423.5 L281.4,423.8 L281.8,424.1 L282.3,424.4 L282.7,424.7 L283.1,425.0 L283.5,425.3 L283.9,425.5 L284.3,425.7 L284.8,425.9 L285.2,426.1 L285.6,426.2 L286.0,426.3 L286.4,426.3 L286.8,426.3 L287.2,426.3 L287.7,426.2 L288.1,426.1 L288.5,425.9 L288.9,425.8 L289.3,425.6 L289.7,425.4 L290.2,425.2 L290.6,425.0 L291.0,424.7 L291.4,424.5 L291.8,424.3 L292.2,424.1 L292.6,423.9 L293.1,423.8 L293.5,423.6 L293.9,423.5 L294.3,423.4 L294.7,423.3 L295.1,423.3 L295.6,423.3 L296.0,423.4 L296.4,423.5 L296.8,423.7 L297.2,423.9 L297.6,424.1 L298.0,424.3 L298.5,424.6 L298.9,424.9 L299.3,425.2 L299.7,425.5 L300.1,425.7 L300.5,426.0 L301.0,426.3 L301.4,426.6 L301.8,426.8 L302.2,427.0 L302.6,427.1 L303.0,427.3 L303.4,427.3 L303.9,427.4 L304.3,427.3 L304.7,427.2 L305.1,427.1 L305.5,426.9 L305.9,426.6 L306.4,426.3 L306.8,426.0 L307.2,425.6 L307.6,425.2 L308.0,424.9 L308.4,424.5 L308.8,424.1 L309.3,423.8 L309.7,423.5 L310.1,423.2 L310.5,423.0 L310.9,422.9 L311.3,422.8 L311.8,422.8 L312.2,422.9 L312.6,423.1 L313.0,423.4 L313.4,423.7 L313.8,424.1 L314.2,424.6 L314.7,425.1 L315.1,425.6 L315.5,426.2 L315.9,426.7 L316.3,427.2 L316.7,427.7 L317.2,428.2 L317.6,428.6 L318.0,428.9 L318.4,429.2 L318.8,429.4 L319.2,429.5 L319.6,429.5 L320.1,429.5 L320.5,429.3 L320.9,429.2 L321.3,428.9 L321.7,428.7 L322.1,428.3 L322.6,428.0 L323.0,427.6 L323.4,427.2 L323.8,426.7 L324.2,426.3 L324.6,425.8 L325.0,425.3 L325.5,424.7 L325.9,424.2 L326.3,423.7 L326.7,423.1 L327.1,422.6 L327.5,422.1 L328.0,421.6 L328.4,421.1 L328.8,420.6 L329.2,420.1 L329.6,419.7 L330.0,419.3 L330.4,418.9 L330.9,418.6 L331.3,418.3 L331.7,418.0 L332.1,417.8 L332.5,417.6 L332.9,417.5 L333.4,417.4 L333.8,417.3 L334.2,417.3 L334.6,417.3 L335.0,417.3 L335.4,417.3 L335.8,417.3 L336.3,417.4 L336.7,417.4 L337.1,417.4 L337.5,417.5 L337.9,417.5 L338.3,417.5 L338.8,417.6 L339.2,417.6 L339.6,417.7 L340.0,417.9 L340.4,418.0 L340.8,418.3 L341.2,418.6 L341.7,419.0 L342.1,419.5 L342.5,420.1 L342.9,420.8 L343.3,421.6 L343.7,422.4 L344.2,423.3 L344.6,424.2 L345.0,425.2 L345.4,426.2 L345.8,427.2 L346.2,428.3 L346.6,429.3 L347.1,430.4 L347.5,431.4 L347.9,432.4 L348.3,433.4 L348.7,434.4 L349.1,435.3 L349.6,436.2 L350.0,437.0 L350.4,437.7 L350.8,438.4 L351.2,439.0 L351.6,439.4 L352.0,439.8 L352.5,440.1 L352.9,440.2 L353.3,440.2 L353.7,440.1 L354.1,439.8 L354.5,439.4 L355.0,438.8 L355.4,438.1 L355.8,437.3 L356.2,436.4 L356.6,435.3 L357.0,434.2 L357.4,432.9 L357.9,431.7 L358.3,430.3 L358.7,428.9 L359.1,427.5 L359.5,426.1 L359.9,424.6 L360.4,423.2 L360.8,421.8 L361.2,420.4 L361.6,419.0 L362.0,417.7 L362.4,416.4 L362.8,415.3 L363.3,414.2 L363.7,413.2 L364.1,412.3 L364.5,411.5 L364.9,410.9 L365.3,410.4 L365.8,410.1 L366.2,409.9 L366.6,409.9 L367.0,410.1 L367.4,410.3 L367.8,410.8 L368.2,411.3 L368.7,412.0 L369.1,412.8 L369.5,413.7 L369.9,414.6 L370.3,415.7 L370.7,416.7 L371.2,417.9 L371.6,419.0 L372.0,420.2 L372.4,421.4 L372.8,422.6 L373.2,423.7 L373.6,424.9 L374.1,425.9 L374.5,427.0 L374.9,427.9 L375.3,428.8 L375.7,429.6 L376.1,430.3 L376.6,430.9 L377.0,431.3 L377.4,431.8 L377.8,432.1 L378.2,432.4 L378.6,432.7 L379.0,432.9 L379.5,433.1 L379.9,433.3 L380.3,433.5 L380.7,433.7 L381.1,433.9 L381.5,434.0 L382.0,434.2 L382.4,434.3 L382.8,434.4 L383.2,434.5 L383.6,434.6 L384.0,434.6 L384.4,434.6 L384.9,434.6 L385.3,434.5 L385.7,434.3 L386.1,434.0 L386.5,433.6 L386.9,433.1 L387.3,432.6 L387.8,431.9 L388.2,431.2 L388.6,430.5 L389.0,429.7 L389.4,428.9 L389.8,428.1 L390.3,427.2 L390.7,426.4 L391.1,425.6 L391.5,424.8 L391.9,424.1 L392.3,423.5 L392.7,422.9 L393.2,422.4 L393.6,422.0 L394.0,421.7 L394.4,421.5 L394.8,421.4 L395.2,421.4 L395.7,421.5 L396.1,421.8 L396.5,422.1 L396.9,422.5 L397.3,423.0 L397.7,423.5 L398.1,424.1 L398.6,424.7 L399.0,425.3 L399.4,425.9 L399.8,426.4 L400.2,427.0 L400.6,427.5 L401.1,427.9 L401.5,428.3 L401.9,428.6 L402.3,428.9 L402.7,429.0 L403.1,429.0 L403.5,429.0 L404.0,428.9 L404.4,428.7 L404.8,428.4 L405.2,428.1 L405.6,427.7 L406.0,427.3 L406.5,426.9 L406.9,426.5 L407.3,426.0 L407.7,425.5 L408.1,425.0 L408.5,424.5 L408.9,424.0 L409.4,423.6 L409.8,423.1 L410.2,422.7 L410.6,422.3 L411.0,422.0 L411.4,421.7 L411.9,421.5 L412.3,421.4 L412.7,421.3 L413.1,421.3 L413.5,421.3 L413.9,421.5 L414.3,421.7 L414.8,422.0 L415.2,422.4 L415.6,422.8 L416.0,423.3 L416.4,423.8 L416.8,424.3 L417.3,424.9 L417.7,425.4 L418.1,426.0 L418.5,426.5 L418.9,427.1 L419.3,427.6 L419.7,428.0 L420.2,428.4 L420.6,428.8 L421.0,429.1 L421.4,429.3 L421.8,429.4 L422.2,429.4 L422.7,429.4 L423.1,429.2 L423.5,429.0 L423.9,428.7 L424.3,428.3 L424.7,427.9 L425.1,427.4 L425.6,426.8 L426.0,426.3 L426.4,425.7 L426.8,425.1 L427.2,424.5 L427.6,423.9 L428.1,423.4 L428.5,422.9 L428.9,422.5 L429.3,422.1 L429.7,421.8 L430.1,421.5 L430.5,421.4 L431.0,421.3 L431.4,421.4 L431.8,421.5 L432.2,421.8 L432.6,422.1 L433.0,422.5 L433.5,423.0 L433.9,423.5 L434.3,424.1 L434.7,424.7 L435.1,425.3 L435.5,426.0 L435.9,426.6 L436.4,427.2 L436.8,427.8 L437.2,428.3 L437.6,428.8 L438.0,429.2 L438.4,429.6 L438.9,429.8 L439.3,430.0 L439.7,430.1 L440.1,430.1 L440.5,430.0 L440.9,429.8 L441.3,429.6 L441.8,429.3 L442.2,428.9 L442.6,428.5 L443.0,428.0 L443.4,427.5 L443.8,426.9 L444.3,426.3 L444.7,425.7 L445.1,425.1 L445.5,424.5 L445.9,423.8 L446.3,423.2 L446.7,422.6 L447.2,422.0 L447.6,421.4 L448.0,420.8 L448.4,420.3 L448.8,419.8 L449.2,419.3 L449.7,418.9 L450.1,418.6 L450.5,418.3 L450.9,418.1 L451.3,418.0 L451.7,417.9 L452.1,417.9 L452.6,417.9 L453.0,418.0 L453.4,418.1 L453.8,418.3 L454.2,418.5 L454.6,418.8 L455.1,419.0 L455.5,419.3 L455.9,419.6 L456.3,420.0 L456.7,420.3 L457.1,420.7 L457.5,421.1 L458.0,421.5 L458.4,421.9 L458.8,422.4 L459.2,422.8 L459.6,423.2 L460.0,423.7 L460.5,424.1 L460.9,424.6 L461.3,425.0 L461.7,425.5 L462.1,426.1 L462.5,426.6 L462.9,427.2 L463.4,427.8 L463.8,428.5 L464.2,429.3 L464.6,430.0 L465.0,430.8 L465.4,431.6 L465.9,432.4 L466.3,433.3 L466.7,434.1 L467.1,434.9 L467.5,435.7 L467.9,436.5 L468.3,437.2 L468.8,437.9 L469.2,438.6 L469.6,439.2 L470.0,439.8 L470.4,440.2 L470.8,440.7 L471.3,441.0 L471.7,441.2 L472.1,441.4 L472.5,441.4 L472.9,441.2 L473.3,441.0 L473.7,440.6 L474.2,440.0 L474.6,439.3 L475.0,438.4 L475.4,437.4 L475.8,436.3 L476.2,435.1 L476.7,433.8 L477.1,432.4 L477.5,430.9 L477.9,429.4 L478.3,427.9 L478.7,426.3 L479.1,424.6 L479.6,423.0 L480.0,421.4 L480.4,419.8 L480.8,418.3 L481.2,416.7 L481.6,415.3 L482.1,413.9 L482.5,412.5 L482.9,411.3 L483.3,410.2 L483.7,409.2 L484.1,408.3 L484.5,407.6 L485.0,407.0 L485.4,406.5 L485.8,406.3 L486.2,406.1 L486.6,406.1 L487.0,406.3 L487.5,406.5 L487.9,406.9 L488.3,407.3 L488.7,407.9 L489.1,408.5 L489.5,409.2 L489.9,410.0 L490.4,410.8 L490.8,411.7 L491.2,412.7 L491.6,413.7 L492.0,414.8 L492.4,415.9 L492.9,417.0 L493.3,418.2 L493.7,419.4 L494.1,420.6 L494.5,421.8 L494.9,423.1 L495.3,424.3 L495.8,425.6 L496.2,426.8 L496.6,428.0 L497.0,429.2 L497.4,430.4 L497.8,431.6 L498.3,432.7 L498.7,433.8 L499.1,434.8 L499.5,435.8 L499.9,436.8 L500.3,437.7 L500.7,438.5 L501.2,439.2 L501.6,439.9 L502.0,440.5 L502.4,441.0 L502.8,441.4 L503.2,441.7 L503.7,442.0 L504.1,442.1 L504.5,442.1 L504.9,442.0 L505.3,441.9 L505.7,441.6 L506.1,441.2 L506.6,440.8 L507.0,440.2 L507.4,439.6 L507.8,439.0 L508.2,438.3 L508.6,437.5 L509.0,436.7 L509.5,435.9 L509.9,435.0 L510.3,434.1 L510.7,433.2 L511.1,432.3 L511.5,431.4 L512.0,430.5 L512.4,429.6 L512.8,428.8 L513.2,428.0 L513.6,427.2 L514.0,426.4 L514.4,425.8 L514.9,425.1 L515.3,424.6 L515.7,424.0 L516.1,423.6 L516.5,423.2 L516.9,422.8 L517.4,422.5 L517.8,422.1 L518.2,421.8 L518.6,421.5 L519.0,421.2 L519.4,420.9 L519.8,420.6 L520.3,420.3 L520.7,420.1 L521.1,419.8 L521.5,419.5 L521.9,419.3 L522.3,419.1 L522.8,418.9 L523.2,418.7 L523.6,418.5 L524.0,418.3 L524.4,418.2 L524.8,418.1 L525.2,418.0 L525.7,417.9 L526.1,417.9 L526.5,417.9 L526.9,417.9 L527.3,418.0 L527.7,418.1 L528.2,418.4 L528.6,418.7 L529.0,419.0 L529.4,419.4 L529.8,419.9 L530.2,420.4 L530.6,420.9 L531.1,421.4 L531.5,422.0 L531.9,422.6 L532.3,423.1 L532.7,423.6 L533.1,424.1 L533.6,424.6 L534.0,425.0 L534.4,425.4 L534.8,425.8 L535.2,426.1 L535.6,426.4 L536.0,426.6 L536.5,426.9 L536.9,427.0 L537.3,427.2 L537.7,427.3 L538.1,427.4 L538.5,427.4 L539.0,427.4 L539.4,427.3 L539.8,427.2 L540.2,427.0 L540.6,426.8 L541.0,426.6 L541.4,426.4 L541.9,426.2 L542.3,425.9 L542.7,425.7 L543.1,425.4 L543.5,425.2 L543.9,425.0 L544.4,424.7 L544.8,424.5 L545.2,424.4 L545.6,424.2 L546.0,424.1 L546.4,424.0 L546.8,424.0 L547.3,424.0 L547.7,424.0 L548.1,424.0 L548.5,424.1 L548.9,424.2 L549.3,424.3 L549.8,424.5 L550.2,424.6 L550.6,424.8 L551.0,425.0 L551.4,425.2 L551.8,425.3 L552.2,425.5 L552.7,425.7 L553.1,425.8 L553.5,426.0 L553.9,426.1 L554.3,426.2 L554.7,426.3 L555.2,426.3 L555.6,426.4 L556.0,426.4 L556.4,426.3 L556.8,426.2 L557.2,426.1 L557.6,426.0 L558.1,425.9 L558.5,425.7 L558.9,425.5 L559.3,425.3 L559.7,425.1 L560.1,424.8 L560.6,424.6 L561.0,424.4 L561.4,424.2 L561.8,424.0 L562.2,423.8 L562.6,423.7 L563.0,423.5 L563.5,423.4 L563.9,423.3 L564.3,423.3 L564.7,423.3 L565.1,423.3 L565.5,423.3 L566.0,423.3 L566.4,423.4 L566.8,423.4 L567.2,423.5 L567.6,423.6 L568.0,423.6 L568.4,423.7 L568.9,423.7 L569.3,423.7 L569.7,423.8 L570.1,423.7 L570.5,423.7 L570.9,423.6 L571.4,423.5 L571.8,423.4 L572.2,423.2 L572.6,423.0 L573.0,422.8 L573.4,422.6 L573.8,422.4 L574.3,422.2 L574.7,422.0 L575.1,421.8 L575.5,421.6 L575.9,421.5 L576.3,421.3 L576.8,421.2 L577.2,421.2 L577.6,421.2 L578.0,421.2 L578.4,421.3 L578.8,421.5 L579.2,421.7 L579.7,422.0 L580.1,422.3 L580.5,422.7 L580.9,423.1 L581.3,423.6 L581.7,424.1 L582.2,424.7 L582.6,425.3 L583.0,425.9 L583.4,426.5 L583.8,427.2 L584.2,427.9 L584.6,428.5 L585.1,429.2 L585.5,429.9 L585.9,430.6 L586.3,431.3 L586.7,432.0 L587.1,432.7 L587.6,433.3 L588.0,434.0 L588.4,434.6 L588.8,435.1 L589.2,435.7 L589.6,436.2 L590.0,436.6 L590.5,437.0 L590.9,437.4 L591.3,437.7 L591.7,437.9 L592.1,438.1 L592.5,438.2 L593.0,438.2 L593.4,438.1 L593.8,437.9 L594.2,437.7 L594.6,437.3 L595.0,436.8 L595.4,436.2 L595.9,435.5 L596.3,434.7 L596.7,433.9 L597.1,433.0 L597.5,432.0 L597.9,430.9 L598.4,429.9 L598.8,428.7 L599.2,427.6 L599.6,426.4 L600.0,425.2 L600.4,424.0 L600.8,422.7 L601.3,421.5 L601.7,420.3 L602.1,419.1 L602.5,417.9 L602.9,416.8 L603.3,415.7 L603.8,414.7 L604.2,413.7 L604.6,412.7 L605.0,411.9 L605.4,411.1 L605.8,410.4 L606.2,409.7 L606.7,409.2 L607.1,408.8 L607.5,408.5 L607.9,408.3 L608.3,408.2 L608.7,408.2 L609.2,408.3 L609.6,408.5 L610.0,408.8 L610.4,409.2 L610.8,409.7 L611.2,410.2 L611.6,410.8 L612.1,411.5 L612.5,412.2 L612.9,413.0 L613.3,413.9 L613.7,414.7 L614.1,415.7 L614.6,416.6 L615.0,417.6 L615.4,418.6 L615.8,419.7 L616.2,420.7 L616.6,421.8 L617.0,422.9 L617.5,424.0 L617.9,425.1 L618.3,426.2 L618.7,427.2 L619.1,428.3 L619.5,429.3 L620.0,430.3 L620.4,431.3 L620.8,432.3 L621.2,433.2 L621.6,434.1 L622.0,434.9 L622.4,435.7 L622.9,436.4 L623.3,437.1 L623.7,437.7 L624.1,438.2 L624.5,438.7 L624.9,439.1 L625.3,439.4 L625.8,439.6 L626.2,439.7 L626.6,439.8 L627.0,439.7 L627.4,439.6 L627.8,439.4 L628.3,439.1 L628.7,438.7 L629.1,438.3 L629.5,437.8 L629.9,437.3 L630.3,436.7 L630.7,436.0 L631.2,435.3 L631.6,434.6 L632.0,433.8 L632.4,433.0 L632.8,432.1 L633.2,431.3 L633.7,430.4 L634.1,429.5 L634.5,428.6 L634.9,427.7 L635.3,426.8 L635.7,425.9 L636.1,425.0 L636.6,424.1 L637.0,423.2 L637.4,422.4 L637.8,421.6 L638.2,420.8 L638.6,420.0 L639.1,419.3 L639.5,418.7 L639.9,418.0 L640.3,417.5 L640.7,417.0 L641.1,416.5 L641.5,416.1 L642.0,415.8 L642.4,415.6 L642.8,415.4 L643.2,415.4 L643.6,415.4 L644.0,415.6 L644.5,415.8 L644.9,416.1 L645.3,416.6 L645.7,417.1 L646.1,417.6 L646.5,418.3 L646.9,419.0 L647.4,419.8 L647.8,420.6 L648.2,421.4 L648.6,422.3 L649.0,423.1 L649.4,424.0 L649.9,424.9 L650.3,425.8 L650.7,426.6 L651.1,427.4 L651.5,428.1 L651.9,428.8 L652.3,429.5 L652.8,430.1 L653.2,430.6 L653.6,431.0 L654.0,431.3 L654.4,431.5 L654.8,431.6 L655.3,431.7 L655.7,431.7 L656.1,431.6 L656.5,431.4 L656.9,431.2 L657.3,431.0 L657.7,430.7 L658.2,430.3 L658.6,430.0 L659.0,429.6 L659.4,429.1 L659.8,428.7 L660.2,428.2 L660.7,427.8 L661.1,427.3 L661.5,426.8 L661.9,426.3 L662.3,425.8 L662.7,425.3 L663.1,424.8 L663.6,424.3 L664.0,423.8 L664.4,423.4 L664.8,422.9 L665.2,422.5 L665.6,422.1 L666.1,421.8 L666.5,421.5 L666.9,421.2 L667.3,421.0 L667.7,420.8 L668.1,420.6 L668.5,420.5 L669.0,420.5 L669.4,420.5 L669.8,420.6 L670.2,420.7 L670.6,420.9 L671.0,421.1 L671.5,421.4 L671.9,421.7 L672.3,422.0 L672.7,422.3 L673.1,422.7 L673.5,423.1 L673.9,423.5 L674.4,424.0 L674.8,424.4 L675.2,424.9 L675.6,425.3 L676.0,425.8 L676.4,426.2 L676.9,426.6 L677.3,427.0 L677.7,427.4 L678.1,427.8 L678.5,428.2 L678.9,428.5 L679.3,428.8 L679.8,429.0 L680.2,429.2 L680.6,429.4 L681.0,429.5 L681.4,429.6 L681.8,429.7 L682.3,429.7 L682.7,429.7 L683.1,429.7 L683.5,429.7"/>
<path d="M85.8,521.0 L86.2,521.0 L86.6,521.0 L87.0,520.9 L87.5,520.9 L87.9,520.9 L88.3,520.9 L88.7,520.9 L89.1,520.9 L89.5,520.8 L90.0,520.8 L90.4,520.8 L90.8,520.8 L91.2,520.7 L91.6,520.7 L92.0,520.7 L92.4,520.6 L92.9,520.6 L93.3,520.6 L93.7,520.5 L94.1,520.5 L94.5,520.5 L94.9,520.4 L95.4,520.4 L95.8,520.3 L96.2,520.3 L96.6,520.2 L97.0,520.2 L97.4,520.1 L97.8,520.1 L98.3,520.0 L98.7,519.9 L99.1,519.8 L99.5,519.8 L99.9,519.7 L100.3,519.6 L100.8,519.5 L101.2,519.4 L101.6,519.3 L102.0,519.2 L102.4,519.1 L102.8,518.9 L103.2,518.8 L103.7,518.7 L104.1,518.6 L104.5,518.5 L104.9,518.3 L105.3,518.2 L105.7,518.1 L106.2,517.9 L106.6,517.8 L107.0,517.7 L107.4,517.5 L107.8,517.4 L108.2,517.2 L108.6,517.1 L109.1,516.9 L109.5,516.7 L109.9,516.5 L110.3,516.3 L110.7,516.2 L111.1,516.0 L111.6,515.8 L112.0,515.6 L112.4,515.3 L112.8,515.1 L113.2,514.9 L113.6,514.7 L114.0,514.5 L114.5,514.2 L114.9,514.0 L115.3,513.7 L115.7,513.5 L116.1,513.3 L116.5,513.0 L117.0,512.8 L117.4,512.5 L117.8,512.2 L118.2,512.0 L118.6,511.7 L119.0,511.4 L119.4,511.1 L119.9,510.8 L120.3,510.4 L120.7,510.1 L121.1,509.8 L121.5,509.4 L121.9,509.1 L122.4,508.7 L122.8,508.3 L123.2,508.0 L123.6,507.6 L124.0,507.2 L124.4,506.9 L124.8,506.5 L125.3,506.2 L125.7,505.8 L126.1,505.5 L126.5,505.1 L126.9,504.8 L127.3,504.5 L127.8,504.2 L128.2,503.9 L128.6,503.6 L129.0,503.4 L129.4,503.1 L129.8,502.9 L130.2,502.6 L130.7,502.4 L131.1,502.1 L131.5,501.9 L131.9,501.7 L132.3,501.4 L132.7,501.2 L133.2,501.0 L133.6,500.8 L134.0,500.6 L134.4,500.3 L134.8,500.1 L135.2,499.9 L135.6,499.7 L136.1,499.6 L136.5,499.4 L136.9,499.2 L137.3,499.0 L137.7,498.8 L138.1,498.6 L138.6,498.5 L139.0,498.3 L139.4,498.1 L139.8,498.0 L140.2,497.8 L140.6,497.7 L141.0,497.6 L141.5,497.4 L141.9,497.3 L142.3,497.2 L142.7,497.0 L143.1,496.9 L143.5,496.8 L144.0,496.7 L144.4,496.6 L144.8,496.4 L145.2,496.3 L145.6,496.2 L146.0,496.1 L146.4,496.0 L146.9,495.9 L147.3,495.8 L147.7,495.6 L148.1,495.5 L148.5,495.4 L148.9,495.3 L149.3,495.1 L149.8,495.0 L150.2,494.9 L150.6,494.7 L151.0,494.6 L151.4,494.4 L151.8,494.2 L152.3,494.1 L152.7,493.9 L153.1,493.7 L153.5,493.5 L153.9,493.3 L154.3,493.1 L154.7,493.0 L155.2,492.8 L155.6,492.6 L156.0,492.4 L156.4,492.2 L156.8,492.0 L157.2,491.8 L157.7,491.6 L158.1,491.4 L158.5,491.2 L158.9,491.0 L159.3,490.8 L159.7,490.6 L160.1,490.5 L160.6,490.3 L161.0,490.1 L161.4,490.0 L161.8,489.8 L162.2,489.7 L162.6,489.5 L163.1,489.4 L163.5,489.2 L163.9,489.1 L164.3,488.9 L164.7,488.8 L165.1,488.6 L165.5,488.5 L166.0,488.4 L166.4,488.2 L166.8,488.1 L167.2,488.0 L167.6,487.9 L168.0,487.8 L168.5,487.7 L168.9,487.6 L169.3,487.6 L169.7,487.6 L170.1,487.5 L170.5,487.5 L170.9,487.5 L171.4,487.6 L171.8,487.6 L172.2,487.7 L172.6,487.7 L173.0,487.8 L173.4,487.9 L173.9,488.0 L174.3,488.1 L174.7,488.3 L175.1,488.4 L175.5,488.6 L175.9,488.7 L176.3,488.9 L176.8,489.1 L177.2,489.2 L177.6,489.4 L178.0,489.6 L178.4,489.8 L178.8,490.0 L179.3,490.2 L179.7,490.4 L180.1,490.7 L180.5,490.9 L180.9,491.1 L181.3,491.3 L181.7,491.6 L182.2,491.8 L182.6,492.0 L183.0,492.2 L183.4,492.5 L183.8,492.7 L184.2,493.0 L184.7,493.3 L185.1,493.6 L185.5,493.9 L185.9,494.2 L186.3,494.6 L186.7,494.9 L187.1,495.3 L187.6,495.7 L188.0,496.1 L188.4,496.5 L188.8,496.9 L189.2,497.3 L189.6,497.7 L190.1,498.1 L190.5,498.5 L190.9,498.9 L191.3,499.3 L191.7,499.6 L192.1,500.0 L192.5,500.3 L193.0,500.7 L193.4,501.0 L193.8,501.2 L194.2,501.5 L194.6,501.7 L195.0,502.0 L195.5,502.2 L195.9,502.4 L196.3,502.6 L196.7,502.8 L197.1,503.0 L197.5,503.2 L197.9,503.3 L198.4,503.5 L198.8,503.7 L199.2,503.8 L199.6,504.0 L200.0,504.1 L200.4,504.3 L200.9,504.4 L201.3,504.6 L201.7,504.7 L202.1,504.9 L202.5,505.0 L202.9,505.2 L203.3,505.3 L203.8,505.5 L204.2,505.6 L204.6,505.8 L205.0,505.9 L205.4,506.1 L205.8,506.3 L206.3,506.4 L206.7,506.6 L207.1,506.7 L207.5,506.9 L207.9,507.1 L208.3,507.2 L208.7,507.4 L209.2,507.6 L209.6,507.7 L210.0,507.9 L210.4,508.1 L210.8,508.2 L211.2,508.4 L211.7,508.6 L212.1,508.7 L212.5,508.9 L212.9,509.0 L213.3,509.1 L213.7,509.3 L214.1,509.4 L214.6,509.5 L215.0,509.7 L215.4,509.8 L215.8,509.9 L216.2,510.0 L216.6,510.1 L217.1,510.2 L217.5,510.3 L217.9,510.4 L218.3,510.5 L218.7,510.6 L219.1,510.6 L219.5,510.7 L220.0,510.8 L220.4,510.9 L220.8,510.9 L221.2,511.0 L221.6,511.0 L222.0,511.1 L222.5,511.1 L222.9,511.1 L223.3,511.1 L223.7,511.0 L224.1,511.0 L224.5,510.9 L224.9,510.8 L225.4,510.7 L225.8,510.6 L226.2,510.4 L226.6,510.3 L227.0,510.1 L227.4,509.9 L227.9,509.7 L228.3,509.5 L228.7,509.3 L229.1,509.1 L229.5,508.8 L229.9,508.6 L230.3,508.4 L230.8,508.1 L231.2,507.9 L231.6,507.6 L232.0,507.4 L232.4,507.1 L232.8,506.9 L233.3,506.6 L233.7,506.4 L234.1,506.2 L234.5,505.9 L234.9,505.7 L235.3,505.5 L235.7,505.2 L236.2,505.0 L236.6,504.7 L237.0,504.5 L237.4,504.2 L237.8,503.9 L238.2,503.6 L238.7,503.3 L239.1,503.0 L239.5,502.7 L239.9,502.4 L240.3,502.1 L240.7,501.8 L241.1,501.5 L241.6,501.1 L242.0,500.8 L242.4,500.5 L242.8,500.2 L243.2,499.9 L243.6,499.6 L244.1,499.4 L244.5,499.1 L244.9,498.8 L245.3,498.6 L245.7,498.4 L246.1,498.1 L246.5,497.9 L247.0,497.7 L247.4,497.6 L247.8,497.4 L248.2,497.3 L248.6,497.2 L249.0,497.1 L249.5,497.0 L249.9,497.0 L250.3,497.0 L250.7,497.0 L251.1,497.0 L251.5,497.0 L251.9,497.0 L252.4,497.1 L252.8,497.2 L253.2,497.2 L253.6,497.3 L254.0,497.4 L254.4,497.5 L254.9,497.6 L255.3,497.8 L255.7,497.9 L256.1,498.0 L256.5,498.2 L256.9,498.3 L257.3,498.5 L257.8,498.7 L258.2,498.8 L258.6,499.0 L259.0,499.2 L259.4,499.4 L259.8,499.5 L260.3,499.7 L260.7,499.9 L261.1,500.1 L261.5,500.3 L261.9,500.5 L262.3,500.7 L262.7,500.9 L263.2,501.1 L263.6,501.3 L264.0,501.5 L264.4,501.7 L264.8,501.9 L265.2,502.1 L265.6,502.2 L266.1,502.4 L266.5,502.6 L266.9,502.8 L267.3,502.9 L267.7,503.1 L268.1,503.3 L268.6,503.4 L269.0,503.5 L269.4,503.7 L269.8,503.8 L270.2,503.9 L270.6,504.0 L271.0,504.1 L271.5,504.2 L271.9,504.3 L272.3,504.4 L272.7,504.4 L273.1,504.5 L273.5,504.5 L274.0,504.5 L274.4,504.5 L274.8,504.5 L275.2,504.5 L275.6,504.5 L276.0,504.4 L276.4,504.4 L276.9,504.3 L277.3,504.2 L277.7,504.1 L278.1,504.1 L278.5,504.0 L278.9,503.9 L279.4,503.7 L279.8,503.6 L280.2,503.5 L280.6,503.4 L281.0,503.3 L281.4,503.1 L281.8,503.0 L282.3,502.9 L282.7,502.7 L283.1,502.6 L283.5,502.5 L283.9,502.3 L284.3,502.2 L284.8,502.1 L285.2,502.0 L285.6,501.9 L286.0,501.8 L286.4,501.7 L286.8,501.6 L287.2,501.5 L287.7,501.5 L288.1,501.4 L288.5,501.4 L288.9,501.3 L289.3,501.3 L289.7,501.3 L290.2,501.3 L290.6,501.3 L291.0,501.4 L291.4,501.4 L291.8,501.4 L292.2,501.5 L292.6,501.5 L293.1,501.6 L293.5,501.7 L293.9,501.7 L294.3,501.8 L294.7,501.9 L295.1,502.0 L295.6,502.1 L296.0,502.2 L296.4,502.3 L296.8,502.4 L297.2,502.5 L297.6,502.5 L298.0,502.6 L298.5,502.7 L298.9,502.8 L299.3,502.9 L299.7,503.0 L300.1,503.1 L300.5,503.1 L301.0,503.2 L301.4,503.3 L301.8,503.3 L302.2,503.3 L302.6,503.4 L303.0,503.4 L303.4,503.4 L303.9,503.4 L304.3,503.4 L304.7,503.4 L305.1,503.4 L305.5,503.4 L305.9,503.3 L306.4,503.3 L306.8,503.2 L307.2,503.2 L307.6,503.1 L308.0,503.0 L308.4,502.9 L308.8,502.9 L309.3,502.8 L309.7,502.7 L310.1,502.6 L310.5,502.5 L310.9,502.4 L311.3,502.3 L311.8,502.2 L312.2,502.1 L312.6,502.0 L313.0,502.0 L313.4,501.9 L313.8,501.8 L314.2,501.7 L314.7,501.6 L315.1,501.6 L315.5,501.5 L315.9,501.5 L316.3,501.4 L316.7,501.4 L317.2,501.3 L317.6,501.3 L318.0,501.3 L318.4,501.3 L318.8,501.3 L319.2,501.3 L319.6,501.3 L320.1,501.4 L320.5,501.4 L320.9,501.4 L321.3,501.5 L321.7,501.5 L322.1,501.6 L322.6,501.7 L323.0,501.7 L323.4,501.8 L323.8,501.9 L324.2,502.0 L324.6,502.0 L325.0,502.1 L325.5,502.2 L325.9,502.3 L326.3,502.4 L326.7,502.5 L327.1,502.6 L327.5,502.7 L328.0,502.8 L328.4,503.0 L328.8,503.1 L329.2,503.2 L329.6,503.3 L330.0,503.4 L330.4,503.5 L330.9,503.7 L331.3,503.8 L331.7,503.9 L332.1,504.0 L332.5,504.1 L332.9,504.2 L333.4,504.4 L333.8,504.5 L334.2,504.6 L334.6,504.7 L335.0,504.8 L335.4,504.9 L335.8,505.0 L336.3,505.1 L336.7,505.2 L337.1,505.3 L337.5,505.4 L337.9,505.5 L338.3,505.6 L338.8,505.7 L339.2,505.8 L339.6,505.8 L340.0,505.9 L340.4,506.0 L340.8,506.0 L341.2,506.1 L341.7,506.1 L342.1,506.2 L342.5,506.2 L342.9,506.2 L343.3,506.3 L343.7,506.3 L344.2,506.3 L344.6,506.3 L345.0,506.3 L345.4,506.2 L345.8,506.2 L346.2,506.1 L346.6,506.0 L347.1,505.9 L347.5,505.8 L347.9,505.7 L348.3,505.5 L348.7,505.4 L349.1,505.2 L349.6,505.0 L350.0,504.8 L350.4,504.6 L350.8,504.4 L351.2,504.2 L351.6,504.0 L352.0,503.7 L352.5,503.5 L352.9,503.3 L353.3,503.0 L353.7,502.7 L354.1,502.5 L354.5,502.2 L355.0,501.9 L355.4,501.7 L355.8,501.4 L356.2,501.1 L356.6,500.9 L357.0,500.6 L357.4,500.3 L357.9,500.1 L358.3,499.8 L358.7,499.5 L359.1,499.3 L359.5,499.0 L359.9,498.8 L360.4,498.6 L360.8,498.3 L361.2,498.1 L361.6,497.9 L362.0,497.7 L362.4,497.5 L362.8,497.3 L363.3,497.2 L363.7,497.0 L364.1,496.9 L364.5,496.7 L364.9,496.6 L365.3,496.5 L365.8,496.5 L366.2,496.4 L366.6,496.3 L367.0,496.3 L367.4,496.3 L367.8,496.3 L368.2,496.4 L368.7,496.4 L369.1,496.5 L369.5,496.6 L369.9,496.7 L370.3,496.9 L370.7,497.1 L371.2,497.3 L371.6,497.5 L372.0,497.7 L372.4,497.9 L372.8,498.2 L373.2,498.5 L373.6,498.8 L374.1,499.0 L374.5,499.4 L374.9,499.7 L375.3,500.0 L375.7,500.3 L376.1,500.7 L376.6,501.0 L377.0,501.3 L377.4,501.7 L377.8,502.0 L378.2,502.4 L378.6,502.7 L379.0,503.1 L379.5,503.4 L379.9,503.8 L380.3,504.1 L380.7,504.4 L381.1,504.7 L381.5,505.0 L382.0,505.3 L382.4,505.6 L382.8,505.9 L383.2,506.2 L383.6,506.4 L384.0,506.7 L384.4,506.9 L384.9,507.1 L385.3,507.3 L385.7,507.5 L386.1,507.7 L386.5,507.9 L386.9,508.1 L387.3,508.3 L387.8,508.5 L388.2,508.7 L388.6,508.9 L389.0,509.1 L389.4,509.3 L389.8,509.4 L390.3,509.5 L390.7,509.7 L391.1,509.8 L391.5,509.9 L391.9,509.9 L392.3,509.9 L392.7,509.9 L393.2,509.9 L393.6,509.8 L394.0,509.7 L394.4,509.6 L394.8,509.5 L395.2,509.3 L395.7,509.1 L396.1,508.8 L396.5,508.5 L396.9,508.3 L397.3,507.9 L397.7,507.6 L398.1,507.2 L398.6,506.9 L399.0,506.5 L399.4,506.1 L399.8,505.7 L400.2,505.2 L400.6,504.8 L401.1,504.4 L401.5,503.9 L401.9,503.4 L402.3,503.0 L402.7,502.5 L403.1,502.1 L403.5,501.6 L404.0,501.1 L404.4,500.7 L404.8,500.2 L405.2,499.8 L405.6,499.3 L406.0,498.9 L406.5,498.5 L406.9,498.1 L407.3,497.7 L407.7,497.4 L408.1,497.0 L408.5,496.7 L408.9,496.4 L409.4,496.1 L409.8,495.8 L410.2,495.6 L410.6,495.4 L411.0,495.2 L411.4,495.1 L411.9,495.0 L412.3,494.9 L412.7,494.8 L413.1,494.8 L413.5,494.8 L413.9,494.8 L414.3,494.9 L414.8,494.9 L415.2,495.0 L415.6,495.1 L416.0,495.3 L416.4,495.4 L416.8,495.5 L417.3,495.7 L417.7,495.9 L418.1,496.0 L418.5,496.2 L418.9,496.4 L419.3,496.6 L419.7,496.8 L420.2,497.0 L420.6,497.2 L421.0,497.4 L421.4,497.6 L421.8,497.8 L422.2,497.9 L422.7,498.1 L423.1,498.3 L423.5,498.4 L423.9,498.6 L424.3,498.7 L424.7,498.8 L425.1,499.0 L425.6,499.1 L426.0,499.2 L426.4,499.3 L426.8,499.3 L427.2,499.4 L427.6,499.5 L428.1,499.6 L428.5,499.6 L428.9,499.7 L429.3,499.7 L429.7,499.8 L430.1,499.9 L430.5,499.9 L431.0,500.0 L431.4,500.0 L431.8,500.1 L432.2,500.1 L432.6,500.2 L433.0,500.3 L433.5,500.3 L433.9,500.4 L434.3,500.5 L434.7,500.5 L435.1,500.6 L435.5,500.7 L435.9,500.8 L436.4,500.8 L436.8,500.9 L437.2,501.0 L437.6,501.1 L438.0,501.2 L438.4,501.4 L438.9,501.5 L439.3,501.6 L439.7,501.8 L440.1,501.9 L440.5,502.0 L440.9,502.2 L441.3,502.4 L441.8,502.5 L442.2,502.7 L442.6,502.9 L443.0,503.0 L443.4,503.2 L443.8,503.4 L444.3,503.6 L444.7,503.8 L445.1,504.0 L445.5,504.1 L445.9,504.3 L446.3,504.5 L446.7,504.7 L447.2,504.9 L447.6,505.1 L448.0,505.3 L448.4,505.5 L448.8,505.7 L449.2,505.8 L449.7,506.0 L450.1,506.2 L450.5,506.4 L450.9,506.6 L451.3,506.7 L451.7,506.9 L452.1,507.1 L452.6,507.2 L453.0,507.4 L453.4,507.5 L453.8,507.7 L454.2,507.8 L454.6,507.9 L455.1,508.0 L455.5,508.2 L455.9,508.3 L456.3,508.4 L456.7,508.5 L457.1,508.6 L457.5,508.6 L458.0,508.7 L458.4,508.8 L458.8,508.8 L459.2,508.9 L459.6,508.9 L460.0,508.9 L460.5,508.9 L460.9,508.9 L461.3,508.9 L461.7,508.8 L462.1,508.8 L462.5,508.7 L462.9,508.7 L463.4,508.6 L463.8,508.5 L464.2,508.4 L464.6,508.3 L465.0,508.2 L465.4,508.0 L465.9,507.9 L466.3,507.7 L466.7,507.6 L467.1,507.4 L467.5,507.2 L467.9,507.0 L468.3,506.8 L468.8,506.6 L469.2,506.4 L469.6,506.2 L470.0,506.0 L470.4,505.8 L470.8,505.6 L471.3,505.3 L471.7,505.1 L472.1,504.9 L472.5,504.6 L472.9,504.4 L473.3,504.1 L473.7,503.9 L474.2,503.6 L474.6,503.4 L475.0,503.1 L475.4,502.9 L475.8,502.6 L476.2,502.4 L476.7,502.1 L477.1,501.9 L477.5,501.6 L477.9,501.4 L478.3,501.1 L478.7,500.9 L479.1,500.7 L479.6,500.4 L480.0,500.2 L480.4,500.0 L480.8,499.7 L481.2,499.5 L481.6,499.3 L482.1,499.1 L482.5,498.9 L482.9,498.7 L483.3,498.5 L483.7,498.4 L484.1,498.2 L484.5,498.0 L485.0,497.9 L485.4,497.8 L485.8,497.6 L486.2,497.5 L486.6,497.4 L487.0,497.3 L487.5,497.2 L487.9,497.1 L488.3,497.1 L488.7,497.0 L489.1,497.0 L489.5,497.0 L489.9,496.9 L490.4,496.9 L490.8,496.9 L491.2,496.9 L491.6,497.0 L492.0,497.0 L492.4,497.0 L492.9,497.1 L493.3,497.1 L493.7,497.2 L494.1,497.3 L494.5,497.3 L494.9,497.4 L495.3,497.5 L495.8,497.6 L496.2,497.7 L496.6,497.7 L497.0,497.8 L497.4,497.9 L497.8,498.0 L498.3,498.2 L498.7,498.3 L499.1,498.4 L499.5,498.5 L499.9,498.6 L500.3,498.7 L500.7,498.9 L501.2,499.0 L501.6,499.1 L502.0,499.2 L502.4,499.4 L502.8,499.5 L503.2,499.6 L503.7,499.8 L504.1,499.9 L504.5,500.0 L504.9,500.1 L505.3,500.3 L505.7,500.4 L506.1,500.5 L506.6,500.6 L507.0,500.8 L507.4,500.9 L507.8,501.0 L508.2,501.1 L508.6,501.2 L509.0,501.3 L509.5,501.4 L509.9,501.5 L510.3,501.6 L510.7,501.7 L511.1,501.8 L511.5,501.9 L512.0,501.9 L512.4,502.0 L512.8,502.1 L513.2,502.1 L513.6,502.2 L514.0,502.2 L514.4,502.3 L514.9,502.3 L515.3,502.3 L515.7,502.3 L516.1,502.3 L516.5,502.4 L516.9,502.3 L517.4,502.3 L517.8,502.3 L518.2,502.3 L518.6,502.3 L519.0,502.2 L519.4,502.2 L519.8,502.2 L520.3,502.1 L520.7,502.1 L521.1,502.0 L521.5,502.0 L521.9,501.9 L522.3,501.8 L522.8,501.8 L523.2,501.7 L523.6,501.6 L524.0,501.6 L524.4,501.5 L524.8,501.4 L525.2,501.4 L525.7,501.3 L526.1,501.2 L526.5,501.1 L526.9,501.1 L527.3,501.0 L527.7,500.9 L528.2,500.9 L528.6,500.8 L529.0,500.7 L529.4,500.7 L529.8,500.6 L530.2,500.5 L530.6,500.5 L531.1,500.4 L531.5,500.4 L531.9,500.4 L532.3,500.3 L532.7,500.3 L533.1,500.3 L533.6,500.2 L534.0,500.2 L534.4,500.2 L534.8,500.2 L535.2,500.2 L535.6,500.2 L536.0,500.2 L536.5,500.3 L536.9,500.3 L537.3,500.3 L537.7,500.4 L538.1,500.4 L538.5,500.5 L539.0,500.5 L539.4,500.6 L539.8,500.7 L540.2,500.8 L540.6,500.8 L541.0,500.9 L541.4,501.0 L541.9,501.1 L542.3,501.2 L542.7,501.3 L543.1,501.4 L543.5,501.5 L543.9,501.6 L544.4,501.7 L544.8,501.8 L545.2,501.9 L545.6,502.0 L546.0,502.1 L546.4,502.2 L546.8,502.3 L547.3,502.4 L547.7,502.5 L548.1,502.6 L548.5,502.7 L548.9,502.8 L549.3,502.9 L549.8,502.9 L550.2,503.0 L550.6,503.1 L551.0,503.1 L551.4,503.2 L551.8,503.3 L552.2,503.3 L552.7,503.3 L553.1,503.4 L553.5,503.4 L553.9,503.4 L554.3,503.4 L554.7,503.4 L555.2,503.5 L555.6,503.4 L556.0,503.4 L556.4,503.4 L556.8,503.4 L557.2,503.4 L557.6,503.4 L558.1,503.4 L558.5,503.3 L558.9,503.3 L559.3,503.3 L559.7,503.3 L560.1,503.2 L560.6,503.2 L561.0,503.2 L561.4,503.1 L561.8,503.1 L562.2,503.1 L562.6,503.0 L563.0,503.0 L563.5,503.0 L563.9,503.0 L564.3,502.9 L564.7,502.9 L565.1,502.9 L565.5,502.9 L566.0,502.9 L566.4,502.8 L566.8,502.8 L567.2,502.8 L567.6,502.8 L568.0,502.8 L568.4,502.8 L568.9,502.9 L569.3,502.9 L569.7,502.9 L570.1,503.0 L570.5,503.0 L570.9,503.1 L571.4,503.2 L571.8,503.2 L572.2,503.3 L572.6,503.4 L573.0,503.5 L573.4,503.6 L573.8,503.7 L574.3,503.8 L574.7,503.9 L575.1,504.0 L575.5,504.1 L575.9,504.3 L576.3,504.4 L576.8,504.5 L577.2,504.6 L577.6,504.7 L578.0,504.8 L578.4,504.9 L578.8,505.1 L579.2,505.2 L579.7,505.3 L580.1,505.4 L580.5,505.5 L580.9,505.5 L581.3,505.6 L581.7,505.7 L582.2,505.8 L582.6,505.8 L583.0,505.9 L583.4,506.0 L583.8,506.0 L584.2,506.0 L584.6,506.0 L585.1,506.1 L585.5,506.1 L585.9,506.0 L586.3,506.0 L586.7,506.0 L587.1,505.9 L587.6,505.9 L588.0,505.8 L588.4,505.7 L588.8,505.6 L589.2,505.5 L589.6,505.4 L590.0,505.3 L590.5,505.1 L590.9,505.0 L591.3,504.8 L591.7,504.7 L592.1,504.5 L592.5,504.3 L593.0,504.2 L593.4,504.0 L593.8,503.8 L594.2,503.6 L594.6,503.4 L595.0,503.2 L595.4,503.0 L595.9,502.8 L596.3,502.6 L596.7,502.4 L597.1,502.2 L597.5,501.9 L597.9,501.7 L598.4,501.5 L598.8,501.3 L599.2,501.1 L599.6,500.9 L600.0,500.7 L600.4,500.5 L600.8,500.2 L601.3,500.0 L601.7,499.8 L602.1,499.7 L602.5,499.5 L602.9,499.3 L603.3,499.1 L603.8,498.9 L604.2,498.8 L604.6,498.6 L605.0,498.4 L605.4,498.3 L605.8,498.2 L606.2,498.0 L606.7,497.9 L607.1,497.8 L607.5,497.7 L607.9,497.6 L608.3,497.6 L608.7,497.5 L609.2,497.5 L609.6,497.4 L610.0,497.4 L610.4,497.4 L610.8,497.4 L611.2,497.4 L611.6,497.4 L612.1,497.4 L612.5,497.5 L612.9,497.5 L613.3,497.6 L613.7,497.7 L614.1,497.8 L614.6,497.8 L615.0,497.9 L615.4,498.0 L615.8,498.2 L616.2,498.3 L616.6,498.4 L617.0,498.5 L617.5,498.7 L617.9,498.8 L618.3,499.0 L618.7,499.1 L619.1,499.3 L619.5,499.5 L620.0,499.6 L620.4,499.8 L620.8,500.0 L621.2,500.1 L621.6,500.3 L622.0,500.5 L622.4,500.7 L622.9,500.9 L623.3,501.1 L623.7,501.2 L624.1,501.4 L624.5,501.6 L624.9,501.8 L625.3,502.0 L625.8,502.2 L626.2,502.4 L626.6,502.6 L627.0,502.7 L627.4,502.9 L627.8,503.1 L628.3,503.3 L628.7,503.4 L629.1,503.6 L629.5,503.8 L629.9,503.9 L630.3,504.1 L630.7,504.2 L631.2,504.4 L631.6,504.5 L632.0,504.6 L632.4,504.8 L632.8,504.9 L633.2,505.0 L633.7,505.1 L634.1,505.2 L634.5,505.3 L634.9,505.3 L635.3,505.4 L635.7,505.5 L636.1,505.5 L636.6,505.6 L637.0,505.6 L637.4,505.6 L637.8,505.6 L638.2,505.6 L638.6,505.6 L639.1,505.6 L639.5,505.5 L639.9,505.5 L640.3,505.5 L640.7,505.4 L641.1,505.3 L641.5,505.2 L642.0,505.1 L642.4,505.1 L642.8,505.0 L643.2,504.8 L643.6,504.7 L644.0,504.6 L644.5,504.5 L644.9,504.3 L645.3,504.2 L645.7,504.1 L646.1,503.9 L646.5,503.8 L646.9,503.6 L647.4,503.5 L647.8,503.3 L648.2,503.2 L648.6,503.0 L649.0,502.9 L649.4,502.7 L649.9,502.5 L650.3,502.4 L650.7,502.2 L651.1,502.1 L651.5,501.9 L651.9,501.8 L652.3,501.6 L652.8,501.5 L653.2,501.3 L653.6,501.2 L654.0,501.0 L654.4,500.9 L654.8,500.8 L655.3,500.7 L655.7,500.5 L656.1,500.4 L656.5,500.3 L656.9,500.2 L657.3,500.2 L657.7,500.1 L658.2,500.0 L658.6,499.9 L659.0,499.9 L659.4,499.8 L659.8,499.8 L660.2,499.8 L660.7,499.8 L661.1,499.8 L661.5,499.8 L661.9,499.8 L662.3,499.8 L662.7,499.8 L663.1,499.9 L663.6,499.9 L664.0,500.0 L664.4,500.0 L664.8,500.1 L665.2,500.2 L665.6,500.3 L666.1,500.3 L666.5,500.4 L666.9,500.5 L667.3,500.6 L667.7,500.7 L668.1,500.8 L668.5,500.9 L669.0,501.0 L669.4,501.1 L669.8,501.2 L670.2,501.4 L670.6,501.5 L671.0,501.6 L671.5,501.7 L671.9,501.8 L672.3,501.9 L672.7,502.1 L673.1,502.2 L673.5,502.3 L673.9,502.4 L674.4,502.5 L674.8,502.6 L675.2,502.7 L675.6,502.8 L676.0,502.9 L676.4,503.0 L676.9,503.1 L677.3,503.2 L677.7,503.3 L678.1,503.4 L678.5,503.5 L678.9,503.5 L679.3,503.6 L679.8,503.7 L680.2,503.7 L680.6,503.8 L681.0,503.8 L681.4,503.8 L681.8,503.9 L682.3,503.9 L682.7,503.9 L683.1,503.9 L683.5,503.9"/>
<path d="M85.8,571.1 L86.2,571.1 L86.6,571.1 L87.0,571.1 L87.5,571.1 L87.9,571.1 L88.3,571.1 L88.7,571.1 L89.1,571.1 L89.5,571.1 L90.0,571.1 L90.4,571.1 L90.8,571.1 L91.2,571.1 L91.6,571.1 L92.0,571.1 L92.4,571.2 L92.9,571.2 L93.3,571.2 L93.7,571.2 L94.1,571.2 L94.5,571.2 L94.9,571.2 L95.4,571.2 L95.8,571.2 L96.2,571.3 L96.6,571.3 L97.0,571.3 L97.4,571.3 L97.8,571.3 L98.3,571.3 L98.7,571.4 L99.1,571.4 L99.5,571.4 L99.9,571.4 L100.3,571.4 L100.8,571.4 L101.2,571.5 L101.6,571.5 L102.0,571.5 L102.4,571.5 L102.8,571.5 L103.2,571.5 L103.7,571.6 L104.1,571.6 L104.5,571.6 L104.9,571.6 L105.3,571.6 L105.7,571.7 L106.2,571.7 L106.6,571.7 L107.0,571.7 L107.4,571.7 L107.8,571.8 L108.2,571.8 L108.6,571.8 L109.1,571.8 L109.5,571.9 L109.9,571.9 L110.3,571.9 L110.7,571.9 L111.1,572.0 L111.6,572.0 L112.0,572.0 L112.4,572.1 L112.8,572.1 L113.2,572.1 L113.6,572.2 L114.0,572.2 L114.5,572.2 L114.9,572.3 L115.3,572.3 L115.7,572.3 L116.1,572.4 L116.5,572.4 L117.0,572.5 L117.4,572.5 L117.8,572.6 L118.2,572.6 L118.6,572.6 L119.0,572.7 L119.4,572.7 L119.9,572.8 L120.3,572.8 L120.7,572.9 L121.1,572.9 L121.5,573.0 L121.9,573.0 L122.4,573.1 L122.8,573.1 L123.2,573.2 L123.6,573.2 L124.0,573.3 L124.4,573.3 L124.8,573.4 L125.3,573.4 L125.7,573.5 L126.1,573.5 L126.5,573.6 L126.9,573.7 L127.3,573.7 L127.8,573.8 L128.2,573.8 L128.6,573.9 L129.0,573.9 L129.4,574.0 L129.8,574.0 L130.2,574.1 L130.7,574.2 L131.1,574.2 L131.5,574.3 L131.9,574.4 L132.3,574.4 L132.7,574.5 L133.2,574.6 L133.6,574.6 L134.0,574.7 L134.4,574.8 L134.8,574.9 L135.2,574.9 L135.6,575.0 L136.1,575.1 L136.5,575.2 L136.9,575.2 L137.3,575.3 L137.7,575.4 L138.1,575.5 L138.6,575.6 L139.0,575.7 L139.4,575.7 L139.8,575.8 L140.2,575.9 L140.6,576.0 L141.0,576.1 L141.5,576.2 L141.9,576.3 L142.3,576.4 L142.7,576.4 L143.1,576.5 L143.5,576.6 L144.0,576.7 L144.4,576.8 L144.8,576.9 L145.2,577.0 L145.6,577.1 L146.0,577.2 L146.4,577.3 L146.9,577.4 L147.3,577.5 L147.7,577.6 L148.1,577.7 L148.5,577.8 L148.9,577.9 L149.3,578.0 L149.8,578.1 L150.2,578.2 L150.6,578.3 L151.0,578.4 L151.4,578.5 L151.8,578.6 L152.3,578.7 L152.7,578.8 L153.1,578.9 L153.5,579.0 L153.9,579.1 L154.3,579.2 L154.7,579.3 L155.2,579.4 L155.6,579.5 L156.0,579.6 L156.4,579.7 L156.8,579.8 L157.2,580.0 L157.7,580.1 L158.1,580.2 L158.5,580.3 L158.9,580.4 L159.3,580.5 L159.7,580.7 L160.1,580.8 L160.6,580.9 L161.0,581.0 L161.4,581.1 L161.8,581.3 L162.2,581.4 L162.6,581.5 L163.1,581.6 L163.5,581.7 L163.9,581.9 L164.3,582.0 L164.7,582.1 L165.1,582.2 L165.5,582.3 L166.0,582.5 L166.4,582.6 L166.8,582.7 L167.2,582.8 L167.6,583.0 L168.0,583.1 L168.5,583.2 L168.9,583.3 L169.3,583.5 L169.7,583.6 L170.1,583.7 L170.5,583.8 L170.9,583.9 L171.4,584.1 L171.8,584.2 L172.2,584.3 L172.6,584.4 L173.0,584.5 L173.4,584.7 L173.9,584.8 L174.3,584.9 L174.7,585.0 L175.1,585.1 L175.5,585.3 L175.9,585.4 L176.3,585.5 L176.8,585.7 L177.2,585.8 L177.6,585.9 L178.0,586.0 L178.4,586.2 L178.8,586.3 L179.3,586.4 L179.7,586.6 L180.1,586.7 L180.5,586.8 L180.9,586.9 L181.3,587.1 L181.7,587.2 L182.2,587.3 L182.6,587.5 L183.0,587.6 L183.4,587.7 L183.8,587.9 L184.2,588.0 L184.7,588.1 L185.1,588.2 L185.5,588.4 L185.9,588.5 L186.3,588.6 L186.7,588.7 L187.1,588.9 L187.6,589.0 L188.0,589.1 L188.4,589.2 L188.8,589.3 L189.2,589.4 L189.6,589.6 L190.1,589.7 L190.5,589.8 L190.9,589.9 L191.3,590.0 L191.7,590.1 L192.1,590.2 L192.5,590.3 L193.0,590.4 L193.4,590.5 L193.8,590.6 L194.2,590.7 L194.6,590.8 L195.0,590.9 L195.5,591.0 L195.9,591.1 L196.3,591.2 L196.7,591.3 L197.1,591.4 L197.5,591.5 L197.9,591.6 L198.4,591.7 L198.8,591.8 L199.2,591.9 L199.6,592.0 L200.0,592.1 L200.4,592.2 L200.9,592.3 L201.3,592.3 L201.7,592.4 L202.1,592.5 L202.5,592.6 L202.9,592.6 L203.3,592.7 L203.8,592.8 L204.2,592.8 L204.6,592.8 L205.0,592.9 L205.4,592.9 L205.8,592.9 L206.3,592.9 L206.7,592.9 L207.1,592.9 L207.5,592.9 L207.9,592.9 L208.3,592.9 L208.7,592.8 L209.2,592.8 L209.6,592.7 L210.0,592.7 L210.4,592.6 L210.8,592.6 L211.2,592.5 L211.7,592.4 L212.1,592.3 L212.5,592.2 L212.9,592.1 L213.3,592.0 L213.7,591.9 L214.1,591.8 L214.6,591.7 L215.0,591.6 L215.4,591.5 L215.8,591.3 L216.2,591.2 L216.6,591.1 L217.1,590.9 L217.5,590.8 L217.9,590.6 L218.3,590.5 L218.7,590.3 L219.1,590.2 L219.5,590.0 L220.0,589.9 L220.4,589.7 L220.8,589.6 L221.2,589.4 L221.6,589.3 L222.0,589.1 L222.5,588.9 L222.9,588.8 L223.3,588.6 L223.7,588.4 L224.1,588.3 L224.5,588.1 L224.9,588.0 L225.4,587.8 L225.8,587.6 L226.2,587.5 L226.6,587.3 L227.0,587.2 L227.4,587.0 L227.9,586.8 L228.3,586.7 L228.7,586.5 L229.1,586.3 L229.5,586.1 L229.9,585.9 L230.3,585.7 L230.8,585.5 L231.2,585.3 L231.6,585.1 L232.0,584.9 L232.4,584.6 L232.8,584.4 L233.3,584.2 L233.7,584.0 L234.1,583.8 L234.5,583.6 L234.9,583.4 L235.3,583.1 L235.7,582.9 L236.2,582.7 L236.6,582.5 L237.0,582.3 L237.4,582.0 L237.8,581.8 L238.2,581.6 L238.7,581.3 L239.1,581.1 L239.5,580.8 L239.9,580.6 L240.3,580.3 L240.7,580.1 L241.1,579.8 L241.6,579.5 L242.0,579.3 L242.4,579.0 L242.8,578.7 L243.2,578.4 L243.6,578.2 L244.1,577.9 L244.5,577.6 L244.9,577.3 L245.3,577.0 L245.7,576.8 L246.1,576.5 L246.5,576.2 L247.0,575.9 L247.4,575.6 L247.8,575.3 L248.2,575.0 L248.6,574.7 L249.0,574.4 L249.5,574.1 L249.9,573.9 L250.3,573.6 L250.7,573.3 L251.1,573.0 L251.5,572.7 L251.9,572.4 L252.4,572.1 L252.8,571.8 L253.2,571.5 L253.6,571.2 L254.0,570.9 L254.4,570.6 L254.9,570.4 L255.3,570.1 L255.7,569.8 L256.1,569.5 L256.5,569.2 L256.9,568.9 L257.3,568.7 L257.8,568.4 L258.2,568.1 L258.6,567.8 L259.0,567.6 L259.4,567.3 L259.8,567.1 L260.3,566.8 L260.7,566.5 L261.1,566.3 L261.5,566.0 L261.9,565.8 L262.3,565.5 L262.7,565.3 L263.2,565.1 L263.6,564.8 L264.0,564.6 L264.4,564.4 L264.8,564.2 L265.2,564.0 L265.6,563.7 L266.1,563.5 L266.5,563.3 L266.9,563.1 L267.3,562.9 L267.7,562.8 L268.1,562.6 L268.6,562.4 L269.0,562.2 L269.4,562.1 L269.8,561.9 L270.2,561.8 L270.6,561.6 L271.0,561.5 L271.5,561.3 L271.9,561.2 L272.3,561.1 L272.7,561.0 L273.1,560.9 L273.5,560.8 L274.0,560.7 L274.4,560.6 L274.8,560.5 L275.2,560.4 L275.6,560.4 L276.0,560.3 L276.4,560.2 L276.9,560.2 L277.3,560.2 L277.7,560.1 L278.1,560.1 L278.5,560.1 L278.9,560.1 L279.4,560.1 L279.8,560.2 L280.2,560.2 L280.6,560.2 L281.0,560.3 L281.4,560.4 L281.8,560.4 L282.3,560.5 L282.7,560.6 L283.1,560.8 L283.5,560.9 L283.9,561.0 L284.3,561.2 L284.8,561.3 L285.2,561.5 L285.6,561.7 L286.0,561.9 L286.4,562.0 L286.8,562.3 L287.2,562.5 L287.7,562.7 L288.1,562.9 L288.5,563.2 L288.9,563.4 L289.3,563.7 L289.7,563.9 L290.2,564.2 L290.6,564.5 L291.0,564.8 L291.4,565.1 L291.8,565.4 L292.2,565.7 L292.6,566.0 L293.1,566.3 L293.5,566.6 L293.9,567.0 L294.3,567.3 L294.7,567.7 L295.1,568.0 L295.6,568.4 L296.0,568.7 L296.4,569.1 L296.8,569.5 L297.2,569.9 L297.6,570.3 L298.0,570.6 L298.5,571.0 L298.9,571.4 L299.3,571.8 L299.7,572.2 L300.1,572.6 L300.5,573.0 L301.0,573.5 L301.4,573.9 L301.8,574.3 L302.2,574.7 L302.6,575.1 L303.0,575.6 L303.4,576.0 L303.9,576.4 L304.3,576.9 L304.7,577.3 L305.1,577.7 L305.5,578.2 L305.9,578.6 L306.4,579.0 L306.8,579.5 L307.2,579.9 L307.6,580.4 L308.0,580.8 L308.4,581.2 L308.8,581.7 L309.3,582.1 L309.7,582.5 L310.1,583.0 L310.5,583.4 L310.9,583.9 L311.3,584.3 L311.8,584.7 L312.2,585.2 L312.6,585.6 L313.0,586.0 L313.4,586.4 L313.8,586.9 L314.2,587.3 L314.7,587.7 L315.1,588.1 L315.5,588.5 L315.9,588.9 L316.3,589.3 L316.7,589.7 L317.2,590.1 L317.6,590.5 L318.0,590.9 L318.4,591.3 L318.8,591.7 L319.2,592.0 L319.6,592.4 L320.1,592.8 L320.5,593.1 L320.9,593.5 L321.3,593.8 L321.7,594.2 L322.1,594.5 L322.6,594.8 L323.0,595.2 L323.4,595.5 L323.8,595.8 L324.2,596.1 L324.6,596.4 L325.0,596.7 L325.5,596.9 L325.9,597.2 L326.3,597.5 L326.7,597.7 L327.1,598.0 L327.5,598.2 L328.0,598.5 L328.4,598.7 L328.8,598.9 L329.2,599.1 L329.6,599.3 L330.0,599.5 L330.4,599.7 L330.9,599.8 L331.3,600.0 L331.7,600.1 L332.1,600.3 L332.5,600.4 L332.9,600.5 L333.4,600.6 L333.8,600.7 L334.2,600.8 L334.6,600.9 L335.0,600.9 L335.4,601.0 L335.8,601.0 L336.3,601.0 L336.7,601.0 L337.1,601.0 L337.5,601.0 L337.9,601.0 L338.3,600.9 L338.8,600.9 L339.2,600.8 L339.6,600.7 L340.0,600.6 L340.4,600.5 L340.8,600.3 L341.2,600.2 L341.7,600.0 L342.1,599.9 L342.5,599.7 L342.9,599.5 L343.3,599.3 L343.7,599.1 L344.2,598.8 L344.6,598.6 L345.0,598.3 L345.4,598.1 L345.8,597.8 L346.2,597.5 L346.6,597.2 L347.1,596.9 L347.5,596.6 L347.9,596.2 L348.3,595.9 L348.7,595.6 L349.1,595.2 L349.6,594.8 L350.0,594.5 L350.4,594.1 L350.8,593.7 L351.2,593.3 L351.6,592.9 L352.0,592.5 L352.5,592.1 L352.9,591.7 L353.3,591.2 L353.7,590.8 L354.1,590.4 L354.5,589.9 L355.0,589.5 L355.4,589.0 L355.8,588.6 L356.2,588.1 L356.6,587.6 L357.0,587.2 L357.4,586.7 L357.9,586.2 L358.3,585.7 L358.7,585.2 L359.1,584.7 L359.5,584.3 L359.9,583.8 L360.4,583.3 L360.8,582.8 L361.2,582.3 L361.6,581.8 L362.0,581.3 L362.4,580.7 L362.8,580.2 L363.3,579.7 L363.7,579.2 L364.1,578.7 L364.5,578.2 L364.9,577.7 L365.3,577.2 L365.8,576.7 L366.2,576.2 L366.6,575.7 L367.0,575.2 L367.4,574.7 L367.8,574.2 L368.2,573.7 L368.7,573.2 L369.1,572.7 L369.5,572.3 L369.9,571.8 L370.3,571.3 L370.7,570.8 L371.2,570.4 L371.6,569.9 L372.0,569.4 L372.4,569.0 L372.8,568.5 L373.2,568.1 L373.6,567.7 L374.1,567.2 L374.5,566.8 L374.9,566.4 L375.3,566.0 L375.7,565.6 L376.1,565.2 L376.6,564.8 L377.0,564.4 L377.4,564.0 L377.8,563.6 L378.2,563.3 L378.6,562.9 L379.0,562.6 L379.5,562.2 L379.9,561.9 L380.3,561.6 L380.7,561.3 L381.1,561.0 L381.5,560.7 L382.0,560.4 L382.4,560.2 L382.8,559.9 L383.2,559.7 L383.6,559.4 L384.0,559.2 L384.4,559.0 L384.9,558.8 L385.3,558.6 L385.7,558.5 L386.1,558.3 L386.5,558.2 L386.9,558.0 L387.3,557.9 L387.8,557.8 L388.2,557.7 L388.6,557.6 L389.0,557.6 L389.4,557.5 L389.8,557.5 L390.3,557.5 L390.7,557.5 L391.1,557.5 L391.5,557.5 L391.9,557.5 L392.3,557.6 L392.7,557.6 L393.2,557.7 L393.6,557.8 L394.0,557.9 L394.4,557.9 L394.8,558.0 L395.2,558.1 L395.7,558.3 L396.1,558.4 L396.5,558.5 L396.9,558.7 L397.3,558.8 L397.7,559.0 L398.1,559.1 L398.6,559.3 L399.0,559.5 L399.4,559.7 L399.8,559.9 L400.2,560.1 L400.6,560.3 L401.1,560.5 L401.5,560.8 L401.9,561.0 L402.3,561.2 L402.7,561.5 L403.1,561.7 L403.5,562.0 L404.0,562.3 L404.4,562.5 L404.8,562.8 L405.2,563.1 L405.6,563.4 L406.0,563.7 L406.5,564.0 L406.9,564.3 L407.3,564.6 L407.7,564.9 L408.1,565.2 L408.5,565.6 L408.9,565.9 L409.4,566.2 L409.8,566.6 L410.2,566.9 L410.6,567.3 L411.0,567.6 L411.4,568.0 L411.9,568.3 L412.3,568.7 L412.7,569.1 L413.1,569.4 L413.5,569.8 L413.9,570.2 L414.3,570.6 L414.8,570.9 L415.2,571.3 L415.6,571.7 L416.0,572.1 L416.4,572.5 L416.8,572.9 L417.3,573.3 L417.7,573.7 L418.1,574.1 L418.5,574.5 L418.9,574.9 L419.3,575.3 L419.7,575.7 L420.2,576.1 L420.6,576.5 L421.0,576.9 L421.4,577.3 L421.8,577.7 L422.2,578.1 L422.7,578.5 L423.1,578.9 L423.5,579.3 L423.9,579.7 L424.3,580.1 L424.7,580.5 L425.1,580.9 L425.6,581.3 L426.0,581.7 L426.4,582.1 L426.8,582.5 L427.2,582.9 L427.6,583.3 L428.1,583.7 L428.5,584.0 L428.9,584.4 L429.3,584.8 L429.7,585.2 L430.1,585.6 L430.5,586.0 L431.0,586.3 L431.4,586.7 L431.8,587.1 L432.2,587.4 L432.6,587.8 L433.0,588.2 L433.5,588.5 L433.9,588.9 L434.3,589.2 L434.7,589.6 L435.1,589.9 L435.5,590.2 L435.9,590.6 L436.4,590.9 L436.8,591.2 L437.2,591.5 L437.6,591.8 L438.0,592.1 L438.4,592.4 L438.9,592.7 L439.3,593.0 L439.7,593.3 L440.1,593.6 L440.5,593.9 L440.9,594.1 L441.3,594.4 L441.8,594.7 L442.2,594.9 L442.6,595.1 L443.0,595.4 L443.4,595.6 L443.8,595.8 L444.3,596.0 L444.7,596.2 L445.1,596.4 L445.5,596.6 L445.9,596.8 L446.3,597.0 L446.7,597.2 L447.2,597.3 L447.6,597.5 L448.0,597.6 L448.4,597.7 L448.8,597.9 L449.2,598.0 L449.7,598.1 L450.1,598.2 L450.5,598.3 L450.9,598.4 L451.3,598.4 L451.7,598.5 L452.1,598.5 L452.6,598.6 L453.0,598.6 L453.4,598.6 L453.8,598.6 L454.2,598.6 L454.6,598.6 L455.1,598.6 L455.5,598.6 L455.9,598.5 L456.3,598.5 L456.7,598.4 L457.1,598.3 L457.5,598.3 L458.0,598.2 L458.4,598.1 L458.8,598.0 L459.2,597.9 L459.6,597.7 L460.0,597.6 L460.5,597.5 L460.9,597.3 L461.3,597.2 L461.7,597.0 L462.1,596.8 L462.5,596.6 L462.9,596.5 L463.4,596.3 L463.8,596.1 L464.2,595.9 L464.6,595.6 L465.0,595.4 L465.4,595.2 L465.9,595.0 L466.3,594.7 L466.7,594.5 L467.1,594.2 L467.5,593.9 L467.9,593.7 L468.3,593.4 L468.8,593.1 L469.2,592.9 L469.6,592.6 L470.0,592.3 L470.4,592.0 L470.8,591.7 L471.3,591.4 L471.7,591.1 L472.1,590.7 L472.5,590.4 L472.9,590.1 L473.3,589.8 L473.7,589.4 L474.2,589.1 L474.6,588.8 L475.0,588.4 L475.4,588.1 L475.8,587.7 L476.2,587.4 L476.7,587.0 L477.1,586.6 L477.5,586.3 L477.9,585.9 L478.3,585.6 L478.7,585.2 L479.1,584.8 L479.6,584.4 L480.0,584.1 L480.4,583.7 L480.8,583.3 L481.2,582.9 L481.6,582.6 L482.1,582.2 L482.5,581.8 L482.9,581.4 L483.3,581.0 L483.7,580.6 L484.1,580.3 L484.5,579.9 L485.0,579.5 L485.4,579.1 L485.8,578.7 L486.2,578.3 L486.6,577.9 L487.0,577.6 L487.5,577.2 L487.9,576.8 L488.3,576.4 L488.7,576.0 L489.1,575.7 L489.5,575.3 L489.9,574.9 L490.4,574.5 L490.8,574.2 L491.2,573.8 L491.6,573.4 L492.0,573.1 L492.4,572.7 L492.9,572.3 L493.3,572.0 L493.7,571.6 L494.1,571.3 L494.5,570.9 L494.9,570.6 L495.3,570.2 L495.8,569.9 L496.2,569.5 L496.6,569.2 L497.0,568.9 L497.4,568.6 L497.8,568.2 L498.3,567.9 L498.7,567.6 L499.1,567.3 L499.5,567.0 L499.9,566.7 L500.3,566.4 L500.7,566.1 L501.2,565.8 L501.6,565.6 L502.0,565.3 L502.4,565.0 L502.8,564.8 L503.2,564.5 L503.7,564.3 L504.1,564.0 L504.5,563.8 L504.9,563.6 L505.3,563.3 L505.7,563.1 L506.1,562.9 L506.6,562.7 L507.0,562.5 L507.4,562.3 L507.8,562.1 L508.2,562.0 L508.6,561.8 L509.0,561.6 L509.5,561.5 L509.9,561.4 L510.3,561.2 L510.7,561.1 L511.1,561.0 L511.5,560.9 L512.0,560.8 L512.4,560.7 L512.8,560.6 L513.2,560.6 L513.6,560.5 L514.0,560.4 L514.4,560.4 L514.9,560.4 L515.3,560.3 L515.7,560.3 L516.1,560.3 L516.5,560.3 L516.9,560.4 L517.4,560.4 L517.8,560.4 L518.2,560.5 L518.6,560.6 L519.0,560.7 L519.4,560.7 L519.8,560.8 L520.3,561.0 L520.7,561.1 L521.1,561.2 L521.5,561.3 L521.9,561.5 L522.3,561.7 L522.8,561.8 L523.2,562.0 L523.6,562.2 L524.0,562.4 L524.4,562.6 L524.8,562.8 L525.2,563.0 L525.7,563.3 L526.1,563.5 L526.5,563.7 L526.9,564.0 L527.3,564.3 L527.7,564.5 L528.2,564.8 L528.6,565.1 L529.0,565.4 L529.4,565.7 L529.8,566.0 L530.2,566.3 L530.6,566.6 L531.1,566.9 L531.5,567.2 L531.9,567.6 L532.3,567.9 L532.7,568.2 L533.1,568.6 L533.6,568.9 L534.0,569.3 L534.4,569.7 L534.8,570.0 L535.2,570.4 L535.6,570.8 L536.0,571.1 L536.5,571.5 L536.9,571.9 L537.3,572.3 L537.7,572.7 L538.1,573.1 L538.5,573.5 L539.0,573.9 L539.4,574.3 L539.8,574.7 L540.2,575.1 L540.6,575.5 L541.0,575.9 L541.4,576.3 L541.9,576.7 L542.3,577.1 L542.7,577.5 L543.1,578.0 L543.5,578.4 L543.9,578.8 L544.4,579.2 L544.8,579.6 L545.2,580.0 L545.6,580.4 L546.0,580.9 L546.4,581.3 L546.8,581.7 L547.3,582.1 L547.7,582.5 L548.1,582.9 L548.5,583.3 L548.9,583.7 L549.3,584.2 L549.8,584.6 L550.2,585.0 L550.6,585.4 L551.0,585.8 L551.4,586.1 L551.8,586.5 L552.2,586.9 L552.7,587.3 L553.1,587.7 L553.5,588.1 L553.9,588.4 L554.3,588.8 L554.7,589.2 L555.2,589.5 L555.6,589.9 L556.0,590.3 L556.4,590.6 L556.8,590.9 L557.2,591.3 L557.6,591.6 L558.1,591.9 L558.5,592.3 L558.9,592.6 L559.3,592.9 L559.7,593.2 L560.1,593.5 L560.6,593.8 L561.0,594.1 L561.4,594.3 L561.8,594.6 L562.2,594.9 L562.6,595.1 L563.0,595.4 L563.5,595.6 L563.9,595.9 L564.3,596.1 L564.7,596.3 L565.1,596.5 L565.5,596.7 L566.0,596.9 L566.4,597.1 L566.8,597.3 L567.2,597.4 L567.6,597.6 L568.0,597.7 L568.4,597.8 L568.9,598.0 L569.3,598.1 L569.7,598.2 L570.1,598.3 L570.5,598.4 L570.9,598.4 L571.4,598.5 L571.8,598.5 L572.2,598.6 L572.6,598.6 L573.0,598.6 L573.4,598.6 L573.8,598.6 L574.3,598.6 L574.7,598.6 L575.1,598.5 L575.5,598.5 L575.9,598.4 L576.3,598.3 L576.8,598.3 L577.2,598.2 L577.6,598.1 L578.0,598.0 L578.4,597.8 L578.8,597.7 L579.2,597.6 L579.7,597.4 L580.1,597.2 L580.5,597.1 L580.9,596.9 L581.3,596.7 L581.7,596.5 L582.2,596.3 L582.6,596.1 L583.0,595.9 L583.4,595.7 L583.8,595.4 L584.2,595.2 L584.6,595.0 L585.1,594.7 L585.5,594.4 L585.9,594.2 L586.3,593.9 L586.7,593.6 L587.1,593.3 L587.6,593.0 L588.0,592.7 L588.4,592.4 L588.8,592.1 L589.2,591.8 L589.6,591.5 L590.0,591.2 L590.5,590.8 L590.9,590.5 L591.3,590.2 L591.7,589.8 L592.1,589.5 L592.5,589.1 L593.0,588.7 L593.4,588.4 L593.8,588.0 L594.2,587.7 L594.6,587.3 L595.0,586.9 L595.4,586.5 L595.9,586.1 L596.3,585.8 L596.7,585.4 L597.1,585.0 L597.5,584.6 L597.9,584.2 L598.4,583.8 L598.8,583.4 L599.2,583.0 L599.6,582.6 L600.0,582.2 L600.4,581.8 L600.8,581.4 L601.3,581.0 L601.7,580.6 L602.1,580.1 L602.5,579.7 L602.9,579.3 L603.3,578.9 L603.8,578.5 L604.2,578.1 L604.6,577.7 L605.0,577.3 L605.4,576.9 L605.8,576.5 L606.2,576.1 L606.7,575.7 L607.1,575.2 L607.5,574.8 L607.9,574.4 L608.3,574.0 L608.7,573.6 L609.2,573.2 L609.6,572.9 L610.0,572.5 L610.4,572.1 L610.8,571.7 L611.2,571.3 L611.6,570.9 L612.1,570.5 L612.5,570.2 L612.9,569.8 L613.3,569.4 L613.7,569.1 L614.1,568.7 L614.6,568.4 L615.0,568.0 L615.4,567.7 L615.8,567.3 L616.2,567.0 L616.6,566.6 L617.0,566.3 L617.5,566.0 L617.9,565.7 L618.3,565.4 L618.7,565.0 L619.1,564.7 L619.5,564.4 L620.0,564.2 L620.4,563.9 L620.8,563.6 L621.2,563.3 L621.6,563.1 L622.0,562.8 L622.4,562.6 L622.9,562.3 L623.3,562.1 L623.7,561.9 L624.1,561.6 L624.5,561.4 L624.9,561.2 L625.3,561.0 L625.8,560.8 L626.2,560.6 L626.6,560.5 L627.0,560.3 L627.4,560.2 L627.8,560.0 L628.3,559.9 L628.7,559.8 L629.1,559.6 L629.5,559.5 L629.9,559.4 L630.3,559.3 L630.7,559.3 L631.2,559.2 L631.6,559.1 L632.0,559.1 L632.4,559.1 L632.8,559.0 L633.2,559.0 L633.7,559.0 L634.1,559.0 L634.5,559.0 L634.9,559.1 L635.3,559.1 L635.7,559.2 L636.1,559.2 L636.6,559.3 L637.0,559.4 L637.4,559.5 L637.8,559.6 L638.2,559.7 L638.6,559.8 L639.1,560.0 L639.5,560.1 L639.9,560.2 L640.3,560.4 L640.7,560.6 L641.1,560.7 L641.5,560.9 L642.0,561.1 L642.4,561.3 L642.8,561.5 L643.2,561.7 L643.6,561.9 L644.0,562.2 L644.5,562.4 L644.9,562.6 L645.3,562.9 L645.7,563.1 L646.1,563.4 L646.5,563.6 L646.9,563.9 L647.4,564.2 L647.8,564.5 L648.2,564.7 L648.6,565.0 L649.0,565.3 L649.4,565.6 L649.9,565.9 L650.3,566.2 L650.7,566.5 L651.1,566.8 L651.5,567.2 L651.9,567.5 L652.3,567.8 L652.8,568.1 L653.2,568.4 L653.6,568.8 L654.0,569.1 L654.4,569.4 L654.8,569.8 L655.3,570.1 L655.7,570.4 L656.1,570.8 L656.5,571.1 L656.9,571.4 L657.3,571.8 L657.7,572.1 L658.2,572.5 L658.6,572.8 L659.0,573.1 L659.4,573.5 L659.8,573.8 L660.2,574.2 L660.7,574.5 L661.1,574.8 L661.5,575.2 L661.9,575.5 L662.3,575.8 L662.7,576.2 L663.1,576.5 L663.6,576.8 L664.0,577.1 L664.4,577.5 L664.8,577.8 L665.2,578.1 L665.6,578.4 L666.1,578.7 L666.5,579.0 L666.9,579.3 L667.3,579.6 L667.7,579.9 L668.1,580.2 L668.5,580.5 L669.0,580.7 L669.4,581.0 L669.8,581.3 L670.2,581.6 L670.6,581.8 L671.0,582.1 L671.5,582.3 L671.9,582.5 L672.3,582.8 L672.7,583.0 L673.1,583.2 L673.5,583.4 L673.9,583.6 L674.4,583.8 L674.8,584.0 L675.2,584.2 L675.6,584.4 L676.0,584.5 L676.4,584.7 L676.9,584.8 L677.3,585.0 L677.7,585.1 L678.1,585.2 L678.5,585.4 L678.9,585.5 L679.3,585.5 L679.8,585.6 L680.2,585.7 L680.6,585.8 L681.0,585.8 L681.4,585.9 L681.8,585.9 L682.3,585.9 L682.7,585.9 L683.1,585.9 L683.5,585.9"/>
<path d="M85.8,658.5 L86.2,658.4 L86.6,658.4 L87.0,658.4 L87.5,658.4 L87.9,658.3 L88.3,658.3 L88.7,658.3 L89.1,658.3 L89.5,658.2 L90.0,658.2 L90.4,658.2 L90.8,658.1 L91.2,658.1 L91.6,658.0 L92.0,658.0 L92.4,658.0 L92.9,657.9 L93.3,657.9 L93.7,657.8 L94.1,657.8 L94.5,657.7 L94.9,657.7 L95.4,657.6 L95.8,657.6 L96.2,657.5 L96.6,657.5 L97.0,657.4 L97.4,657.4 L97.8,657.3 L98.3,657.3 L98.7,657.2 L99.1,657.1 L99.5,657.1 L99.9,657.0 L100.3,656.9 L100.8,656.9 L101.2,656.8 L101.6,656.8 L102.0,656.7 L102.4,656.6 L102.8,656.6 L103.2,656.5 L103.7,656.4 L104.1,656.3 L104.5,656.3 L104.9,656.2 L105.3,656.1 L105.7,656.0 L106.2,656.0 L106.6,655.9 L107.0,655.8 L107.4,655.7 L107.8,655.7 L108.2,655.6 L108.6,655.5 L109.1,655.4 L109.5,655.3 L109.9,655.3 L110.3,655.2 L110.7,655.1 L111.1,655.0 L111.6,654.9 L112.0,654.8 L112.4,654.8 L112.8,654.7 L113.2,654.6 L113.6,654.5 L114.0,654.4 L114.5,654.3 L114.9,654.2 L115.3,654.1 L115.7,654.1 L116.1,654.0 L116.5,653.9 L117.0,653.8 L117.4,653.7 L117.8,653.6 L118.2,653.5 L118.6,653.4 L119.0,653.3 L119.4,653.2 L119.9,653.1 L120.3,653.0 L120.7,652.9 L121.1,652.8 L121.5,652.7 L121.9,652.7 L122.4,652.6 L122.8,652.5 L123.2,652.4 L123.6,652.3 L124.0,652.2 L124.4,652.1 L124.8,652.0 L125.3,651.9 L125.7,651.8 L126.1,651.7 L126.5,651.6 L126.9,651.5 L127.3,651.4 L127.8,651.3 L128.2,651.2 L128.6,651.1 L129.0,651.0 L129.4,650.9 L129.8,650.8 L130.2,650.7 L130.7,650.6 L131.1,650.5 L131.5,650.4 L131.9,650.3 L132.3,650.2 L132.7,650.1 L133.2,650.0 L133.6,649.9 L134.0,649.8 L134.4,649.7 L134.8,649.6 L135.2,649.5 L135.6,649.4 L136.1,649.3 L136.5,649.2 L136.9,649.1 L137.3,649.0 L137.7,648.9 L138.1,648.8 L138.6,648.7 L139.0,648.6 L139.4,648.5 L139.8,648.4 L140.2,648.3 L140.6,648.2 L141.0,648.1 L141.5,648.0 L141.9,647.9 L142.3,647.8 L142.7,647.7 L143.1,647.6 L143.5,647.5 L144.0,647.4 L144.4,647.3 L144.8,647.2 L145.2,647.1 L145.6,647.0 L146.0,646.9 L146.4,646.8 L146.9,646.7 L147.3,646.6 L147.7,646.5 L148.1,646.4 L148.5,646.3 L148.9,646.2 L149.3,646.1 L149.8,646.0 L150.2,645.9 L150.6,645.9 L151.0,645.8 L151.4,645.7 L151.8,645.6 L152.3,645.5 L152.7,645.4 L153.1,645.3 L153.5,645.2 L153.9,645.1 L154.3,645.0 L154.7,644.9 L155.2,644.9 L155.6,644.8 L156.0,644.7 L156.4,644.6 L156.8,644.5 L157.2,644.4 L157.7,644.3 L158.1,644.3 L158.5,644.2 L158.9,644.1 L159.3,644.0 L159.7,643.9 L160.1,643.8 L160.6,643.8 L161.0,643.7 L161.4,643.6 L161.8,643.5 L162.2,643.5 L162.6,643.4 L163.1,643.3 L163.5,643.2 L163.9,643.1 L164.3,643.1 L164.7,643.0 L165.1,642.9 L165.5,642.8 L166.0,642.8 L166.4,642.7 L166.8,642.6 L167.2,642.6 L167.6,642.5 L168.0,642.4 L168.5,642.4 L168.9,642.3 L169.3,642.2 L169.7,642.2 L170.1,642.1 L170.5,642.0 L170.9,642.0 L171.4,641.9 L171.8,641.8 L172.2,641.8 L172.6,641.7 L173.0,641.7 L173.4,641.6 L173.9,641.6 L174.3,641.5 L174.7,641.4 L175.1,641.4 L175.5,641.3 L175.9,641.3 L176.3,641.2 L176.8,641.2 L177.2,641.1 L177.6,641.1 L178.0,641.0 L178.4,641.0 L178.8,640.9 L179.3,640.9 L179.7,640.8 L180.1,640.8 L180.5,640.8 L180.9,640.7 L181.3,640.7 L181.7,640.6 L182.2,640.6 L182.6,640.6 L183.0,640.5 L183.4,640.5 L183.8,640.4 L184.2,640.4 L184.7,640.4 L185.1,640.3 L185.5,640.3 L185.9,640.3 L186.3,640.3 L186.7,640.2 L187.1,640.2 L187.6,640.2 L188.0,640.2 L188.4,640.1 L188.8,640.1 L189.2,640.1 L189.6,640.1 L190.1,640.0 L190.5,640.0 L190.9,640.0 L191.3,640.0 L191.7,640.0 L192.1,640.0 L192.5,639.9 L193.0,639.9 L193.4,639.9 L193.8,639.9 L194.2,639.9 L194.6,639.9 L195.0,639.9 L195.5,639.9 L195.9,639.9 L196.3,639.9 L196.7,639.9 L197.1,639.9 L197.5,639.9 L197.9,639.9 L198.4,639.9 L198.8,639.9 L199.2,639.9 L199.6,639.9 L200.0,639.9 L200.4,639.9 L200.9,639.9 L201.3,639.9 L201.7,640.0 L202.1,640.0 L202.5,640.0 L202.9,640.0 L203.3,640.0 L203.8,640.0 L204.2,640.1 L204.6,640.1 L205.0,640.1 L205.4,640.1 L205.8,640.2 L206.3,640.2 L206.7,640.2 L207.1,640.2 L207.5,640.3 L207.9,640.3 L208.3,640.3 L208.7,640.4 L209.2,640.4 L209.6,640.4 L210.0,640.5 L210.4,640.5 L210.8,640.5 L211.2,640.6 L211.7,640.6 L212.1,640.7 L212.5,640.7 L212.9,640.8 L213.3,640.8 L213.7,640.9 L214.1,640.9 L214.6,641.0 L215.0,641.0 L215.4,641.1 L215.8,641.1 L216.2,641.2 L216.6,641.2 L217.1,641.3 L217.5,641.4 L217.9,641.4 L218.3,641.5 L218.7,641.5 L219.1,641.6 L219.5,641.7 L220.0,641.7 L220.4,641.8 L220.8,641.9 L221.2,641.9 L221.6,642.0 L222.0,642.1 L222.5,642.2 L222.9,642.2 L223.3,642.3 L223.7,642.4 L224.1,642.5 L224.5,642.6 L224.9,642.6 L225.4,642.7 L225.8,642.8 L226.2,642.9 L226.6,643.0 L227.0,643.1 L227.4,643.2 L227.9,643.2 L228.3,643.3 L228.7,643.4 L229.1,643.5 L229.5,643.6 L229.9,643.7 L230.3,643.8 L230.8,643.9 L231.2,644.0 L231.6,644.1 L232.0,644.2 L232.4,644.3 L232.8,644.4 L233.3,644.5 L233.7,644.6 L234.1,644.7 L234.5,644.8 L234.9,644.9 L235.3,645.0 L235.7,645.2 L236.2,645.3 L236.6,645.4 L237.0,645.5 L237.4,645.6 L237.8,645.7 L238.2,645.8 L238.7,646.0 L239.1,646.1 L239.5,646.2 L239.9,646.3 L240.3,646.4 L240.7,646.6 L241.1,646.7 L241.6,646.8 L242.0,646.9 L242.4,647.1 L242.8,647.2 L243.2,647.3 L243.6,647.4 L244.1,647.6 L244.5,647.7 L244.9,647.8 L245.3,648.0 L245.7,648.1 L246.1,648.2 L246.5,648.4 L247.0,648.5 L247.4,648.6 L247.8,648.8 L248.2,648.9 L248.6,649.0 L249.0,649.2 L249.5,649.3 L249.9,649.5 L250.3,649.6 L250.7,649.7 L251.1,649.9 L251.5,650.0 L251.9,650.2 L252.4,650.3 L252.8,650.5 L253.2,650.6 L253.6,650.8 L254.0,650.9 L254.4,651.1 L254.9,651.2 L255.3,651.3 L255.7,651.5 L256.1,651.6 L256.5,651.8 L256.9,651.9 L257.3,652.1 L257.8,652.2 L258.2,652.4 L258.6,652.5 L259.0,652.7 L259.4,652.9 L259.8,653.0 L260.3,653.2 L260.7,653.3 L261.1,653.5 L261.5,653.6 L261.9,653.8 L262.3,653.9 L262.7,654.1 L263.2,654.2 L263.6,654.4 L264.0,654.6 L264.4,654.7 L264.8,654.9 L265.2,655.0 L265.6,655.2 L266.1,655.3 L266.5,655.5 L266.9,655.6 L267.3,655.8 L267.7,656.0 L268.1,656.1 L268.6,656.3 L269.0,656.4 L269.4,656.6 L269.8,656.7 L270.2,656.9 L270.6,657.1 L271.0,657.2 L271.5,657.4 L271.9,657.5 L272.3,657.7 L272.7,657.8 L273.1,658.0 L273.5,658.2 L274.0,658.3 L274.4,658.5 L274.8,658.6 L275.2,658.8 L275.6,658.9 L276.0,659.1 L276.4,659.2 L276.9,659.4 L277.3,659.6 L277.7,659.7 L278.1,659.9 L278.5,660.0 L278.9,660.2 L279.4,660.3 L279.8,660.5 L280.2,660.6 L280.6,660.8 L281.0,660.9 L281.4,661.1 L281.8,661.2 L282.3,661.4 L282.7,661.5 L283.1,661.7 L283.5,661.8 L283.9,661.9 L284.3,662.1 L284.8,662.2 L285.2,662.4 L285.6,662.5 L286.0,662.7 L286.4,662.8 L286.8,662.9 L287.2,663.1 L287.7,663.2 L288.1,663.3 L288.5,663.5 L288.9,663.6 L289.3,663.8 L289.7,663.9 L290.2,664.0 L290.6,664.1 L291.0,664.3 L291.4,664.4 L291.8,664.5 L292.2,664.7 L292.6,664.8 L293.1,664.9 L293.5,665.0 L293.9,665.2 L294.3,665.3 L294.7,665.4 L295.1,665.5 L295.6,665.6 L296.0,665.8 L296.4,665.9 L296.8,666.0 L297.2,666.1 L297.6,666.2 L298.0,666.3 L298.5,666.4 L298.9,666.5 L299.3,666.6 L299.7,666.8 L300.1,666.9 L300.5,667.0 L301.0,667.1 L301.4,667.2 L301.8,667.3 L302.2,667.4 L302.6,667.5 L303.0,667.6 L303.4,667.6 L303.9,667.7 L304.3,667.8 L304.7,667.9 L305.1,668.0 L305.5,668.1 L305.9,668.2 L306.4,668.3 L306.8,668.3 L307.2,668.4 L307.6,668.5 L308.0,668.6 L308.4,668.7 L308.8,668.7 L309.3,668.8 L309.7,668.9 L310.1,668.9 L310.5,669.0 L310.9,669.1 L311.3,669.2 L311.8,669.2 L312.2,669.3 L312.6,669.3 L313.0,669.4 L313.4,669.5 L313.8,669.5 L314.2,669.6 L314.7,669.6 L315.1,669.7 L315.5,669.7 L315.9,669.8 L316.3,669.8 L316.7,669.9 L317.2,669.9 L317.6,669.9 L318.0,670.0 L318.4,670.0 L318.8,670.1 L319.2,670.1 L319.6,670.1 L320.1,670.2 L320.5,670.2 L320.9,670.2 L321.3,670.2 L321.7,670.3 L322.1,670.3 L322.6,670.3 L323.0,670.3 L323.4,670.4 L323.8,670.4 L324.2,670.4 L324.6,670.4 L325.0,670.4 L325.5,670.4 L325.9,670.4 L326.3,670.4 L326.7,670.4 L327.1,670.5 L327.5,670.5 L328.0,670.5 L328.4,670.5 L328.8,670.4 L329.2,670.4 L329.6,670.4 L330.0,670.4 L330.4,670.4 L330.9,670.4 L331.3,670.4 L331.7,670.4 L332.1,670.4 L332.5,670.3 L332.9,670.3 L333.4,670.3 L333.8,670.3 L334.2,670.3 L334.6,670.2 L335.0,670.2 L335.4,670.2 L335.8,670.1 L336.3,670.1 L336.7,670.1 L337.1,670.0 L337.5,670.0 L337.9,670.0 L338.3,669.9 L338.8,669.9 L339.2,669.8 L339.6,669.8 L340.0,669.8 L340.4,669.7 L340.8,669.7 L341.2,669.6 L341.7,669.5 L342.1,669.5 L342.5,669.4 L342.9,669.4 L343.3,669.3 L343.7,669.3 L344.2,669.2 L344.6,669.1 L345.0,669.1 L345.4,669.0 L345.8,668.9 L346.2,668.9 L346.6,668.8 L347.1,668.7 L347.5,668.7 L347.9,668.6 L348.3,668.5 L348.7,668.4 L349.1,668.3 L349.6,668.3 L350.0,668.2 L350.4,668.1 L350.8,668.0 L351.2,667.9 L351.6,667.8 L352.0,667.8 L352.5,667.7 L352.9,667.6 L353.3,667.5 L353.7,667.4 L354.1,667.3 L354.5,667.2 L355.0,667.1 L355.4,667.0 L355.8,666.9 L356.2,666.8 L356.6,666.7 L357.0,666.6 L357.4,666.5 L357.9,666.4 L358.3,666.3 L358.7,666.2 L359.1,666.1 L359.5,665.9 L359.9,665.8 L360.4,665.7 L360.8,665.6 L361.2,665.5 L361.6,665.4 L362.0,665.3 L362.4,665.1 L362.8,665.0 L363.3,664.9 L363.7,664.8 L364.1,664.7 L364.5,664.5 L364.9,664.4 L365.3,664.3 L365.8,664.2 L366.2,664.0 L366.6,663.9 L367.0,663.8 L367.4,663.7 L367.8,663.5 L368.2,663.4 L368.7,663.3 L369.1,663.1 L369.5,663.0 L369.9,662.9 L370.3,662.7 L370.7,662.6 L371.2,662.5 L371.6,662.3 L372.0,662.2 L372.4,662.1 L372.8,661.9 L373.2,661.8 L373.6,661.6 L374.1,661.5 L374.5,661.4 L374.9,661.2 L375.3,661.1 L375.7,660.9 L376.1,660.8 L376.6,660.6 L377.0,660.5 L377.4,660.4 L377.8,660.2 L378.2,660.1 L378.6,659.9 L379.0,659.8 L379.5,659.6 L379.9,659.5 L380.3,659.3 L380.7,659.2 L381.1,659.0 L381.5,658.9 L382.0,658.7 L382.4,658.6 L382.8,658.4 L383.2,658.3 L383.6,658.1 L384.0,658.0 L384.4,657.8 L384.9,657.7 L385.3,657.5 L385.7,657.4 L386.1,657.2 L386.5,657.1 L386.9,656.9 L387.3,656.8 L387.8,656.6 L388.2,656.5 L388.6,656.3 L389.0,656.2 L389.4,656.0 L389.8,655.9 L390.3,655.7 L390.7,655.6 L391.1,655.4 L391.5,655.3 L391.9,655.1 L392.3,655.0 L392.7,654.8 L393.2,654.7 L393.6,654.5 L394.0,654.4 L394.4,654.2 L394.8,654.1 L395.2,653.9 L395.7,653.8 L396.1,653.6 L396.5,653.5 L396.9,653.4 L397.3,653.2 L397.7,653.1 L398.1,652.9 L398.6,652.8 L399.0,652.6 L399.4,652.5 L399.8,652.3 L400.2,652.2 L400.6,652.1 L401.1,651.9 L401.5,651.8 L401.9,651.6 L402.3,651.5 L402.7,651.4 L403.1,651.2 L403.5,651.1 L404.0,651.0 L404.4,650.8 L404.8,650.7 L405.2,650.6 L405.6,650.4 L406.0,650.3 L406.5,650.2 L406.9,650.0 L407.3,649.9 L407.7,649.8 L408.1,649.7 L408.5,649.5 L408.9,649.4 L409.4,649.3 L409.8,649.2 L410.2,649.0 L410.6,648.9 L411.0,648.8 L411.4,648.7 L411.9,648.6 L412.3,648.5 L412.7,648.4 L413.1,648.2 L413.5,648.1 L413.9,648.0 L414.3,647.9 L414.8,647.8 L415.2,647.7 L415.6,647.6 L416.0,647.5 L416.4,647.4 L416.8,647.3 L417.3,647.2 L417.7,647.1 L418.1,647.0 L418.5,646.9 L418.9,646.8 L419.3,646.7 L419.7,646.7 L420.2,646.6 L420.6,646.5 L421.0,646.4 L421.4,646.3 L421.8,646.2 L422.2,646.2 L422.7,646.1 L423.1,646.0 L423.5,645.9 L423.9,645.9 L424.3,645.8 L424.7,645.7 L425.1,645.7 L425.6,645.6 L426.0,645.5 L426.4,645.5 L426.8,645.4 L427.2,645.4 L427.6,645.3 L428.1,645.3 L428.5,645.2 L428.9,645.2 L429.3,645.1 L429.7,645.1 L430.1,645.0 L430.5,645.0 L431.0,644.9 L431.4,644.9 L431.8,644.9 L432.2,644.8 L432.6,644.8 L433.0,644.8 L433.5,644.7 L433.9,644.7 L434.3,644.7 L434.7,644.7 L435.1,644.6 L435.5,644.6 L435.9,644.6 L436.4,644.6 L436.8,644.6 L437.2,644.6 L437.6,644.6 L438.0,644.5 L438.4,644.5 L438.9,644.5 L439.3,644.5 L439.7,644.5 L440.1,644.5 L440.5,644.5 L440.9,644.5 L441.3,644.5 L441.8,644.6 L442.2,644.6 L442.6,644.6 L443.0,644.6 L443.4,644.6 L443.8,644.6 L444.3,644.6 L444.7,644.7 L445.1,644.7 L445.5,644.7 L445.9,644.7 L446.3,644.8 L446.7,644.8 L447.2,644.8 L447.6,644.9 L448.0,644.9 L448.4,644.9 L448.8,645.0 L449.2,645.0 L449.7,645.0 L450.1,645.1 L450.5,645.1 L450.9,645.2 L451.3,645.2 L451.7,645.3 L452.1,645.3 L452.6,645.4 L453.0,645.4 L453.4,645.5 L453.8,645.6 L454.2,645.6 L454.6,645.7 L455.1,645.7 L455.5,645.8 L455.9,645.9 L456.3,645.9 L456.7,646.0 L457.1,646.1 L457.5,646.2 L458.0,646.2 L458.4,646.3 L458.8,646.4 L459.2,646.5 L459.6,646.5 L460.0,646.6 L460.5,646.7 L460.9,646.8 L461.3,646.9 L461.7,647.0 L462.1,647.0 L462.5,647.1 L462.9,647.2 L463.4,647.3 L463.8,647.4 L464.2,647.5 L464.6,647.6 L465.0,647.7 L465.4,647.8 L465.9,647.9 L466.3,648.0 L466.7,648.1 L467.1,648.2 L467.5,648.3 L467.9,648.4 L468.3,648.5 L468.8,648.6 L469.2,648.7 L469.6,648.8 L470.0,648.9 L470.4,649.0 L470.8,649.2 L471.3,649.3 L471.7,649.4 L472.1,649.5 L472.5,649.6 L472.9,649.7 L473.3,649.8 L473.7,650.0 L474.2,650.1 L474.6,650.2 L475.0,650.3 L475.4,650.4 L475.8,650.6 L476.2,650.7 L476.7,650.8 L477.1,650.9 L477.5,651.1 L477.9,651.2 L478.3,651.3 L478.7,651.4 L479.1,651.6 L479.6,651.7 L480.0,651.8 L480.4,651.9 L480.8,652.1 L481.2,652.2 L481.6,652.3 L482.1,652.4 L482.5,652.6 L482.9,652.7 L483.3,652.8 L483.7,653.0 L484.1,653.1 L484.5,653.2 L485.0,653.4 L485.4,653.5 L485.8,653.6 L486.2,653.7 L486.6,653.9 L487.0,654.0 L487.5,654.1 L487.9,654.3 L488.3,654.4 L488.7,654.5 L489.1,654.7 L489.5,654.8 L489.9,654.9 L490.4,655.1 L490.8,655.2 L491.2,655.3 L491.6,655.4 L492.0,655.6 L492.4,655.7 L492.9,655.8 L493.3,656.0 L493.7,656.1 L494.1,656.2 L494.5,656.3 L494.9,656.5 L495.3,656.6 L495.8,656.7 L496.2,656.9 L496.6,657.0 L497.0,657.1 L497.4,657.2 L497.8,657.4 L498.3,657.5 L498.7,657.6 L499.1,657.7 L499.5,657.8 L499.9,658.0 L500.3,658.1 L500.7,658.2 L501.2,658.3 L501.6,658.4 L502.0,658.6 L502.4,658.7 L502.8,658.8 L503.2,658.9 L503.7,659.0 L504.1,659.1 L504.5,659.3 L504.9,659.4 L505.3,659.5 L505.7,659.6 L506.1,659.7 L506.6,659.8 L507.0,659.9 L507.4,660.0 L507.8,660.1 L508.2,660.2 L508.6,660.3 L509.0,660.5 L509.5,660.6 L509.9,660.7 L510.3,660.8 L510.7,660.9 L511.1,661.0 L511.5,661.1 L512.0,661.2 L512.4,661.3 L512.8,661.3 L513.2,661.4 L513.6,661.5 L514.0,661.6 L514.4,661.7 L514.9,661.8 L515.3,661.9 L515.7,662.0 L516.1,662.1 L516.5,662.2 L516.9,662.2 L517.4,662.3 L517.8,662.4 L518.2,662.5 L518.6,662.6 L519.0,662.7 L519.4,662.7 L519.8,662.8 L520.3,662.9 L520.7,663.0 L521.1,663.0 L521.5,663.1 L521.9,663.2 L522.3,663.3 L522.8,663.3 L523.2,663.4 L523.6,663.5 L524.0,663.5 L524.4,663.6 L524.8,663.7 L525.2,663.7 L525.7,663.8 L526.1,663.8 L526.5,663.9 L526.9,664.0 L527.3,664.0 L527.7,664.1 L528.2,664.1 L528.6,664.2 L529.0,664.2 L529.4,664.3 L529.8,664.3 L530.2,664.4 L530.6,664.4 L531.1,664.5 L531.5,664.5 L531.9,664.5 L532.3,664.6 L532.7,664.6 L533.1,664.7 L533.6,664.7 L534.0,664.7 L534.4,664.8 L534.8,664.8 L535.2,664.8 L535.6,664.9 L536.0,664.9 L536.5,664.9 L536.9,665.0 L537.3,665.0 L537.7,665.0 L538.1,665.0 L538.5,665.1 L539.0,665.1 L539.4,665.1 L539.8,665.1 L540.2,665.2 L540.6,665.2 L541.0,665.2 L541.4,665.2 L541.9,665.2 L542.3,665.2 L542.7,665.2 L543.1,665.2 L543.5,665.3 L543.9,665.3 L544.4,665.3 L544.8,665.3 L545.2,665.3 L545.6,665.3 L546.0,665.3 L546.4,665.3 L546.8,665.3 L547.3,665.3 L547.7,665.3 L548.1,665.3 L548.5,665.3 L548.9,665.3 L549.3,665.2 L549.8,665.2 L550.2,665.2 L550.6,665.2 L551.0,665.2 L551.4,665.2 L551.8,665.2 L552.2,665.2 L552.7,665.1 L553.1,665.1 L553.5,665.1 L553.9,665.1 L554.3,665.0 L554.7,665.0 L555.2,665.0 L555.6,665.0 L556.0,664.9 L556.4,664.9 L556.8,664.9 L557.2,664.9 L557.6,664.8 L558.1,664.8 L558.5,664.8 L558.9,664.7 L559.3,664.7 L559.7,664.6 L560.1,664.6 L560.6,664.6 L561.0,664.5 L561.4,664.5 L561.8,664.4 L562.2,664.4 L562.6,664.4 L563.0,664.3 L563.5,664.3 L563.9,664.2 L564.3,664.2 L564.7,664.1 L565.1,664.1 L565.5,664.0 L566.0,664.0 L566.4,663.9 L566.8,663.8 L567.2,663.8 L567.6,663.7 L568.0,663.7 L568.4,663.6 L568.9,663.6 L569.3,663.5 L569.7,663.4 L570.1,663.4 L570.5,663.3 L570.9,663.2 L571.4,663.2 L571.8,663.1 L572.2,663.0 L572.6,663.0 L573.0,662.9 L573.4,662.8 L573.8,662.8 L574.3,662.7 L574.7,662.6 L575.1,662.5 L575.5,662.5 L575.9,662.4 L576.3,662.3 L576.8,662.2 L577.2,662.2 L577.6,662.1 L578.0,662.0 L578.4,661.9 L578.8,661.8 L579.2,661.8 L579.7,661.7 L580.1,661.6 L580.5,661.5 L580.9,661.4 L581.3,661.3 L581.7,661.3 L582.2,661.2 L582.6,661.1 L583.0,661.0 L583.4,660.9 L583.8,660.8 L584.2,660.7 L584.6,660.6 L585.1,660.6 L585.5,660.5 L585.9,660.4 L586.3,660.3 L586.7,660.2 L587.1,660.1 L587.6,660.0 L588.0,659.9 L588.4,659.8 L588.8,659.7 L589.2,659.6 L589.6,659.5 L590.0,659.4 L590.5,659.3 L590.9,659.2 L591.3,659.1 L591.7,659.0 L592.1,658.9 L592.5,658.8 L593.0,658.7 L593.4,658.6 L593.8,658.5 L594.2,658.4 L594.6,658.3 L595.0,658.2 L595.4,658.1 L595.9,658.0 L596.3,657.9 L596.7,657.8 L597.1,657.7 L597.5,657.6 L597.9,657.5 L598.4,657.4 L598.8,657.3 L599.2,657.2 L599.6,657.1 L600.0,657.0 L600.4,656.9 L600.8,656.8 L601.3,656.7 L601.7,656.6 L602.1,656.5 L602.5,656.4 L602.9,656.3 L603.3,656.2 L603.8,656.1 L604.2,656.0 L604.6,655.9 L605.0,655.8 L605.4,655.7 L605.8,655.6 L606.2,655.5 L606.7,655.4 L607.1,655.3 L607.5,655.2 L607.9,655.1 L608.3,655.0 L608.7,654.9 L609.2,654.8 L609.6,654.7 L610.0,654.6 L610.4,654.5 L610.8,654.4 L611.2,654.3 L611.6,654.2 L612.1,654.1 L612.5,654.0 L612.9,653.9 L613.3,653.8 L613.7,653.7 L614.1,653.6 L614.6,653.5 L615.0,653.4 L615.4,653.3 L615.8,653.2 L616.2,653.1 L616.6,653.0 L617.0,652.9 L617.5,652.9 L617.9,652.8 L618.3,652.7 L618.7,652.6 L619.1,652.5 L619.5,652.4 L620.0,652.3 L620.4,652.2 L620.8,652.2 L621.2,652.1 L621.6,652.0 L622.0,651.9 L622.4,651.8 L622.9,651.7 L623.3,651.7 L623.7,651.6 L624.1,651.5 L624.5,651.4 L624.9,651.3 L625.3,651.3 L625.8,651.2 L626.2,651.1 L626.6,651.1 L627.0,651.0 L627.4,650.9 L627.8,650.8 L628.3,650.8 L628.7,650.7 L629.1,650.6 L629.5,650.6 L629.9,650.5 L630.3,650.4 L630.7,650.4 L631.2,650.3 L631.6,650.2 L632.0,650.2 L632.4,650.1 L632.8,650.1 L633.2,650.0 L633.7,650.0 L634.1,649.9 L634.5,649.8 L634.9,649.8 L635.3,649.7 L635.7,649.7 L636.1,649.6 L636.6,649.6 L637.0,649.5 L637.4,649.5 L637.8,649.5 L638.2,649.4 L638.6,649.4 L639.1,649.3 L639.5,649.3 L639.9,649.2 L640.3,649.2 L640.7,649.2 L641.1,649.1 L641.5,649.1 L642.0,649.1 L642.4,649.0 L642.8,649.0 L643.2,649.0 L643.6,648.9 L644.0,648.9 L644.5,648.9 L644.9,648.9 L645.3,648.8 L645.7,648.8 L646.1,648.8 L646.5,648.8 L646.9,648.7 L647.4,648.7 L647.8,648.7 L648.2,648.7 L648.6,648.7 L649.0,648.7 L649.4,648.6 L649.9,648.6 L650.3,648.6 L650.7,648.6 L651.1,648.6 L651.5,648.6 L651.9,648.6 L652.3,648.6 L652.8,648.6 L653.2,648.6 L653.6,648.6 L654.0,648.6 L654.4,648.6 L654.8,648.6 L655.3,648.6 L655.7,648.6 L656.1,648.6 L656.5,648.6 L656.9,648.6 L657.3,648.6 L657.7,648.6 L658.2,648.6 L658.6,648.6 L659.0,648.6 L659.4,648.6 L659.8,648.7 L660.2,648.7 L660.7,648.7 L661.1,648.7 L661.5,648.7 L661.9,648.7 L662.3,648.7 L662.7,648.8 L663.1,648.8 L663.6,648.8 L664.0,648.8 L664.4,648.9 L664.8,648.9 L665.2,648.9 L665.6,648.9 L666.1,649.0 L666.5,649.0 L666.9,649.0 L667.3,649.0 L667.7,649.1 L668.1,649.1 L668.5,649.1 L669.0,649.2 L669.4,649.2 L669.8,649.2 L670.2,649.3 L670.6,649.3 L671.0,649.3 L671.5,649.4 L671.9,649.4 L672.3,649.4 L672.7,649.5 L673.1,649.5 L673.5,649.6 L673.9,649.6 L674.4,649.6 L674.8,649.7 L675.2,649.7 L675.6,649.8 L676.0,649.8 L676.4,649.8 L676.9,649.9 L677.3,649.9 L677.7,650.0 L678.1,650.0 L678.5,650.1 L678.9,650.1 L679.3,650.2 L679.8,650.2 L680.2,650.2 L680.6,650.3 L681.0,650.3 L681.4,650.4 L681.8,650.4 L682.3,650.5 L682.7,650.5 L683.1,650.6 L683.5,650.6"/>
<path d="M85.8,754.5 L86.2,754.5 L86.6,754.5 L87.0,754.5 L87.5,754.5 L87.9,754.5 L88.3,754.5 L88.7,754.5 L89.1,754.5 L89.5,754.5 L90.0,754.5 L90.4,754.5 L90.8,754.5 L91.2,754.5 L91.6,754.5 L92.0,754.5 L92.4,754.5 L92.9,754.5 L93.3,754.5 L93.7,754.5 L94.1,754.5 L94.5,754.5 L94.9,754.5 L95.4,754.5 L95.8,754.5 L96.2,754.5 L96.6,754.5 L97.0,754.5 L97.4,754.5 L97.8,754.5 L98.3,754.5 L98.7,754.5 L99.1,754.5 L99.5,754.5 L99.9,754.4 L100.3,754.4 L100.8,754.4 L101.2,754.4 L101.6,754.4 L102.0,754.4 L102.4,754.4 L102.8,754.4 L103.2,754.4 L103.7,754.4 L104.1,754.4 L104.5,754.4 L104.9,754.4 L105.3,754.4 L105.7,754.3 L106.2,754.3 L106.6,754.3 L107.0,754.3 L107.4,754.3 L107.8,754.3 L108.2,754.3 L108.6,754.3 L109.1,754.3 L109.5,754.3 L109.9,754.2 L110.3,754.2 L110.7,754.2 L111.1,754.2 L111.6,754.2 L112.0,754.2 L112.4,754.2 L112.8,754.2 L113.2,754.1 L113.6,754.1 L114.0,754.1 L114.5,754.1 L114.9,754.1 L115.3,754.1 L115.7,754.1 L116.1,754.0 L116.5,754.0 L117.0,754.0 L117.4,754.0 L117.8,754.0 L118.2,754.0 L118.6,754.0 L119.0,753.9 L119.4,753.9 L119.9,753.9 L120.3,753.9 L120.7,753.9 L121.1,753.9 L121.5,753.8 L121.9,753.8 L122.4,753.8 L122.8,753.8 L123.2,753.8 L123.6,753.8 L124.0,753.7 L124.4,753.7 L124.8,753.7 L125.3,753.7 L125.7,753.7 L126.1,753.6 L126.5,753.6 L126.9,753.6 L127.3,753.6 L127.8,753.6 L128.2,753.5 L128.6,753.5 L129.0,753.5 L129.4,753.5 L129.8,753.5 L130.2,753.4 L130.7,753.4 L131.1,753.4 L131.5,753.4 L131.9,753.3 L132.3,753.3 L132.7,753.3 L133.2,753.3 L133.6,753.2 L134.0,753.2 L134.4,753.2 L134.8,753.2 L135.2,753.1 L135.6,753.1 L136.1,753.1 L136.5,753.1 L136.9,753.0 L137.3,753.0 L137.7,753.0 L138.1,753.0 L138.6,752.9 L139.0,752.9 L139.4,752.9 L139.8,752.9 L140.2,752.8 L140.6,752.8 L141.0,752.8 L141.5,752.7 L141.9,752.7 L142.3,752.7 L142.7,752.7 L143.1,752.6 L143.5,752.6 L144.0,752.6 L144.4,752.5 L144.8,752.5 L145.2,752.5 L145.6,752.5 L146.0,752.4 L146.4,752.4 L146.9,752.4 L147.3,752.3 L147.7,752.3 L148.1,752.3 L148.5,752.2 L148.9,752.2 L149.3,752.2 L149.8,752.1 L150.2,752.1 L150.6,752.1 L151.0,752.0 L151.4,752.0 L151.8,752.0 L152.3,751.9 L152.7,751.9 L153.1,751.9 L153.5,751.8 L153.9,751.8 L154.3,751.8 L154.7,751.7 L155.2,751.7 L155.6,751.7 L156.0,751.6 L156.4,751.6 L156.8,751.5 L157.2,751.5 L157.7,751.5 L158.1,751.4 L158.5,751.4 L158.9,751.4 L159.3,751.3 L159.7,751.3 L160.1,751.2 L160.6,751.2 L161.0,751.2 L161.4,751.1 L161.8,751.1 L162.2,751.0 L162.6,751.0 L163.1,751.0 L163.5,750.9 L163.9,750.9 L164.3,750.8 L164.7,750.8 L165.1,750.8 L165.5,750.7 L166.0,750.7 L166.4,750.6 L166.8,750.6 L167.2,750.5 L167.6,750.5 L168.0,750.5 L168.5,750.4 L168.9,750.4 L169.3,750.3 L169.7,750.3 L170.1,750.2 L170.5,750.2 L170.9,750.2 L171.4,750.1 L171.8,750.1 L172.2,750.0 L172.6,750.0 L173.0,749.9 L173.4,749.9 L173.9,749.8 L174.3,749.8 L174.7,749.7 L175.1,749.7 L175.5,749.6 L175.9,749.6 L176.3,749.6 L176.8,749.5 L177.2,749.5 L177.6,749.4 L178.0,749.4 L178.4,749.3 L178.8,749.3 L179.3,749.2 L179.7,749.2 L180.1,749.1 L180.5,749.1 L180.9,749.0 L181.3,749.0 L181.7,748.9 L182.2,748.9 L182.6,748.8 L183.0,748.8 L183.4,748.7 L183.8,748.7 L184.2,748.6 L184.7,748.6 L185.1,748.5 L185.5,748.4 L185.9,748.4 L186.3,748.3 L186.7,748.3 L187.1,748.2 L187.6,748.2 L188.0,748.1 L188.4,748.1 L188.8,748.0 L189.2,748.0 L189.6,747.9 L190.1,747.9 L190.5,747.8 L190.9,747.7 L191.3,747.7 L191.7,747.6 L192.1,747.6 L192.5,747.5 L193.0,747.5 L193.4,747.4 L193.8,747.4 L194.2,747.3 L194.6,747.2 L195.0,747.2 L195.5,747.1 L195.9,747.1 L196.3,747.0 L196.7,747.0 L197.1,746.9 L197.5,746.8 L197.9,746.8 L198.4,746.7 L198.8,746.7 L199.2,746.6 L199.6,746.5 L200.0,746.5 L200.4,746.4 L200.9,746.4 L201.3,746.3 L201.7,746.2 L202.1,746.2 L202.5,746.1 L202.9,746.1 L203.3,746.0 L203.8,745.9 L204.2,745.9 L204.6,745.8 L205.0,745.7 L205.4,745.7 L205.8,745.6 L206.3,745.6 L206.7,745.5 L207.1,745.4 L207.5,745.4 L207.9,745.3 L208.3,745.2 L208.7,745.2 L209.2,745.1 L209.6,745.1 L210.0,745.0 L210.4,744.9 L210.8,744.9 L211.2,744.8 L211.7,744.7 L212.1,744.7 L212.5,744.6 L212.9,744.5 L213.3,744.5 L213.7,744.4 L214.1,744.3 L214.6,744.3 L215.0,744.2 L215.4,744.1 L215.8,744.1 L216.2,744.0 L216.6,743.9 L217.1,743.9 L217.5,743.8 L217.9,743.7 L218.3,743.7 L218.7,743.6 L219.1,743.5 L219.5,743.5 L220.0,743.4 L220.4,743.3 L220.8,743.2 L221.2,743.2 L221.6,743.1 L222.0,743.0 L222.5,743.0 L222.9,742.9 L223.3,742.8 L223.7,742.8 L224.1,742.7 L224.5,742.6 L224.9,742.5 L225.4,742.5 L225.8,742.4 L226.2,742.3 L226.6,742.3 L227.0,742.2 L227.4,742.1 L227.9,742.0 L228.3,742.0 L228.7,741.9 L229.1,741.8 L229.5,741.8 L229.9,741.7 L230.3,741.6 L230.8,741.5 L231.2,741.5 L231.6,741.4 L232.0,741.3 L232.4,741.2 L232.8,741.2 L233.3,741.1 L233.7,741.0 L234.1,740.9 L234.5,740.9 L234.9,740.8 L235.3,740.7 L235.7,740.6 L236.2,740.6 L236.6,740.5 L237.0,740.4 L237.4,740.3 L237.8,740.3 L238.2,740.2 L238.7,740.1 L239.1,740.0 L239.5,740.0 L239.9,739.9 L240.3,739.8 L240.7,739.7 L241.1,739.7 L241.6,739.6 L242.0,739.5 L242.4,739.4 L242.8,739.4 L243.2,739.3 L243.6,739.2 L244.1,739.1 L244.5,739.0 L244.9,739.0 L245.3,738.9 L245.7,738.8 L246.1,738.7 L246.5,738.7 L247.0,738.6 L247.4,738.5 L247.8,738.4 L248.2,738.3 L248.6,738.3 L249.0,738.2 L249.5,738.1 L249.9,738.0 L250.3,737.9 L250.7,737.9 L251.1,737.8 L251.5,737.7 L251.9,737.6 L252.4,737.5 L252.8,737.5 L253.2,737.4 L253.6,737.3 L254.0,737.2 L254.4,737.1 L254.9,737.1 L255.3,737.0 L255.7,736.9 L256.1,736.8 L256.5,736.7 L256.9,736.7 L257.3,736.6 L257.8,736.5 L258.2,736.4 L258.6,736.3 L259.0,736.3 L259.4,736.2 L259.8,736.1 L260.3,736.0 L260.7,735.9 L261.1,735.8 L261.5,735.8 L261.9,735.7 L262.3,735.6 L262.7,735.5 L263.2,735.4 L263.6,735.4 L264.0,735.3 L264.4,735.2 L264.8,735.1 L265.2,735.0 L265.6,734.9 L266.1,734.9 L266.5,734.8 L266.9,734.7 L267.3,734.6 L267.7,734.5 L268.1,734.4 L268.6,734.4 L269.0,734.3 L269.4,734.2 L269.8,734.1 L270.2,734.0 L270.6,733.9 L271.0,733.9 L271.5,733.8 L271.9,733.7 L272.3,733.6 L272.7,733.5 L273.1,733.4 L273.5,733.4 L274.0,733.3 L274.4,733.2 L274.8,733.1 L275.2,733.0 L275.6,732.9 L276.0,732.9 L276.4,732.8 L276.9,732.7 L277.3,732.6 L277.7,732.5 L278.1,732.4 L278.5,732.4 L278.9,732.3 L279.4,732.2 L279.8,732.1 L280.2,732.0 L280.6,731.9 L281.0,731.8 L281.4,731.8 L281.8,731.7 L282.3,731.6 L282.7,731.5 L283.1,731.4 L283.5,731.3 L283.9,731.3 L284.3,731.2 L284.8,731.1 L285.2,731.0 L285.6,730.9 L286.0,730.8 L286.4,730.7 L286.8,730.7 L287.2,730.6 L287.7,730.5 L288.1,730.4 L288.5,730.3 L288.9,730.2 L289.3,730.2 L289.7,730.1 L290.2,730.0 L290.6,729.9 L291.0,729.8 L291.4,729.7 L291.8,729.6 L292.2,729.6 L292.6,729.5 L293.1,729.4 L293.5,729.3 L293.9,729.2 L294.3,729.1 L294.7,729.1 L295.1,729.0 L295.6,728.9 L296.0,728.8 L296.4,728.7 L296.8,728.6 L297.2,728.5 L297.6,728.5 L298.0,728.4 L298.5,728.3 L298.9,728.2 L299.3,728.1 L299.7,728.0 L300.1,728.0 L300.5,727.9 L301.0,727.8 L301.4,727.7 L301.8,727.6 L302.2,727.5 L302.6,727.5 L303.0,727.4 L303.4,727.3 L303.9,727.2 L304.3,727.1 L304.7,727.0 L305.1,727.0 L305.5,726.9 L305.9,726.8 L306.4,726.7 L306.8,726.6 L307.2,726.5 L307.6,726.5 L308.0,726.4 L308.4,726.3 L308.8,726.2 L309.3,726.1 L309.7,726.0 L310.1,726.0 L310.5,725.9 L310.9,725.8 L311.3,725.7 L311.8,725.6 L312.2,725.5 L312.6,725.5 L313.0,725.4 L313.4,725.3 L313.8,725.2 L314.2,725.1 L314.7,725.1 L315.1,725.0 L315.5,724.9 L315.9,724.8 L316.3,724.7 L316.7,724.6 L317.2,724.6 L317.6,724.5 L318.0,724.4 L318.4,724.3 L318.8,724.2 L319.2,724.2 L319.6,724.1 L320.1,724.0 L320.5,723.9 L320.9,723.8 L321.3,723.8 L321.7,723.7 L322.1,723.6 L322.6,723.5 L323.0,723.4 L323.4,723.4 L323.8,723.3 L324.2,723.2 L324.6,723.1 L325.0,723.0 L325.5,723.0 L325.9,722.9 L326.3,722.8 L326.7,722.7 L327.1,722.6 L327.5,722.6 L328.0,722.5 L328.4,722.4 L328.8,722.3 L329.2,722.3 L329.6,722.2 L330.0,722.1 L330.4,722.0 L330.9,722.0 L331.3,721.9 L331.7,721.8 L332.1,721.7 L332.5,721.6 L332.9,721.6 L333.4,721.5 L333.8,721.4 L334.2,721.3 L334.6,721.3 L335.0,721.2 L335.4,721.1 L335.8,721.0 L336.3,721.0 L336.7,720.9 L337.1,720.8 L337.5,720.7 L337.9,720.7 L338.3,720.6 L338.8,720.5 L339.2,720.5 L339.6,720.4 L340.0,720.3 L340.4,720.2 L340.8,720.2 L341.2,720.1 L341.7,720.0 L342.1,719.9 L342.5,719.9 L342.9,719.8 L343.3,719.7 L343.7,719.7 L344.2,719.6 L344.6,719.5 L345.0,719.4 L345.4,719.4 L345.8,719.3 L346.2,719.2 L346.6,719.2 L347.1,719.1 L347.5,719.0 L347.9,719.0 L348.3,718.9 L348.7,718.8 L349.1,718.8 L349.6,718.7 L350.0,718.6 L350.4,718.6 L350.8,718.5 L351.2,718.4 L351.6,718.4 L352.0,718.3 L352.5,718.2 L352.9,718.2 L353.3,718.1 L353.7,718.0 L354.1,718.0 L354.5,717.9 L355.0,717.8 L355.4,717.8 L355.8,717.7 L356.2,717.6 L356.6,717.6 L357.0,717.5 L357.4,717.5 L357.9,717.4 L358.3,717.3 L358.7,717.3 L359.1,717.2 L359.5,717.1 L359.9,717.1 L360.4,717.0 L360.8,717.0 L361.2,716.9 L361.6,716.8 L362.0,716.8 L362.4,716.7 L362.8,716.7 L363.3,716.6 L363.7,716.6 L364.1,716.5 L364.5,716.4 L364.9,716.4 L365.3,716.3 L365.8,716.3 L366.2,716.2 L366.6,716.2 L367.0,716.1 L367.4,716.0 L367.8,716.0 L368.2,715.9 L368.7,715.9 L369.1,715.8 L369.5,715.8 L369.9,715.7 L370.3,715.7 L370.7,715.6 L371.2,715.6 L371.6,715.5 L372.0,715.5 L372.4,715.4 L372.8,715.4 L373.2,715.3 L373.6,715.3 L374.1,715.2 L374.5,715.2 L374.9,715.1 L375.3,715.1 L375.7,715.0 L376.1,715.0 L376.6,714.9 L377.0,714.9 L377.4,714.8 L377.8,714.8 L378.2,714.7 L378.6,714.7 L379.0,714.6 L379.5,714.6 L379.9,714.6 L380.3,714.5 L380.7,714.5 L381.1,714.4 L381.5,714.4 L382.0,714.3 L382.4,714.3 L382.8,714.3 L383.2,714.2 L383.6,714.2 L384.0,714.1 L384.4,714.1 L384.9,714.1 L385.3,714.0 L385.7,714.0 L386.1,713.9 L386.5,713.9 L386.9,713.9 L387.3,713.8 L387.8,713.8 L388.2,713.8 L388.6,713.7 L389.0,713.7 L389.4,713.7 L389.8,713.6 L390.3,713.6 L390.7,713.6 L391.1,713.5 L391.5,713.5 L391.9,713.5 L392.3,713.4 L392.7,713.4 L393.2,713.4 L393.6,713.3 L394.0,713.3 L394.4,713.3 L394.8,713.3 L395.2,713.2 L395.7,713.2 L396.1,713.2 L396.5,713.1 L396.9,713.1 L397.3,713.1 L397.7,713.1 L398.1,713.0 L398.6,713.0 L399.0,713.0 L399.4,713.0 L399.8,713.0 L400.2,712.9 L400.6,712.9 L401.1,712.9 L401.5,712.9 L401.9,712.9 L402.3,712.8 L402.7,712.8 L403.1,712.8 L403.5,712.8 L404.0,712.8 L404.4,712.7 L404.8,712.7 L405.2,712.7 L405.6,712.7 L406.0,712.7 L406.5,712.7 L406.9,712.7 L407.3,712.6 L407.7,712.6 L408.1,712.6 L408.5,712.6 L408.9,712.6 L409.4,712.6 L409.8,712.6 L410.2,712.6 L410.6,712.6 L411.0,712.6 L411.4,712.5 L411.9,712.5 L412.3,712.5 L412.7,712.5 L413.1,712.5 L413.5,712.5 L413.9,712.5 L414.3,712.5 L414.8,712.5 L415.2,712.5 L415.6,712.5 L416.0,712.5 L416.4,712.5 L416.8,712.5 L417.3,712.5 L417.7,712.5 L418.1,712.5 L418.5,712.5 L418.9,712.5 L419.3,712.5 L419.7,712.5 L420.2,712.5 L420.6,712.5 L421.0,712.5 L421.4,712.5 L421.8,712.5 L422.2,712.5 L422.7,712.5 L423.1,712.5 L423.5,712.6 L423.9,712.6 L424.3,712.6 L424.7,712.6 L425.1,712.6 L425.6,712.6 L426.0,712.6 L426.4,712.6 L426.8,712.6 L427.2,712.7 L427.6,712.7 L428.1,712.7 L428.5,712.7 L428.9,712.7 L429.3,712.7 L429.7,712.7 L430.1,712.8 L430.5,712.8 L431.0,712.8 L431.4,712.8 L431.8,712.8 L432.2,712.9 L432.6,712.9 L433.0,712.9 L433.5,712.9 L433.9,712.9 L434.3,713.0 L434.7,713.0 L435.1,713.0 L435.5,713.0 L435.9,713.1 L436.4,713.1 L436.8,713.1 L437.2,713.1 L437.6,713.2 L438.0,713.2 L438.4,713.2 L438.9,713.2 L439.3,713.3 L439.7,713.3 L440.1,713.3 L440.5,713.4 L440.9,713.4 L441.3,713.4 L441.8,713.5 L442.2,713.5 L442.6,713.5 L443.0,713.6 L443.4,713.6 L443.8,713.6 L444.3,713.7 L444.7,713.7 L445.1,713.7 L445.5,713.8 L445.9,713.8 L446.3,713.9 L446.7,713.9 L447.2,713.9 L447.6,714.0 L448.0,714.0 L448.4,714.1 L448.8,714.1 L449.2,714.1 L449.7,714.2 L450.1,714.2 L450.5,714.3 L450.9,714.3 L451.3,714.4 L451.7,714.4 L452.1,714.4 L452.6,714.5 L453.0,714.5 L453.4,714.6 L453.8,714.6 L454.2,714.7 L454.6,714.7 L455.1,714.8 L455.5,714.8 L455.9,714.9 L456.3,714.9 L456.7,715.0 L457.1,715.0 L457.5,715.1 L458.0,715.1 L458.4,715.2 L458.8,715.2 L459.2,715.3 L459.6,715.4 L460.0,715.4 L460.5,715.5 L460.9,715.5 L461.3,715.6 L461.7,715.6 L462.1,715.7 L462.5,715.7 L462.9,715.8 L463.4,715.9 L463.8,715.9 L464.2,716.0 L464.6,716.0 L465.0,716.1 L465.4,716.2 L465.9,716.2 L466.3,716.3 L466.7,716.4 L467.1,716.4 L467.5,716.5 L467.9,716.5 L468.3,716.6 L468.8,716.7 L469.2,716.7 L469.6,716.8 L470.0,716.9 L470.4,716.9 L470.8,717.0 L471.3,717.1 L471.7,717.1 L472.1,717.2 L472.5,717.3 L472.9,717.3 L473.3,717.4 L473.7,717.5 L474.2,717.6 L474.6,717.6 L475.0,717.7 L475.4,717.8 L475.8,717.8 L476.2,717.9 L476.7,718.0 L477.1,718.1 L477.5,718.1 L477.9,718.2 L478.3,718.3 L478.7,718.4 L479.1,718.4 L479.6,718.5 L480.0,718.6 L480.4,718.7 L480.8,718.7 L481.2,718.8 L481.6,718.9 L482.1,719.0 L482.5,719.1 L482.9,719.1 L483.3,719.2 L483.7,719.3 L484.1,719.4 L484.5,719.4 L485.0,719.5 L485.4,719.6 L485.8,719.7 L486.2,719.8 L486.6,719.9 L487.0,719.9 L487.5,720.0 L487.9,720.1 L488.3,720.2 L488.7,720.3 L489.1,720.4 L489.5,720.4 L489.9,720.5 L490.4,720.6 L490.8,720.7 L491.2,720.8 L491.6,720.9 L492.0,721.0 L492.4,721.0 L492.9,721.1 L493.3,721.2 L493.7,721.3 L494.1,721.4 L494.5,721.5 L494.9,721.6 L495.3,721.7 L495.8,721.8 L496.2,721.8 L496.6,721.9 L497.0,722.0 L497.4,722.1 L497.8,722.2 L498.3,722.3 L498.7,722.4 L499.1,722.5 L499.5,722.6 L499.9,722.7 L500.3,722.8 L500.7,722.9 L501.2,722.9 L501.6,723.0 L502.0,723.1 L502.4,723.2 L502.8,723.3 L503.2,723.4 L503.7,723.5 L504.1,723.6 L504.5,723.7 L504.9,723.8 L505.3,723.9 L505.7,724.0 L506.1,724.1 L506.6,724.2 L507.0,724.3 L507.4,724.4 L507.8,724.5 L508.2,724.6 L508.6,724.7 L509.0,724.8 L509.5,724.9 L509.9,725.0 L510.3,725.1 L510.7,725.2 L511.1,725.3 L511.5,725.4 L512.0,725.5 L512.4,725.6 L512.8,725.7 L513.2,725.8 L513.6,725.9 L514.0,726.0 L514.4,726.1 L514.9,726.2 L515.3,726.3 L515.7,726.4 L516.1,726.5 L516.5,726.6 L516.9,726.7 L517.4,726.8 L517.8,726.9 L518.2,727.0 L518.6,727.1 L519.0,727.2 L519.4,727.3 L519.8,727.4 L520.3,727.5 L520.7,727.6 L521.1,727.7 L521.5,727.8 L521.9,727.9 L522.3,728.0 L522.8,728.1 L523.2,728.2 L523.6,728.3 L524.0,728.4 L524.4,728.5 L524.8,728.7 L525.2,728.8 L525.7,728.9 L526.1,729.0 L526.5,729.1 L526.9,729.2 L527.3,729.3 L527.7,729.4 L528.2,729.5 L528.6,729.6 L529.0,729.7 L529.4,729.8 L529.8,729.9 L530.2,730.0 L530.6,730.1 L531.1,730.2 L531.5,730.4 L531.9,730.5 L532.3,730.6 L532.7,730.7 L533.1,730.8 L533.6,730.9 L534.0,731.0 L534.4,731.1 L534.8,731.2 L535.2,731.3 L535.6,731.4 L536.0,731.5 L536.5,731.6 L536.9,731.8 L537.3,731.9 L537.7,732.0 L538.1,732.1 L538.5,732.2 L539.0,732.3 L539.4,732.4 L539.8,732.5 L540.2,732.6 L540.6,732.7 L541.0,732.8 L541.4,732.9 L541.9,733.1 L542.3,733.2 L542.7,733.3 L543.1,733.4 L543.5,733.5 L543.9,733.6 L544.4,733.7 L544.8,733.8 L545.2,733.9 L545.6,734.0 L546.0,734.1 L546.4,734.3 L546.8,734.4 L547.3,734.5 L547.7,734.6 L548.1,734.7 L548.5,734.8 L548.9,734.9 L549.3,735.0 L549.8,735.1 L550.2,735.2 L550.6,735.3 L551.0,735.4 L551.4,735.6 L551.8,735.7 L552.2,735.8 L552.7,735.9 L553.1,736.0 L553.5,736.1 L553.9,736.2 L554.3,736.3 L554.7,736.4 L555.2,736.5 L555.6,736.6 L556.0,736.7 L556.4,736.9 L556.8,737.0 L557.2,737.1 L557.6,737.2 L558.1,737.3 L558.5,737.4 L558.9,737.5 L559.3,737.6 L559.7,737.7 L560.1,737.8 L560.6,737.9 L561.0,738.0 L561.4,738.1 L561.8,738.3 L562.2,738.4 L562.6,738.5 L563.0,738.6 L563.5,738.7 L563.9,738.8 L564.3,738.9 L564.7,739.0 L565.1,739.1 L565.5,739.2 L566.0,739.3 L566.4,739.4 L566.8,739.5 L567.2,739.6 L567.6,739.7 L568.0,739.8 L568.4,739.9 L568.9,740.1 L569.3,740.2 L569.7,740.3 L570.1,740.4 L570.5,740.5 L570.9,740.6 L571.4,740.7 L571.8,740.8 L572.2,740.9 L572.6,741.0 L573.0,741.1 L573.4,741.2 L573.8,741.3 L574.3,741.4 L574.7,741.5 L575.1,741.6 L575.5,741.7 L575.9,741.8 L576.3,741.9 L576.8,742.0 L577.2,742.1 L577.6,742.2 L578.0,742.3 L578.4,742.4 L578.8,742.5 L579.2,742.6 L579.7,742.7 L580.1,742.8 L580.5,742.9 L580.9,743.0 L581.3,743.1 L581.7,743.2 L582.2,743.3 L582.6,743.4 L583.0,743.5 L583.4,743.6 L583.8,743.7 L584.2,743.8 L584.6,743.9 L585.1,744.0 L585.5,744.1 L585.9,744.2 L586.3,744.3 L586.7,744.4 L587.1,744.5 L587.6,744.6 L588.0,744.7 L588.4,744.8 L588.8,744.8 L589.2,744.9 L589.6,745.0 L590.0,745.1 L590.5,745.2 L590.9,745.3 L591.3,745.4 L591.7,745.5 L592.1,745.6 L592.5,745.7 L593.0,745.8 L593.4,745.9 L593.8,746.0 L594.2,746.0 L594.6,746.1 L595.0,746.2 L595.4,746.3 L595.9,746.4 L596.3,746.5 L596.7,746.6 L597.1,746.7 L597.5,746.8 L597.9,746.8 L598.4,746.9 L598.8,747.0 L599.2,747.1 L599.6,747.2 L600.0,747.3 L600.4,747.4 L600.8,747.5 L601.3,747.5 L601.7,747.6 L602.1,747.7 L602.5,747.8 L602.9,747.9 L603.3,748.0 L603.8,748.0 L604.2,748.1 L604.6,748.2 L605.0,748.3 L605.4,748.4 L605.8,748.4 L606.2,748.5 L606.7,748.6 L607.1,748.7 L607.5,748.8 L607.9,748.8 L608.3,748.9 L608.7,749.0 L609.2,749.1 L609.6,749.2 L610.0,749.2 L610.4,749.3 L610.8,749.4 L611.2,749.5 L611.6,749.5 L612.1,749.6 L612.5,749.7 L612.9,749.8 L613.3,749.8 L613.7,749.9 L614.1,750.0 L614.6,750.1 L615.0,750.1 L615.4,750.2 L615.8,750.3 L616.2,750.3 L616.6,750.4 L617.0,750.5 L617.5,750.5 L617.9,750.6 L618.3,750.7 L618.7,750.8 L619.1,750.8 L619.5,750.9 L620.0,751.0 L620.4,751.0 L620.8,751.1 L621.2,751.1 L621.6,751.2 L622.0,751.3 L622.4,751.3 L622.9,751.4 L623.3,751.5 L623.7,751.5 L624.1,751.6 L624.5,751.7 L624.9,751.7 L625.3,751.8 L625.8,751.8 L626.2,751.9 L626.6,751.9 L627.0,752.0 L627.4,752.1 L627.8,752.1 L628.3,752.2 L628.7,752.2 L629.1,752.3 L629.5,752.3 L629.9,752.4 L630.3,752.5 L630.7,752.5 L631.2,752.6 L631.6,752.6 L632.0,752.7 L632.4,752.7 L632.8,752.8 L633.2,752.8 L633.7,752.9 L634.1,752.9 L634.5,753.0 L634.9,753.0 L635.3,753.1 L635.7,753.1 L636.1,753.1 L636.6,753.2 L637.0,753.2 L637.4,753.3 L637.8,753.3 L638.2,753.4 L638.6,753.4 L639.1,753.5 L639.5,753.5 L639.9,753.5 L640.3,753.6 L640.7,753.6 L641.1,753.7 L641.5,753.7 L642.0,753.7 L642.4,753.8 L642.8,753.8 L643.2,753.8 L643.6,753.9 L644.0,753.9 L644.5,753.9 L644.9,754.0 L645.3,754.0 L645.7,754.0 L646.1,754.1 L646.5,754.1 L646.9,754.1 L647.4,754.2 L647.8,754.2 L648.2,754.2 L648.6,754.3 L649.0,754.3 L649.4,754.3 L649.9,754.3 L650.3,754.4 L650.7,754.4 L651.1,754.4 L651.5,754.4 L651.9,754.5 L652.3,754.5 L652.8,754.5 L653.2,754.5 L653.6,754.5 L654.0,754.6 L654.4,754.6 L654.8,754.6 L655.3,754.6 L655.7,754.6 L656.1,754.6 L656.5,754.7 L656.9,754.7 L657.3,754.7 L657.7,754.7 L658.2,754.7 L658.6,754.7 L659.0,754.7 L659.4,754.7 L659.8,754.8 L660.2,754.8 L660.7,754.8 L661.1,754.8 L661.5,754.8 L661.9,754.8 L662.3,754.8 L662.7,754.8 L663.1,754.8 L663.6,754.8 L664.0,754.8 L664.4,754.8 L664.8,754.8 L665.2,754.8 L665.6,754.8 L666.1,754.8 L666.5,754.8 L666.9,754.8 L667.3,754.8 L667.7,754.8 L668.1,754.8 L668.5,754.8 L669.0,754.8 L669.4,754.8 L669.8,754.8 L670.2,754.8 L670.6,754.7 L671.0,754.7 L671.5,754.7 L671.9,754.7 L672.3,754.7 L672.7,754.7 L673.1,754.7 L673.5,754.7 L673.9,754.6 L674.4,754.6 L674.8,754.6 L675.2,754.6 L675.6,754.6 L676.0,754.5 L676.4,754.5 L676.9,754.5 L677.3,754.5 L677.7,754.5 L678.1,754.4 L678.5,754.4 L678.9,754.4 L679.3,754.4 L679.8,754.3 L680.2,754.3 L680.6,754.3 L681.0,754.2 L681.4,754.2 L681.8,754.2 L682.3,754.2 L682.7,754.1 L683.1,754.1 L683.5,754.0"/>
<path d="M85.8,789.8 L86.2,789.8 L86.6,789.8 L87.0,789.8 L87.5,789.9 L87.9,789.9 L88.3,789.9 L88.7,789.9 L89.1,789.9 L89.5,789.9 L90.0,789.9 L90.4,790.0 L90.8,790.0 L91.2,790.0 L91.6,790.0 L92.0,790.0 L92.4,790.0 L92.9,790.1 L93.3,790.1 L93.7,790.1 L94.1,790.1 L94.5,790.1 L94.9,790.1 L95.4,790.2 L95.8,790.2 L96.2,790.2 L96.6,790.2 L97.0,790.2 L97.4,790.2 L97.8,790.3 L98.3,790.3 L98.7,790.3 L99.1,790.3 L99.5,790.3 L99.9,790.3 L100.3,790.4 L100.8,790.4 L101.2,790.4 L101.6,790.4 L102.0,790.4 L102.4,790.4 L102.8,790.5 L103.2,790.5 L103.7,790.5 L104.1,790.5 L104.5,790.5 L104.9,790.5 L105.3,790.6 L105.7,790.6 L106.2,790.6 L106.6,790.6 L107.0,790.6 L107.4,790.7 L107.8,790.7 L108.2,790.7 L108.6,790.7 L109.1,790.7 L109.5,790.7 L109.9,790.8 L110.3,790.8 L110.7,790.8 L111.1,790.8 L111.6,790.8 L112.0,790.9 L112.4,790.9 L112.8,790.9 L113.2,790.9 L113.6,790.9 L114.0,791.0 L114.5,791.0 L114.9,791.0 L115.3,791.0 L115.7,791.0 L116.1,791.0 L116.5,791.1 L117.0,791.1 L117.4,791.1 L117.8,791.1 L118.2,791.1 L118.6,791.2 L119.0,791.2 L119.4,791.2 L119.9,791.2 L120.3,791.2 L120.7,791.3 L121.1,791.3 L121.5,791.3 L121.9,791.3 L122.4,791.3 L122.8,791.4 L123.2,791.4 L123.6,791.4 L124.0,791.4 L124.4,791.4 L124.8,791.5 L125.3,791.5 L125.7,791.5 L126.1,791.5 L126.5,791.5 L126.9,791.6 L127.3,791.6 L127.8,791.6 L128.2,791.6 L128.6,791.6 L129.0,791.7 L129.4,791.7 L129.8,791.7 L130.2,791.7 L130.7,791.7 L131.1,791.8 L131.5,791.8 L131.9,791.8 L132.3,791.8 L132.7,791.9 L133.2,791.9 L133.6,791.9 L134.0,791.9 L134.4,791.9 L134.8,792.0 L135.2,792.0 L135.6,792.0 L136.1,792.0 L136.5,792.0 L136.9,792.1 L137.3,792.1 L137.7,792.1 L138.1,792.1 L138.6,792.2 L139.0,792.2 L139.4,792.2 L139.8,792.2 L140.2,792.2 L140.6,792.3 L141.0,792.3 L141.5,792.3 L141.9,792.3 L142.3,792.4 L142.7,792.4 L143.1,792.4 L143.5,792.4 L144.0,792.4 L144.4,792.5 L144.8,792.5 L145.2,792.5 L145.6,792.5 L146.0,792.6 L146.4,792.6 L146.9,792.6 L147.3,792.6 L147.7,792.6 L148.1,792.7 L148.5,792.7 L148.9,792.7 L149.3,792.7 L149.8,792.8 L150.2,792.8 L150.6,792.8 L151.0,792.8 L151.4,792.9 L151.8,792.9 L152.3,792.9 L152.7,792.9 L153.1,792.9 L153.5,793.0 L153.9,793.0 L154.3,793.0 L154.7,793.0 L155.2,793.1 L155.6,793.1 L156.0,793.1 L156.4,793.1 L156.8,793.2 L157.2,793.2 L157.7,793.2 L158.1,793.2 L158.5,793.3 L158.9,793.3 L159.3,793.3 L159.7,793.3 L160.1,793.3 L160.6,793.4 L161.0,793.4 L161.4,793.4 L161.8,793.4 L162.2,793.5 L162.6,793.5 L163.1,793.5 L163.5,793.5 L163.9,793.6 L164.3,793.6 L164.7,793.6 L165.1,793.6 L165.5,793.7 L166.0,793.7 L166.4,793.7 L166.8,793.7 L167.2,793.8 L167.6,793.8 L168.0,793.8 L168.5,793.8 L168.9,793.9 L169.3,793.9 L169.7,793.9 L170.1,793.9 L170.5,794.0 L170.9,794.0 L171.4,794.0 L171.8,794.0 L172.2,794.1 L172.6,794.1 L173.0,794.1 L173.4,794.1 L173.9,794.2 L174.3,794.2 L174.7,794.2 L175.1,794.2 L175.5,794.3 L175.9,794.3 L176.3,794.3 L176.8,794.3 L177.2,794.4 L177.6,794.4 L178.0,794.4 L178.4,794.4 L178.8,794.5 L179.3,794.5 L179.7,794.5 L180.1,794.6 L180.5,794.6 L180.9,794.6 L181.3,794.6 L181.7,794.7 L182.2,794.7 L182.6,794.7 L183.0,794.7 L183.4,794.8 L183.8,794.8 L184.2,794.8 L184.7,794.8 L185.1,794.9 L185.5,794.9 L185.9,794.9 L186.3,794.9 L186.7,795.0 L187.1,795.0 L187.6,795.0 L188.0,795.1 L188.4,795.1 L188.8,795.1 L189.2,795.1 L189.6,795.2 L190.1,795.2 L190.5,795.2 L190.9,795.2 L191.3,795.3 L191.7,795.3 L192.1,795.3 L192.5,795.4 L193.0,795.4 L193.4,795.4 L193.8,795.4 L194.2,795.5 L194.6,795.5 L195.0,795.5 L195.5,795.5 L195.9,795.6 L196.3,795.6 L196.7,795.6 L197.1,795.7 L197.5,795.7 L197.9,795.7 L198.4,795.7 L198.8,795.8 L199.2,795.8 L199.6,795.8 L200.0,795.9 L200.4,795.9 L200.9,795.9 L201.3,795.9 L201.7,796.0 L202.1,796.0 L202.5,796.0 L202.9,796.0 L203.3,796.1 L203.8,796.1 L204.2,796.1 L204.6,796.2 L205.0,796.2 L205.4,796.2 L205.8,796.2 L206.3,796.3 L206.7,796.3 L207.1,796.3 L207.5,796.4 L207.9,796.4 L208.3,796.4 L208.7,796.4 L209.2,796.5 L209.6,796.5 L210.0,796.5 L210.4,796.6 L210.8,796.6 L211.2,796.6 L211.7,796.6 L212.1,796.7 L212.5,796.7 L212.9,796.7 L213.3,796.8 L213.7,796.8 L214.1,796.8 L214.6,796.8 L215.0,796.9 L215.4,796.9 L215.8,796.9 L216.2,797.0 L216.6,797.0 L217.1,797.0 L217.5,797.1 L217.9,797.1 L218.3,797.1 L218.7,797.1 L219.1,797.2 L219.5,797.2 L220.0,797.2 L220.4,797.3 L220.8,797.3 L221.2,797.3 L221.6,797.3 L222.0,797.4 L222.5,797.4 L222.9,797.4 L223.3,797.5 L223.7,797.5 L224.1,797.5 L224.5,797.6 L224.9,797.6 L225.4,797.6 L225.8,797.6 L226.2,797.7 L226.6,797.7 L227.0,797.7 L227.4,797.8 L227.9,797.8 L228.3,797.8 L228.7,797.9 L229.1,797.9 L229.5,797.9 L229.9,797.9 L230.3,798.0 L230.8,798.0 L231.2,798.0 L231.6,798.1 L232.0,798.1 L232.4,798.1 L232.8,798.2 L233.3,798.2 L233.7,798.2 L234.1,798.3 L234.5,798.3 L234.9,798.3 L235.3,798.3 L235.7,798.4 L236.2,798.4 L236.6,798.4 L237.0,798.5 L237.4,798.5 L237.8,798.5 L238.2,798.6 L238.7,798.6 L239.1,798.6 L239.5,798.7 L239.9,798.7 L240.3,798.7 L240.7,798.7 L241.1,798.8 L241.6,798.8 L242.0,798.8 L242.4,798.9 L242.8,798.9 L243.2,798.9 L243.6,799.0 L244.1,799.0 L244.5,799.0 L244.9,799.1 L245.3,799.1 L245.7,799.1 L246.1,799.2 L246.5,799.2 L247.0,799.2 L247.4,799.3 L247.8,799.3 L248.2,799.3 L248.6,799.3 L249.0,799.4 L249.5,799.4 L249.9,799.4 L250.3,799.5 L250.7,799.5 L251.1,799.5 L251.5,799.6 L251.9,799.6 L252.4,799.6 L252.8,799.7 L253.2,799.7 L253.6,799.7 L254.0,799.8 L254.4,799.8 L254.9,799.8 L255.3,799.9 L255.7,799.9 L256.1,799.9 L256.5,800.0 L256.9,800.0 L257.3,800.0 L257.8,800.0 L258.2,800.1 L258.6,800.1 L259.0,800.1 L259.4,800.2 L259.8,800.2 L260.3,800.2 L260.7,800.3 L261.1,800.3 L261.5,800.3 L261.9,800.4 L262.3,800.4 L262.7,800.4 L263.2,800.5 L263.6,800.5 L264.0,800.5 L264.4,800.6 L264.8,800.6 L265.2,800.6 L265.6,800.7 L266.1,800.7 L266.5,800.7 L266.9,800.8 L267.3,800.8 L267.7,800.8 L268.1,800.9 L268.6,800.9 L269.0,800.9 L269.4,801.0 L269.8,801.0 L270.2,801.0 L270.6,801.1 L271.0,801.1 L271.5,801.1 L271.9,801.2 L272.3,801.2 L272.7,801.2 L273.1,801.3 L273.5,801.3 L274.0,801.3 L274.4,801.4 L274.8,801.4 L275.2,801.4 L275.6,801.5 L276.0,801.5 L276.4,801.5 L276.9,801.6 L277.3,801.6 L277.7,801.6 L278.1,801.7 L278.5,801.7 L278.9,801.7 L279.4,801.8 L279.8,801.8 L280.2,801.8 L280.6,801.9 L281.0,801.9 L281.4,801.9 L281.8,802.0 L282.3,802.0 L282.7,802.0 L283.1,802.1 L283.5,802.1 L283.9,802.1 L284.3,802.2 L284.8,802.2 L285.2,802.2 L285.6,802.3 L286.0,802.3 L286.4,802.3 L286.8,802.4 L287.2,802.4 L287.7,802.4 L288.1,802.5 L288.5,802.5 L288.9,802.5 L289.3,802.6 L289.7,802.6 L290.2,802.6 L290.6,802.7 L291.0,802.7 L291.4,802.7 L291.8,802.8 L292.2,802.8 L292.6,802.8 L293.1,802.9 L293.5,802.9 L293.9,802.9 L294.3,803.0 L294.7,803.0 L295.1,803.0 L295.6,803.1 L296.0,803.1 L296.4,803.2 L296.8,803.2 L297.2,803.2 L297.6,803.3 L298.0,803.3 L298.5,803.3 L298.9,803.4 L299.3,803.4 L299.7,803.4 L300.1,803.5 L300.5,803.5 L301.0,803.5 L301.4,803.6 L301.8,803.6 L302.2,803.6 L302.6,803.7 L303.0,803.7 L303.4,803.7 L303.9,803.8 L304.3,803.8 L304.7,803.8 L305.1,803.9 L305.5,803.9 L305.9,803.9 L306.4,804.0 L306.8,804.0 L307.2,804.0 L307.6,804.1 L308.0,804.1 L308.4,804.2 L308.8,804.2 L309.3,804.2 L309.7,804.3 L310.1,804.3 L310.5,804.3 L310.9,804.4 L311.3,804.4 L311.8,804.4 L312.2,804.5 L312.6,804.5 L313.0,804.5 L313.4,804.6 L313.8,804.6 L314.2,804.6 L314.7,804.7 L315.1,804.7 L315.5,804.7 L315.9,804.8 L316.3,804.8 L316.7,804.9 L317.2,804.9 L317.6,804.9 L318.0,805.0 L318.4,805.0 L318.8,805.0 L319.2,805.1 L319.6,805.1 L320.1,805.1 L320.5,805.2 L320.9,805.2 L321.3,805.2 L321.7,805.3 L322.1,805.3 L322.6,805.3 L323.0,805.4 L323.4,805.4 L323.8,805.5 L324.2,805.5 L324.6,805.5 L325.0,805.6 L325.5,805.6 L325.9,805.6 L326.3,805.7 L326.7,805.7 L327.1,805.7 L327.5,805.8 L328.0,805.8 L328.4,805.8 L328.8,805.9 L329.2,805.9 L329.6,806.0 L330.0,806.0 L330.4,806.0 L330.9,806.1 L331.3,806.1 L331.7,806.1 L332.1,806.2 L332.5,806.2 L332.9,806.2 L333.4,806.3 L333.8,806.3 L334.2,806.3 L334.6,806.4 L335.0,806.4 L335.4,806.5 L335.8,806.5 L336.3,806.5 L336.7,806.6 L337.1,806.6 L337.5,806.6 L337.9,806.7 L338.3,806.7 L338.8,806.7 L339.2,806.8 L339.6,806.8 L340.0,806.8 L340.4,806.9 L340.8,806.9 L341.2,807.0 L341.7,807.0 L342.1,807.0 L342.5,807.1 L342.9,807.1 L343.3,807.1 L343.7,807.2 L344.2,807.2 L344.6,807.2 L345.0,807.3 L345.4,807.3 L345.8,807.4 L346.2,807.4 L346.6,807.4 L347.1,807.5 L347.5,807.5 L347.9,807.5 L348.3,807.6 L348.7,807.6 L349.1,807.6 L349.6,807.7 L350.0,807.7 L350.4,807.8 L350.8,807.8 L351.2,807.8 L351.6,807.9 L352.0,807.9 L352.5,807.9 L352.9,808.0 L353.3,808.0 L353.7,808.0 L354.1,808.1 L354.5,808.1 L355.0,808.2 L355.4,808.2 L355.8,808.2 L356.2,808.3 L356.6,808.3 L357.0,808.3 L357.4,808.4 L357.9,808.4 L358.3,808.4 L358.7,808.5 L359.1,808.5 L359.5,808.6 L359.9,808.6 L360.4,808.6 L360.8,808.7 L361.2,808.7 L361.6,808.7 L362.0,808.8 L362.4,808.8 L362.8,808.8 L363.3,808.9 L363.7,808.9 L364.1,809.0 L364.5,809.0 L364.9,809.0 L365.3,809.1 L365.8,809.1 L366.2,809.1 L366.6,809.2 L367.0,809.2 L367.4,809.2 L367.8,809.3 L368.2,809.3 L368.7,809.4 L369.1,809.4 L369.5,809.4 L369.9,809.5 L370.3,809.5 L370.7,809.5 L371.2,809.6 L371.6,809.6 L372.0,809.6 L372.4,809.7 L372.8,809.7 L373.2,809.8 L373.6,809.8 L374.1,809.8 L374.5,809.9 L374.9,809.9 L375.3,809.9 L375.7,810.0 L376.1,810.0 L376.6,810.1 L377.0,810.1 L377.4,810.1 L377.8,810.2 L378.2,810.2 L378.6,810.2 L379.0,810.3 L379.5,810.3 L379.9,810.3 L380.3,810.4 L380.7,810.4 L381.1,810.5 L381.5,810.5 L382.0,810.5 L382.4,810.6 L382.8,810.6 L383.2,810.6 L383.6,810.7 L384.0,810.7 L384.4,810.8 L384.9,810.8 L385.3,810.8 L385.7,810.9 L386.1,810.9 L386.5,810.9 L386.9,811.0 L387.3,811.0 L387.8,811.0 L388.2,811.1 L388.6,811.1 L389.0,811.2 L389.4,811.2 L389.8,811.2 L390.3,811.3 L390.7,811.3 L391.1,811.3 L391.5,811.4 L391.9,811.4 L392.3,811.5 L392.7,811.5 L393.2,811.5 L393.6,811.6 L394.0,811.6 L394.4,811.6 L394.8,811.7 L395.2,811.7 L395.7,811.7 L396.1,811.8 L396.5,811.8 L396.9,811.9 L397.3,811.9 L397.7,811.9 L398.1,812.0 L398.6,812.0 L399.0,812.0 L399.4,812.1 L399.8,812.1 L400.2,812.2 L400.6,812.2 L401.1,812.2 L401.5,812.3 L401.9,812.3 L402.3,812.3 L402.7,812.4 L403.1,812.4 L403.5,812.4 L404.0,812.5 L404.4,812.5 L404.8,812.6 L405.2,812.6 L405.6,812.6 L406.0,812.7 L406.5,812.7 L406.9,812.7 L407.3,812.8 L407.7,812.8 L408.1,812.9 L408.5,812.9 L408.9,812.9 L409.4,813.0 L409.8,813.0 L410.2,813.0 L410.6,813.1 L411.0,813.1 L411.4,813.2 L411.9,813.2 L412.3,813.2 L412.7,813.3 L413.1,813.3 L413.5,813.3 L413.9,813.4 L414.3,813.4 L414.8,813.4 L415.2,813.5 L415.6,813.5 L416.0,813.6 L416.4,813.6 L416.8,813.6 L417.3,813.7 L417.7,813.7 L418.1,813.7 L418.5,813.8 L418.9,813.8 L419.3,813.9 L419.7,813.9 L420.2,813.9 L420.6,814.0 L421.0,814.0 L421.4,814.0 L421.8,814.1 L422.2,814.1 L422.7,814.1 L423.1,814.2 L423.5,814.2 L423.9,814.3 L424.3,814.3 L424.7,814.3 L425.1,814.4 L425.6,814.4 L426.0,814.4 L426.4,814.5 L426.8,814.5 L427.2,814.6 L427.6,814.6 L428.1,814.6 L428.5,814.7 L428.9,814.7 L429.3,814.7 L429.7,814.8 L430.1,814.8 L430.5,814.8 L431.0,814.9 L431.4,814.9 L431.8,815.0 L432.2,815.0 L432.6,815.0 L433.0,815.1 L433.5,815.1 L433.9,815.1 L434.3,815.2 L434.7,815.2 L435.1,815.3 L435.5,815.3 L435.9,815.3 L436.4,815.4 L436.8,815.4 L437.2,815.4 L437.6,815.5 L438.0,815.5 L438.4,815.5 L438.9,815.6 L439.3,815.6 L439.7,815.7 L440.1,815.7 L440.5,815.7 L440.9,815.8 L441.3,815.8 L441.8,815.8 L442.2,815.9 L442.6,815.9 L443.0,815.9 L443.4,816.0 L443.8,816.0 L444.3,816.1 L444.7,816.1 L445.1,816.1 L445.5,816.2 L445.9,816.2 L446.3,816.2 L446.7,816.3 L447.2,816.3 L447.6,816.4 L448.0,816.4 L448.4,816.4 L448.8,816.5 L449.2,816.5 L449.7,816.5 L450.1,816.6 L450.5,816.6 L450.9,816.6 L451.3,816.7 L451.7,816.7 L452.1,816.8 L452.6,816.8 L453.0,816.8 L453.4,816.9 L453.8,816.9 L454.2,816.9 L454.6,817.0 L455.1,817.0 L455.5,817.0 L455.9,817.1 L456.3,817.1 L456.7,817.2 L457.1,817.2 L457.5,817.2 L458.0,817.3 L458.4,817.3 L458.8,817.3 L459.2,817.4 L459.6,817.4 L460.0,817.4 L460.5,817.5 L460.9,817.5 L461.3,817.6 L461.7,817.6 L462.1,817.6 L462.5,817.7 L462.9,817.7 L463.4,817.7 L463.8,817.8 L464.2,817.8 L464.6,817.8 L465.0,817.9 L465.4,817.9 L465.9,818.0 L466.3,818.0 L466.7,818.0 L467.1,818.1 L467.5,818.1 L467.9,818.1 L468.3,818.2 L468.8,818.2 L469.2,818.2 L469.6,818.3 L470.0,818.3 L470.4,818.4 L470.8,818.4 L471.3,818.4 L471.7,818.5 L472.1,818.5 L472.5,818.5 L472.9,818.6 L473.3,818.6 L473.7,818.6 L474.2,818.7 L474.6,818.7 L475.0,818.7 L475.4,818.8 L475.8,818.8 L476.2,818.9 L476.7,818.9 L477.1,818.9 L477.5,819.0 L477.9,819.0 L478.3,819.0 L478.7,819.1 L479.1,819.1 L479.6,819.1 L480.0,819.2 L480.4,819.2 L480.8,819.2 L481.2,819.3 L481.6,819.3 L482.1,819.4 L482.5,819.4 L482.9,819.4 L483.3,819.5 L483.7,819.5 L484.1,819.5 L484.5,819.6 L485.0,819.6 L485.4,819.6 L485.8,819.7 L486.2,819.7 L486.6,819.7 L487.0,819.8 L487.5,819.8 L487.9,819.9 L488.3,819.9 L488.7,819.9 L489.1,820.0 L489.5,820.0 L489.9,820.0 L490.4,820.1 L490.8,820.1 L491.2,820.1 L491.6,820.2 L492.0,820.2 L492.4,820.2 L492.9,820.3 L493.3,820.3 L493.7,820.4 L494.1,820.4 L494.5,820.4 L494.9,820.5 L495.3,820.5 L495.8,820.5 L496.2,820.6 L496.6,820.6 L497.0,820.6 L497.4,820.7 L497.8,820.7 L498.3,820.7 L498.7,820.8 L499.1,820.8 L499.5,820.8 L499.9,820.9 L500.3,820.9 L500.7,820.9 L501.2,821.0 L501.6,821.0 L502.0,821.1 L502.4,821.1 L502.8,821.1 L503.2,821.2 L503.7,821.2 L504.1,821.2 L504.5,821.3 L504.9,821.3 L505.3,821.3 L505.7,821.4 L506.1,821.4 L506.6,821.4 L507.0,821.5 L507.4,821.5 L507.8,821.5 L508.2,821.6 L508.6,821.6 L509.0,821.6 L509.5,821.7 L509.9,821.7 L510.3,821.8 L510.7,821.8 L511.1,821.8 L511.5,821.9 L512.0,821.9 L512.4,821.9 L512.8,822.0 L513.2,822.0 L513.6,822.0 L514.0,822.1 L514.4,822.1 L514.9,822.1 L515.3,822.2 L515.7,822.2 L516.1,822.2 L516.5,822.3 L516.9,822.3 L517.4,822.3 L517.8,822.4 L518.2,822.4 L518.6,822.4 L519.0,822.5 L519.4,822.5 L519.8,822.5 L520.3,822.6 L520.7,822.6 L521.1,822.6 L521.5,822.7 L521.9,822.7 L522.3,822.7 L522.8,822.8 L523.2,822.8 L523.6,822.9 L524.0,822.9 L524.4,822.9 L524.8,823.0 L525.2,823.0 L525.7,823.0 L526.1,823.1 L526.5,823.1 L526.9,823.1 L527.3,823.2 L527.7,823.2 L528.2,823.2 L528.6,823.3 L529.0,823.3 L529.4,823.3 L529.8,823.4 L530.2,823.4 L530.6,823.4 L531.1,823.5 L531.5,823.5 L531.9,823.5 L532.3,823.6 L532.7,823.6 L533.1,823.6 L533.6,823.7 L534.0,823.7 L534.4,823.7 L534.8,823.8 L535.2,823.8 L535.6,823.8 L536.0,823.9 L536.5,823.9 L536.9,823.9 L537.3,824.0 L537.7,824.0 L538.1,824.0 L538.5,824.1 L539.0,824.1 L539.4,824.1 L539.8,824.2 L540.2,824.2 L540.6,824.2 L541.0,824.3 L541.4,824.3 L541.9,824.3 L542.3,824.4 L542.7,824.4 L543.1,824.4 L543.5,824.5 L543.9,824.5 L544.4,824.5 L544.8,824.6 L545.2,824.6 L545.6,824.6 L546.0,824.7 L546.4,824.7 L546.8,824.7 L547.3,824.8 L547.7,824.8 L548.1,824.8 L548.5,824.9 L548.9,824.9 L549.3,824.9 L549.8,825.0 L550.2,825.0 L550.6,825.0 L551.0,825.1 L551.4,825.1 L551.8,825.1 L552.2,825.2 L552.7,825.2 L553.1,825.2 L553.5,825.2 L553.9,825.3 L554.3,825.3 L554.7,825.3 L555.2,825.4 L555.6,825.4 L556.0,825.4 L556.4,825.5 L556.8,825.5 L557.2,825.5 L557.6,825.6 L558.1,825.6 L558.5,825.6 L558.9,825.7 L559.3,825.7 L559.7,825.7 L560.1,825.8 L560.6,825.8 L561.0,825.8 L561.4,825.9 L561.8,825.9 L562.2,825.9 L562.6,826.0 L563.0,826.0 L563.5,826.0 L563.9,826.0 L564.3,826.1 L564.7,826.1 L565.1,826.1 L565.5,826.2 L566.0,826.2 L566.4,826.2 L566.8,826.3 L567.2,826.3 L567.6,826.3 L568.0,826.4 L568.4,826.4 L568.9,826.4 L569.3,826.5 L569.7,826.5 L570.1,826.5 L570.5,826.6 L570.9,826.6 L571.4,826.6 L571.8,826.6 L572.2,826.7 L572.6,826.7 L573.0,826.7 L573.4,826.8 L573.8,826.8 L574.3,826.8 L574.7,826.9 L575.1,826.9 L575.5,826.9 L575.9,827.0 L576.3,827.0 L576.8,827.0 L577.2,827.1 L577.6,827.1 L578.0,827.1 L578.4,827.1 L578.8,827.2 L579.2,827.2 L579.7,827.2 L580.1,827.3 L580.5,827.3 L580.9,827.3 L581.3,827.4 L581.7,827.4 L582.2,827.4 L582.6,827.4 L583.0,827.5 L583.4,827.5 L583.8,827.5 L584.2,827.6 L584.6,827.6 L585.1,827.6 L585.5,827.7 L585.9,827.7 L586.3,827.7 L586.7,827.8 L587.1,827.8 L587.6,827.8 L588.0,827.8 L588.4,827.9 L588.8,827.9 L589.2,827.9 L589.6,828.0 L590.0,828.0 L590.5,828.0 L590.9,828.1 L591.3,828.1 L591.7,828.1 L592.1,828.1 L592.5,828.2 L593.0,828.2 L593.4,828.2 L593.8,828.3 L594.2,828.3 L594.6,828.3 L595.0,828.3 L595.4,828.4 L595.9,828.4 L596.3,828.4 L596.7,828.5 L597.1,828.5 L597.5,828.5 L597.9,828.6 L598.4,828.6 L598.8,828.6 L599.2,828.6 L599.6,828.7 L600.0,828.7 L600.4,828.7 L600.8,828.8 L601.3,828.8 L601.7,828.8 L602.1,828.8 L602.5,828.9 L602.9,828.9 L603.3,828.9 L603.8,829.0 L604.2,829.0 L604.6,829.0 L605.0,829.0 L605.4,829.1 L605.8,829.1 L606.2,829.1 L606.7,829.2 L607.1,829.2 L607.5,829.2 L607.9,829.2 L608.3,829.3 L608.7,829.3 L609.2,829.3 L609.6,829.4 L610.0,829.4 L610.4,829.4 L610.8,829.4 L611.2,829.5 L611.6,829.5 L612.1,829.5 L612.5,829.6 L612.9,829.6 L613.3,829.6 L613.7,829.6 L614.1,829.7 L614.6,829.7 L615.0,829.7 L615.4,829.8 L615.8,829.8 L616.2,829.8 L616.6,829.8 L617.0,829.9 L617.5,829.9 L617.9,829.9 L618.3,829.9 L618.7,830.0 L619.1,830.0 L619.5,830.0 L620.0,830.1 L620.4,830.1 L620.8,830.1 L621.2,830.1 L621.6,830.2 L622.0,830.2 L622.4,830.2 L622.9,830.2 L623.3,830.3 L623.7,830.3 L624.1,830.3 L624.5,830.4 L624.9,830.4 L625.3,830.4 L625.8,830.4 L626.2,830.5 L626.6,830.5 L627.0,830.5 L627.4,830.5 L627.8,830.6 L628.3,830.6 L628.7,830.6 L629.1,830.6 L629.5,830.7 L629.9,830.7 L630.3,830.7 L630.7,830.8 L631.2,830.8 L631.6,830.8 L632.0,830.8 L632.4,830.9 L632.8,830.9 L633.2,830.9 L633.7,830.9 L634.1,831.0 L634.5,831.0 L634.9,831.0 L635.3,831.0 L635.7,831.1 L636.1,831.1 L636.6,831.1 L637.0,831.1 L637.4,831.2 L637.8,831.2 L638.2,831.2 L638.6,831.3 L639.1,831.3 L639.5,831.3 L639.9,831.3 L640.3,831.4 L640.7,831.4 L641.1,831.4 L641.5,831.4 L642.0,831.5 L642.4,831.5 L642.8,831.5 L643.2,831.5 L643.6,831.6 L644.0,831.6 L644.5,831.6 L644.9,831.6 L645.3,831.7 L645.7,831.7 L646.1,831.7 L646.5,831.7 L646.9,831.8 L647.4,831.8 L647.8,831.8 L648.2,831.8 L648.6,831.9 L649.0,831.9 L649.4,831.9 L649.9,831.9 L650.3,832.0 L650.7,832.0 L651.1,832.0 L651.5,832.0 L651.9,832.0 L652.3,832.1 L652.8,832.1 L653.2,832.1 L653.6,832.1 L654.0,832.2 L654.4,832.2 L654.8,832.2 L655.3,832.2 L655.7,832.3 L656.1,832.3 L656.5,832.3 L656.9,832.3 L657.3,832.4 L657.7,832.4 L658.2,832.4 L658.6,832.4 L659.0,832.5 L659.4,832.5 L659.8,832.5 L660.2,832.5 L660.7,832.6 L661.1,832.6 L661.5,832.6 L661.9,832.6 L662.3,832.6 L662.7,832.7 L663.1,832.7 L663.6,832.7 L664.0,832.7 L664.4,832.8 L664.8,832.8 L665.2,832.8 L665.6,832.8 L666.1,832.9 L666.5,832.9 L666.9,832.9 L667.3,832.9 L667.7,832.9 L668.1,833.0 L668.5,833.0 L669.0,833.0 L669.4,833.0 L669.8,833.1 L670.2,833.1 L670.6,833.1 L671.0,833.1 L671.5,833.1 L671.9,833.2 L672.3,833.2 L672.7,833.2 L673.1,833.2 L673.5,833.3 L673.9,833.3 L674.4,833.3 L674.8,833.3 L675.2,833.3 L675.6,833.4 L676.0,833.4 L676.4,833.4 L676.9,833.4 L677.3,833.5 L677.7,833.5 L678.1,833.5 L678.5,833.5 L678.9,833.5 L679.3,833.6 L679.8,833.6 L680.2,833.6 L680.6,833.6 L681.0,833.6 L681.4,833.7 L681.8,833.7 L682.3,833.7 L682.7,833.7 L683.1,833.7 L683.5,833.8"/>
</g>
<g font-family="Liberation Serif" font-weight="bold" font-size="18.9" fill="#202020">
<text x="77.6" y="21.34" text-anchor="end" dominant-baseline="central">40</text>
<text x="77.6" y="41.48" text-anchor="end" dominant-baseline="central">20</text>
<text x="77.6" y="61.80" text-anchor="end" dominant-baseline="central">0</text>
<text x="77.6" y="94.30" text-anchor="end" dominant-baseline="central">10</text>
<text x="77.6" y="116.57" text-anchor="end" dominant-baseline="central">0</text>
<text x="77.6" y="138.85" text-anchor="end" dominant-baseline="central">-10</text>
<text x="77.6" y="171.30" text-anchor="end" dominant-baseline="central">10</text>
<text x="77.6" y="193.58" text-anchor="end" dominant-baseline="central">0</text>
<text x="77.6" y="215.85" text-anchor="end" dominant-baseline="central">-10</text>
<text x="77.6" y="251.35" text-anchor="end" dominant-baseline="central">5</text>
<text x="77.6" y="271.70" text-anchor="end" dominant-baseline="central">0</text>
<text x="77.6" y="292.00" text-anchor="end" dominant-baseline="central">-5</text>
<text x="77.6" y="329.15" text-anchor="end" dominant-baseline="central">5</text>
<text x="77.6" y="349.15" text-anchor="end" dominant-baseline="central">0</text>
<text x="77.6" y="369.20" text-anchor="end" dominant-baseline="central">-5</text>
<text x="77.6" y="403.25" text-anchor="end" dominant-baseline="central">10</text>
<text x="77.6" y="425.52" text-anchor="end" dominant-baseline="central">0</text>
<text x="77.6" y="447.80" text-anchor="end" dominant-baseline="central">-10</text>
<text x="77.6" y="480.25" text-anchor="end" dominant-baseline="central">20</text>
<text x="77.6" y="502.52" text-anchor="end" dominant-baseline="central">0</text>
<text x="77.6" y="524.80" text-anchor="end" dominant-baseline="central">-20</text>
<text x="77.6" y="561.60" text-anchor="end" dominant-baseline="central">10</text>
<text x="77.6" y="579.50" text-anchor="end" dominant-baseline="central">0</text>
<text x="77.6" y="597.40" text-anchor="end" dominant-baseline="central">-10</text>
<text x="77.6" y="634.30" text-anchor="end" dominant-baseline="central">2</text>
<text x="77.6" y="656.57" text-anchor="end" dominant-baseline="central">0</text>
<text x="77.6" y="678.85" text-anchor="end" dominant-baseline="central">-2</text>
<text x="77.6" y="711.30" text-anchor="end" dominant-baseline="central">1</text>
<text x="77.6" y="733.57" text-anchor="end" dominant-baseline="central">0</text>
<text x="77.6" y="755.85" text-anchor="end" dominant-baseline="central">-1</text>
<text x="77.6" y="802.30" text-anchor="end" dominant-baseline="central">17.25</text>
<text x="77.6" y="829.80" text-anchor="end" dominant-baseline="central">17.245</text>
<text x="168.46" y="858.6" text-anchor="middle">200</text>
<text x="251.53" y="858.6" text-anchor="middle">400</text>
<text x="334.60" y="858.6" text-anchor="middle">600</text>
<text x="417.67" y="858.6" text-anchor="middle">800</text>
<text x="500.74" y="858.6" text-anchor="middle">1000</text>
<text x="583.81" y="858.6" text-anchor="middle">1200</text>
<text x="666.89" y="858.6" text-anchor="middle">1400</text>
</g>
<g font-family="Liberation Serif" font-weight="bold" font-size="21.0" fill="#202020" text-anchor="middle">
<text transform="translate(42.0,118.05) rotate(-90)">IMF 1</text>
<text transform="translate(42.0,194.90) rotate(-90)">IMF 2</text>
<text transform="translate(40.4,264.80) rotate(-90)">IMF 3</text>
<text transform="translate(42.0,342.45) rotate(-90)">IMF 4</text>
<text transform="translate(42.0,426.45) rotate(-90)">IMF 5</text>
<text transform="translate(42.0,503.25) rotate(-90)">IMF 6</text>
<text transform="translate(42.0,580.50) rotate(-90)">IMF 7</text>
<text transform="translate(42.7,659.75) rotate(-90)">IMF 8</text>
<text transform="translate(42.7,733.95) rotate(-90)">IMF 9</text>
<text transform="translate(13.8,812.40) rotate(-90)">IMF 10</text>
<text transform="translate(23.8,39.82) rotate(-90)">original</text>
<text transform="translate(48.0,39.82) rotate(-90)">sequence</text>
<text x="384.65" y="884.0">time series</text>
</g>
</svg>
</body></html>
